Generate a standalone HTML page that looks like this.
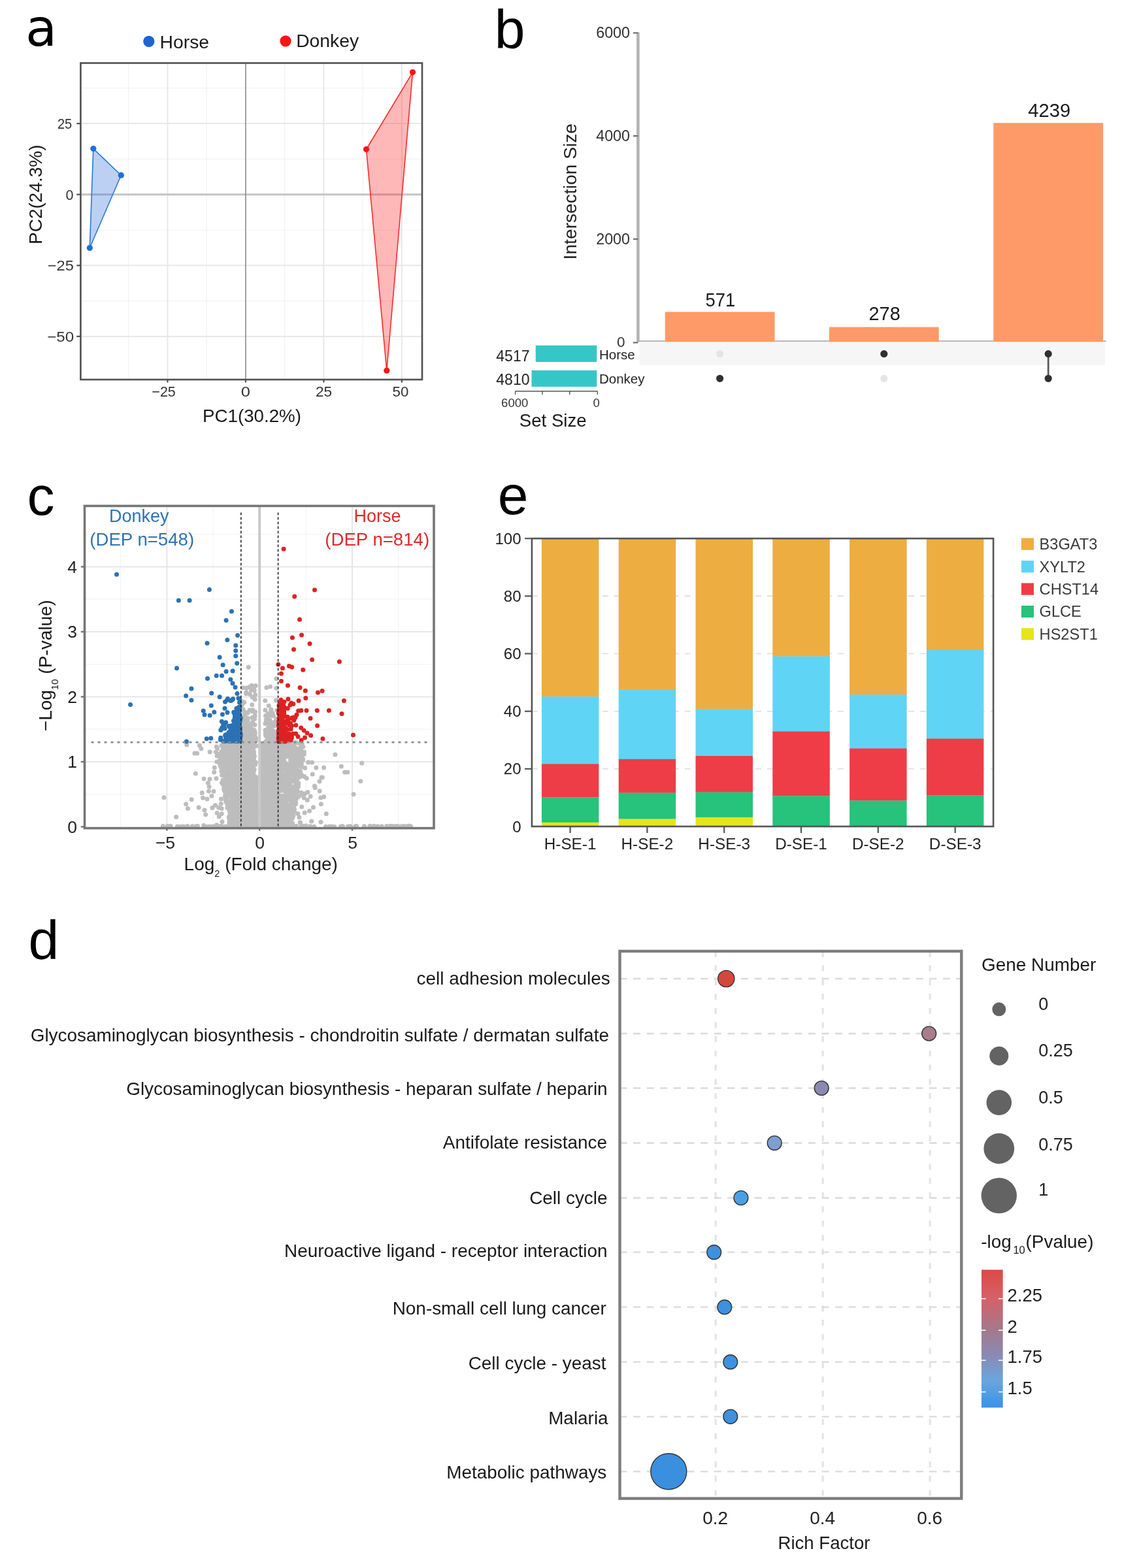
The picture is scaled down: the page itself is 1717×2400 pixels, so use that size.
<!DOCTYPE html>
<html><head><meta charset="utf-8"><title>Figure</title>
<style>html,body{margin:0;padding:0;background:#fff;}svg{display:block;}</style></head>
<body><svg width="1717" height="2400" viewBox="0 0 1717 2400" font-family='"Liberation Sans", Arial, Helvetica, sans-serif'>
<rect width="1717" height="2400" fill="#fff"/>
<text x="38.9" y="70.4" font-size="78.6" text-anchor="start" fill="#000" font-family="DejaVu Sans">a</text>
<circle cx="227.8" cy="63.3" r="8.6" fill="#1f63d6" />
<text x="244.6" y="74.2" font-size="28.3" text-anchor="start" fill="#1a1a1a" >Horse</text>
<circle cx="437.0" cy="62.8" r="8.6" fill="#fe1313" />
<text x="453.2" y="72.4" font-size="28.3" text-anchor="start" fill="#1a1a1a" >Donkey</text>
<line x1="196.6" y1="96.5" x2="196.6" y2="581.0" stroke="#f2f2f2" stroke-width="1.2" />
<line x1="316.1" y1="96.5" x2="316.1" y2="581.0" stroke="#f2f2f2" stroke-width="1.2" />
<line x1="435.6" y1="96.5" x2="435.6" y2="581.0" stroke="#f2f2f2" stroke-width="1.2" />
<line x1="555.1" y1="96.5" x2="555.1" y2="581.0" stroke="#f2f2f2" stroke-width="1.2" />
<line x1="123.4" y1="134.8" x2="646.0" y2="134.8" stroke="#f2f2f2" stroke-width="1.2" />
<line x1="123.4" y1="243.4" x2="646.0" y2="243.4" stroke="#f2f2f2" stroke-width="1.2" />
<line x1="123.4" y1="352.0" x2="646.0" y2="352.0" stroke="#f2f2f2" stroke-width="1.2" />
<line x1="123.4" y1="460.6" x2="646.0" y2="460.6" stroke="#f2f2f2" stroke-width="1.2" />
<line x1="256.4" y1="96.5" x2="256.4" y2="581.0" stroke="#e8e8e8" stroke-width="2" />
<line x1="495.4" y1="96.5" x2="495.4" y2="581.0" stroke="#e8e8e8" stroke-width="2" />
<line x1="614.9" y1="96.5" x2="614.9" y2="581.0" stroke="#e8e8e8" stroke-width="2" />
<line x1="123.4" y1="189.1" x2="646.0" y2="189.1" stroke="#e8e8e8" stroke-width="2" />
<line x1="123.4" y1="406.3" x2="646.0" y2="406.3" stroke="#e8e8e8" stroke-width="2" />
<line x1="123.4" y1="514.9" x2="646.0" y2="514.9" stroke="#e8e8e8" stroke-width="2" />
<line x1="123.4" y1="297.7" x2="646.0" y2="297.7" stroke="#c4c4c4" stroke-width="3" />
<line x1="375.9" y1="96.5" x2="375.9" y2="581.0" stroke="#8a8a8a" stroke-width="1.6" />
<polygon points="142.8,227.6 185.3,268.2 137.3,379.5" fill="#1f63d6" fill-opacity="0.3" stroke="#2a78d8" stroke-width="1.6"/>
<polygon points="631.5,110.6 560.5,228.5 591.8,567.2" fill="#fe1313" fill-opacity="0.3" stroke="#fe2a2a" stroke-width="1.6"/>
<circle cx="142.8" cy="227.6" r="4.6" fill="#1f6fd6" />
<circle cx="185.3" cy="268.2" r="4.6" fill="#1f6fd6" />
<circle cx="137.3" cy="379.5" r="4.6" fill="#1f6fd6" />
<circle cx="631.5" cy="110.6" r="4.6" fill="#fe1313" />
<circle cx="560.5" cy="228.5" r="4.6" fill="#fe1313" />
<circle cx="591.8" cy="567.2" r="4.6" fill="#fe1313" />
<rect x="123.4" y="96.5" width="522.6" height="484.5" fill="none" stroke="#505050" stroke-width="2.6"/>
<line x1="117.3" y1="189.1" x2="123.4" y2="189.1" stroke="#505050" stroke-width="2.2" />
<text x="87.90" y="197.00" font-size="22.5" fill="#333" textLength="22.14" lengthAdjust="spacingAndGlyphs" >25</text>
<line x1="117.3" y1="297.7" x2="123.4" y2="297.7" stroke="#505050" stroke-width="2.2" />
<text x="100.56" y="305.60" font-size="22.5" fill="#333" textLength="11.98" lengthAdjust="spacingAndGlyphs" >0</text>
<line x1="117.3" y1="406.3" x2="123.4" y2="406.3" stroke="#505050" stroke-width="2.2" />
<text x="72.74" y="414.20" font-size="22.5" fill="#333" textLength="40.06" lengthAdjust="spacingAndGlyphs" >−25</text>
<line x1="117.3" y1="514.9" x2="123.4" y2="514.9" stroke="#505050" stroke-width="2.2" />
<text x="72.21" y="522.80" font-size="22.5" fill="#333" textLength="40.93" lengthAdjust="spacingAndGlyphs" >−50</text>
<line x1="256.4" y1="581.0" x2="256.4" y2="585.5" stroke="#505050" stroke-width="2.2" />
<text x="232.34" y="607.00" font-size="22.5" fill="#333" textLength="36.46" lengthAdjust="spacingAndGlyphs" >−25</text>
<line x1="375.9" y1="581.0" x2="375.9" y2="585.5" stroke="#505050" stroke-width="2.2" />
<text x="368.80" y="607.00" font-size="22.5" fill="#333" textLength="14.19" lengthAdjust="spacingAndGlyphs" >0</text>
<line x1="495.4" y1="581.0" x2="495.4" y2="585.5" stroke="#505050" stroke-width="2.2" />
<text x="482.96" y="607.00" font-size="22.5" fill="#333" textLength="25.19" lengthAdjust="spacingAndGlyphs" >25</text>
<line x1="614.9" y1="581.0" x2="614.9" y2="585.5" stroke="#505050" stroke-width="2.2" />
<text x="600.51" y="607.00" font-size="22.5" fill="#333" textLength="24.76" lengthAdjust="spacingAndGlyphs" >50</text>
<text x="385.5" y="645.7" font-size="27.7" text-anchor="middle" fill="#1a1a1a" >PC1(30.2%)</text>
<text transform="translate(63.5,297.7) rotate(-90)" font-size="28" text-anchor="middle" fill="#1a1a1a">PC2(24.3%)</text>
<text x="756.7" y="73.6" font-size="84" text-anchor="start" fill="#000" >b</text>
<rect x="978.5" y="523.0" width="712.5" height="36.0" fill="#f6f6f6" />
<line x1="976.4" y1="49.4" x2="976.4" y2="523.5" stroke="#b3b3b3" stroke-width="4.6" />
<line x1="974.0" y1="522.2" x2="1692.7" y2="522.2" stroke="#b0b0b0" stroke-width="1.8" />
<line x1="969.0" y1="50.4" x2="976.4" y2="50.4" stroke="#707070" stroke-width="2.2" />
<line x1="969.0" y1="208.1" x2="976.4" y2="208.1" stroke="#707070" stroke-width="2.2" />
<line x1="969.0" y1="365.9" x2="976.4" y2="365.9" stroke="#707070" stroke-width="2.2" />
<line x1="969.0" y1="524.4" x2="976.4" y2="524.4" stroke="#707070" stroke-width="2.2" />
<text x="964.0" y="58.1" font-size="23.3" text-anchor="end" fill="#333" >6000</text>
<text x="964.0" y="215.8" font-size="23.3" text-anchor="end" fill="#333" >4000</text>
<text x="964.0" y="373.6" font-size="23.3" text-anchor="end" fill="#333" >2000</text>
<text x="956.5" y="530.8" font-size="22.5" text-anchor="end" fill="#333" >0</text>
<text transform="translate(882.3,293.2) rotate(-90)" font-size="28.2" text-anchor="middle" fill="#222">Intersection Size</text>
<rect x="1017.7" y="477.5" width="167.8" height="45.7" fill="#fd9a67" />
<text x="1079.50" y="468.60" font-size="29" fill="#1a1a1a" textLength="45.63" lengthAdjust="spacingAndGlyphs" >571</text>
<rect x="1268.9" y="500.6" width="167.8" height="22.6" fill="#fd9a67" />
<text x="1329.55" y="489.60" font-size="29" fill="#1a1a1a" textLength="48.21" lengthAdjust="spacingAndGlyphs" >278</text>
<rect x="1520.3" y="188.2" width="167.8" height="335.0" fill="#fd9a67" />
<text x="1573.23" y="179.00" font-size="29" fill="#1a1a1a" textLength="64.95" lengthAdjust="spacingAndGlyphs" >4239</text>
<circle cx="1101.6" cy="541.6" r="5.6" fill="#e4e4e4" />
<circle cx="1101.6" cy="579.3" r="5.6" fill="#303030" />
<circle cx="1352.8" cy="541.6" r="5.6" fill="#303030" />
<circle cx="1352.8" cy="579.3" r="5.6" fill="#e4e4e4" />
<line x1="1604.2" y1="541.6" x2="1604.2" y2="579.3" stroke="#5a5a5a" stroke-width="2.8" />
<circle cx="1604.2" cy="541.6" r="5.6" fill="#303030" />
<circle cx="1604.2" cy="579.3" r="5.6" fill="#303030" />
<rect x="819.7" y="528.7" width="93.6" height="25.3" fill="#35c7c7" />
<rect x="813.5" y="566.9" width="99.8" height="25.0" fill="#35c7c7" />
<text x="810.5" y="553.3" font-size="23" text-anchor="end" fill="#222" >4517</text>
<text x="810.5" y="589.4" font-size="23" text-anchor="end" fill="#222" >4810</text>
<text x="917.0" y="550.0" font-size="20.5" text-anchor="start" fill="#222" >Horse</text>
<text x="917.0" y="586.9" font-size="20.5" text-anchor="start" fill="#222" >Donkey</text>
<line x1="788.6" y1="598.8" x2="914.3" y2="598.8" stroke="#555" stroke-width="1.4" />
<line x1="788.6" y1="598.8" x2="788.6" y2="604.0" stroke="#555" stroke-width="1.4" />
<line x1="829.9" y1="598.8" x2="829.9" y2="604.0" stroke="#555" stroke-width="1.4" />
<line x1="871.8" y1="598.8" x2="871.8" y2="604.0" stroke="#555" stroke-width="1.4" />
<line x1="914.3" y1="598.8" x2="914.3" y2="604.0" stroke="#555" stroke-width="1.4" />
<text x="787.7" y="622.6" font-size="18.5" text-anchor="middle" fill="#333" >6000</text>
<text x="912.7" y="622.6" font-size="18.5" text-anchor="middle" fill="#333" >0</text>
<text x="846.2" y="653.0" font-size="27.6" text-anchor="middle" fill="#1a1a1a" >Set Size</text>
<text x="41.4" y="787.6" font-size="84" text-anchor="start" fill="#000" >c</text>
<svg x="129.5" y="774.4" width="534.5" height="493.19999999999993" viewBox="129.5 774.4 534.5 493.19999999999993" overflow="hidden">
<line x1="184.5" y1="774.4" x2="184.5" y2="1267.6" stroke="#f3f3f3" stroke-width="1.2" />
<line x1="326.3" y1="774.4" x2="326.3" y2="1267.6" stroke="#f3f3f3" stroke-width="1.2" />
<line x1="468.1" y1="774.4" x2="468.1" y2="1267.6" stroke="#f3f3f3" stroke-width="1.2" />
<line x1="609.9" y1="774.4" x2="609.9" y2="1267.6" stroke="#f3f3f3" stroke-width="1.2" />
<line x1="129.5" y1="1215.8" x2="664.0" y2="1215.8" stroke="#f3f3f3" stroke-width="1.2" />
<line x1="129.5" y1="1116.2" x2="664.0" y2="1116.2" stroke="#f3f3f3" stroke-width="1.2" />
<line x1="129.5" y1="1016.8" x2="664.0" y2="1016.8" stroke="#f3f3f3" stroke-width="1.2" />
<line x1="129.5" y1="917.2" x2="664.0" y2="917.2" stroke="#f3f3f3" stroke-width="1.2" />
<line x1="129.5" y1="817.8" x2="664.0" y2="817.8" stroke="#f3f3f3" stroke-width="1.2" />
<line x1="255.4" y1="774.4" x2="255.4" y2="1267.6" stroke="#e6e6e6" stroke-width="2" />
<line x1="397.2" y1="774.4" x2="397.2" y2="1267.6" stroke="#e6e6e6" stroke-width="2" />
<line x1="539.0" y1="774.4" x2="539.0" y2="1267.6" stroke="#e6e6e6" stroke-width="2" />
<line x1="129.5" y1="1166.0" x2="664.0" y2="1166.0" stroke="#e6e6e6" stroke-width="2" />
<line x1="129.5" y1="1066.5" x2="664.0" y2="1066.5" stroke="#e6e6e6" stroke-width="2" />
<line x1="129.5" y1="967.0" x2="664.0" y2="967.0" stroke="#e6e6e6" stroke-width="2" />
<line x1="129.5" y1="867.5" x2="664.0" y2="867.5" stroke="#e6e6e6" stroke-width="2" />
<g fill="#bdbdbd"><circle cx="423.6" cy="1207.0" r="3.5"/><circle cx="414.8" cy="1205.3" r="3.5"/><circle cx="415.9" cy="1241.6" r="3.5"/><circle cx="385.8" cy="1162.9" r="3.5"/><circle cx="417.6" cy="1253.8" r="3.5"/><circle cx="424.6" cy="1260.1" r="3.5"/><circle cx="403.6" cy="1180.9" r="3.5"/><circle cx="401.0" cy="1263.6" r="3.5"/><circle cx="392.5" cy="1240.9" r="3.5"/><circle cx="372.7" cy="1205.5" r="3.5"/><circle cx="412.5" cy="1198.4" r="3.5"/><circle cx="386.4" cy="1179.8" r="3.5"/><circle cx="421.4" cy="1136.5" r="3.5"/><circle cx="387.6" cy="1173.9" r="3.5"/><circle cx="374.5" cy="1228.1" r="3.5"/><circle cx="409.6" cy="1213.7" r="3.5"/><circle cx="399.5" cy="1141.6" r="3.5"/><circle cx="411.7" cy="1238.4" r="3.5"/><circle cx="402.5" cy="1140.8" r="3.5"/><circle cx="391.8" cy="1233.6" r="3.5"/><circle cx="379.6" cy="1162.4" r="3.5"/><circle cx="375.4" cy="1207.6" r="3.5"/><circle cx="402.5" cy="1248.6" r="3.5"/><circle cx="386.6" cy="1211.1" r="3.5"/><circle cx="407.4" cy="1139.9" r="3.5"/><circle cx="383.6" cy="1151.0" r="3.5"/><circle cx="402.1" cy="1155.0" r="3.5"/><circle cx="386.9" cy="1137.5" r="3.5"/><circle cx="386.0" cy="1165.6" r="3.5"/><circle cx="379.0" cy="1256.0" r="3.5"/><circle cx="409.2" cy="1234.1" r="3.5"/><circle cx="412.1" cy="1206.9" r="3.5"/><circle cx="404.2" cy="1191.2" r="3.5"/><circle cx="420.8" cy="1245.6" r="3.5"/><circle cx="375.2" cy="1233.2" r="3.5"/><circle cx="370.1" cy="1143.9" r="3.5"/><circle cx="410.5" cy="1151.4" r="3.5"/><circle cx="369.8" cy="1252.1" r="3.5"/><circle cx="406.2" cy="1234.7" r="3.5"/><circle cx="407.1" cy="1159.0" r="3.5"/><circle cx="401.3" cy="1242.8" r="3.5"/><circle cx="421.7" cy="1236.0" r="3.5"/><circle cx="370.9" cy="1186.0" r="3.5"/><circle cx="386.7" cy="1239.1" r="3.5"/><circle cx="388.9" cy="1207.8" r="3.5"/><circle cx="402.9" cy="1217.8" r="3.5"/><circle cx="425.1" cy="1218.7" r="3.5"/><circle cx="414.7" cy="1180.5" r="3.5"/><circle cx="392.8" cy="1247.3" r="3.5"/><circle cx="424.6" cy="1147.8" r="3.5"/><circle cx="412.1" cy="1262.8" r="3.5"/><circle cx="368.9" cy="1171.0" r="3.5"/><circle cx="418.7" cy="1255.8" r="3.5"/><circle cx="417.8" cy="1149.1" r="3.5"/><circle cx="408.6" cy="1162.9" r="3.5"/><circle cx="422.2" cy="1176.9" r="3.5"/><circle cx="422.0" cy="1211.5" r="3.5"/><circle cx="409.4" cy="1191.4" r="3.5"/><circle cx="401.6" cy="1190.1" r="3.5"/><circle cx="422.4" cy="1182.8" r="3.5"/><circle cx="375.3" cy="1171.3" r="3.5"/><circle cx="372.8" cy="1190.4" r="3.5"/><circle cx="400.2" cy="1254.7" r="3.5"/><circle cx="387.6" cy="1187.7" r="3.5"/><circle cx="378.2" cy="1175.2" r="3.5"/><circle cx="389.1" cy="1177.8" r="3.5"/><circle cx="371.5" cy="1180.1" r="3.5"/><circle cx="404.6" cy="1223.2" r="3.5"/><circle cx="423.3" cy="1209.8" r="3.5"/><circle cx="379.0" cy="1151.6" r="3.5"/><circle cx="381.1" cy="1224.6" r="3.5"/><circle cx="418.0" cy="1157.2" r="3.5"/><circle cx="383.1" cy="1229.9" r="3.5"/><circle cx="385.5" cy="1184.6" r="3.5"/><circle cx="411.3" cy="1157.0" r="3.5"/><circle cx="371.9" cy="1255.8" r="3.5"/><circle cx="414.4" cy="1260.1" r="3.5"/><circle cx="400.0" cy="1225.5" r="3.5"/><circle cx="392.6" cy="1247.9" r="3.5"/><circle cx="377.9" cy="1184.1" r="3.5"/><circle cx="424.5" cy="1180.8" r="3.5"/><circle cx="381.6" cy="1177.0" r="3.5"/><circle cx="381.7" cy="1242.4" r="3.5"/><circle cx="386.6" cy="1173.1" r="3.5"/><circle cx="413.0" cy="1220.8" r="3.5"/><circle cx="409.7" cy="1186.0" r="3.5"/><circle cx="401.7" cy="1163.1" r="3.5"/><circle cx="402.9" cy="1144.9" r="3.5"/><circle cx="423.2" cy="1206.8" r="3.5"/><circle cx="422.4" cy="1216.8" r="3.5"/><circle cx="411.6" cy="1162.4" r="3.5"/><circle cx="375.6" cy="1181.3" r="3.5"/><circle cx="418.2" cy="1159.6" r="3.5"/><circle cx="425.1" cy="1237.9" r="3.5"/><circle cx="420.1" cy="1139.1" r="3.5"/><circle cx="421.8" cy="1224.1" r="3.5"/><circle cx="382.5" cy="1220.4" r="3.5"/><circle cx="412.2" cy="1194.3" r="3.5"/><circle cx="401.1" cy="1261.8" r="3.5"/><circle cx="385.1" cy="1162.0" r="3.5"/><circle cx="417.5" cy="1171.9" r="3.5"/><circle cx="370.1" cy="1143.2" r="3.5"/><circle cx="380.4" cy="1254.4" r="3.5"/><circle cx="416.1" cy="1228.0" r="3.5"/><circle cx="414.1" cy="1197.9" r="3.5"/><circle cx="372.6" cy="1225.2" r="3.5"/><circle cx="372.5" cy="1149.0" r="3.5"/><circle cx="414.4" cy="1140.2" r="3.5"/><circle cx="412.6" cy="1239.5" r="3.5"/><circle cx="369.6" cy="1187.2" r="3.5"/><circle cx="373.7" cy="1198.8" r="3.5"/><circle cx="376.4" cy="1192.7" r="3.5"/><circle cx="410.3" cy="1257.0" r="3.5"/><circle cx="406.5" cy="1141.7" r="3.5"/><circle cx="382.7" cy="1204.3" r="3.5"/><circle cx="411.9" cy="1160.0" r="3.5"/><circle cx="378.2" cy="1224.5" r="3.5"/><circle cx="374.2" cy="1145.8" r="3.5"/><circle cx="387.7" cy="1262.6" r="3.5"/><circle cx="384.6" cy="1176.6" r="3.5"/><circle cx="375.4" cy="1185.3" r="3.5"/><circle cx="406.0" cy="1249.6" r="3.5"/><circle cx="410.9" cy="1239.9" r="3.5"/><circle cx="380.3" cy="1216.9" r="3.5"/><circle cx="377.8" cy="1244.8" r="3.5"/><circle cx="421.7" cy="1182.9" r="3.5"/><circle cx="405.5" cy="1186.4" r="3.5"/><circle cx="423.0" cy="1169.7" r="3.5"/><circle cx="370.7" cy="1224.6" r="3.5"/><circle cx="422.6" cy="1237.3" r="3.5"/><circle cx="375.5" cy="1248.2" r="3.5"/><circle cx="372.9" cy="1231.9" r="3.5"/><circle cx="402.8" cy="1211.0" r="3.5"/><circle cx="399.9" cy="1213.4" r="3.5"/><circle cx="423.2" cy="1239.5" r="3.5"/><circle cx="380.9" cy="1140.2" r="3.5"/><circle cx="417.4" cy="1167.4" r="3.5"/><circle cx="390.6" cy="1241.1" r="3.5"/><circle cx="412.9" cy="1260.7" r="3.5"/><circle cx="423.7" cy="1156.8" r="3.5"/><circle cx="370.0" cy="1253.2" r="3.5"/><circle cx="408.0" cy="1205.7" r="3.5"/><circle cx="410.7" cy="1205.1" r="3.5"/><circle cx="376.1" cy="1187.8" r="3.5"/><circle cx="382.2" cy="1156.3" r="3.5"/><circle cx="388.5" cy="1169.9" r="3.5"/><circle cx="399.9" cy="1244.1" r="3.5"/><circle cx="417.9" cy="1150.0" r="3.5"/><circle cx="410.0" cy="1154.2" r="3.5"/><circle cx="425.1" cy="1187.9" r="3.5"/><circle cx="371.0" cy="1161.4" r="3.5"/><circle cx="420.7" cy="1169.2" r="3.5"/><circle cx="422.4" cy="1213.0" r="3.5"/><circle cx="419.4" cy="1175.6" r="3.5"/><circle cx="401.3" cy="1213.0" r="3.5"/><circle cx="393.0" cy="1221.3" r="3.5"/><circle cx="415.8" cy="1219.5" r="3.5"/><circle cx="416.8" cy="1235.5" r="3.5"/><circle cx="414.3" cy="1221.8" r="3.5"/><circle cx="368.8" cy="1196.5" r="3.5"/><circle cx="419.3" cy="1182.4" r="3.5"/><circle cx="378.2" cy="1138.7" r="3.5"/><circle cx="383.4" cy="1169.9" r="3.5"/><circle cx="384.1" cy="1259.0" r="3.5"/><circle cx="371.1" cy="1252.8" r="3.5"/><circle cx="424.7" cy="1194.4" r="3.5"/><circle cx="416.1" cy="1192.0" r="3.5"/><circle cx="378.7" cy="1160.8" r="3.5"/><circle cx="370.5" cy="1167.3" r="3.5"/><circle cx="389.1" cy="1244.8" r="3.5"/><circle cx="401.0" cy="1201.4" r="3.5"/><circle cx="380.4" cy="1143.2" r="3.5"/><circle cx="386.3" cy="1188.2" r="3.5"/><circle cx="406.9" cy="1180.8" r="3.5"/><circle cx="374.8" cy="1260.0" r="3.5"/><circle cx="419.0" cy="1215.1" r="3.5"/><circle cx="424.1" cy="1259.0" r="3.5"/><circle cx="410.7" cy="1256.0" r="3.5"/><circle cx="405.8" cy="1203.7" r="3.5"/><circle cx="418.3" cy="1197.8" r="3.5"/><circle cx="420.8" cy="1204.9" r="3.5"/><circle cx="378.0" cy="1187.4" r="3.5"/><circle cx="392.0" cy="1206.6" r="3.5"/><circle cx="382.4" cy="1197.2" r="3.5"/><circle cx="386.8" cy="1179.1" r="3.5"/><circle cx="374.3" cy="1190.2" r="3.5"/><circle cx="424.3" cy="1196.8" r="3.5"/><circle cx="390.5" cy="1170.5" r="3.5"/><circle cx="408.8" cy="1164.0" r="3.5"/><circle cx="414.2" cy="1230.4" r="3.5"/><circle cx="419.1" cy="1189.0" r="3.5"/><circle cx="369.3" cy="1240.9" r="3.5"/><circle cx="400.5" cy="1147.1" r="3.5"/><circle cx="382.9" cy="1257.6" r="3.5"/><circle cx="380.0" cy="1184.9" r="3.5"/><circle cx="376.7" cy="1256.1" r="3.5"/><circle cx="409.2" cy="1194.3" r="3.5"/><circle cx="384.8" cy="1203.6" r="3.5"/><circle cx="401.4" cy="1169.2" r="3.5"/><circle cx="415.7" cy="1250.0" r="3.5"/><circle cx="382.9" cy="1166.1" r="3.5"/><circle cx="409.1" cy="1232.1" r="3.5"/><circle cx="408.0" cy="1180.9" r="3.5"/><circle cx="423.5" cy="1194.5" r="3.5"/><circle cx="390.9" cy="1210.2" r="3.5"/><circle cx="407.3" cy="1202.8" r="3.5"/><circle cx="388.0" cy="1165.2" r="3.5"/><circle cx="385.8" cy="1179.9" r="3.5"/><circle cx="406.9" cy="1171.7" r="3.5"/><circle cx="375.5" cy="1247.0" r="3.5"/><circle cx="375.9" cy="1218.1" r="3.5"/><circle cx="424.0" cy="1191.9" r="3.5"/><circle cx="373.6" cy="1147.4" r="3.5"/><circle cx="383.5" cy="1226.1" r="3.5"/><circle cx="405.9" cy="1144.6" r="3.5"/><circle cx="384.4" cy="1218.7" r="3.5"/><circle cx="388.5" cy="1214.3" r="3.5"/><circle cx="413.6" cy="1192.6" r="3.5"/><circle cx="404.1" cy="1157.3" r="3.5"/><circle cx="406.8" cy="1167.3" r="3.5"/><circle cx="413.7" cy="1262.6" r="3.5"/><circle cx="416.5" cy="1192.1" r="3.5"/><circle cx="379.9" cy="1161.5" r="3.5"/><circle cx="377.8" cy="1149.2" r="3.5"/><circle cx="416.4" cy="1246.9" r="3.5"/><circle cx="374.6" cy="1233.8" r="3.5"/><circle cx="409.8" cy="1198.0" r="3.5"/><circle cx="417.0" cy="1221.8" r="3.5"/><circle cx="418.3" cy="1201.6" r="3.5"/><circle cx="410.2" cy="1173.9" r="3.5"/><circle cx="421.7" cy="1158.6" r="3.5"/><circle cx="422.7" cy="1161.3" r="3.5"/><circle cx="413.1" cy="1141.6" r="3.5"/><circle cx="410.5" cy="1173.7" r="3.5"/><circle cx="375.2" cy="1211.1" r="3.5"/><circle cx="369.6" cy="1210.5" r="3.5"/><circle cx="390.4" cy="1257.8" r="3.5"/><circle cx="404.2" cy="1181.7" r="3.5"/><circle cx="379.0" cy="1257.4" r="3.5"/><circle cx="375.7" cy="1237.4" r="3.5"/><circle cx="407.6" cy="1243.2" r="3.5"/><circle cx="412.0" cy="1194.6" r="3.5"/><circle cx="423.3" cy="1231.8" r="3.5"/><circle cx="424.4" cy="1221.3" r="3.5"/><circle cx="392.0" cy="1203.1" r="3.5"/><circle cx="380.4" cy="1161.8" r="3.5"/><circle cx="369.1" cy="1198.8" r="3.5"/><circle cx="418.1" cy="1217.4" r="3.5"/><circle cx="412.9" cy="1231.9" r="3.5"/><circle cx="406.4" cy="1183.1" r="3.5"/><circle cx="374.4" cy="1196.4" r="3.5"/><circle cx="421.5" cy="1265.3" r="3.5"/><circle cx="386.6" cy="1159.2" r="3.5"/><circle cx="381.5" cy="1172.8" r="3.5"/><circle cx="414.8" cy="1204.9" r="3.5"/><circle cx="374.0" cy="1154.6" r="3.5"/><circle cx="401.8" cy="1211.6" r="3.5"/><circle cx="380.0" cy="1158.6" r="3.5"/><circle cx="372.9" cy="1197.5" r="3.5"/><circle cx="391.4" cy="1225.2" r="3.5"/><circle cx="375.8" cy="1226.0" r="3.5"/><circle cx="402.2" cy="1219.0" r="3.5"/><circle cx="369.6" cy="1214.5" r="3.5"/><circle cx="399.8" cy="1158.2" r="3.5"/><circle cx="405.7" cy="1216.7" r="3.5"/><circle cx="393.0" cy="1192.5" r="3.5"/><circle cx="378.2" cy="1162.1" r="3.5"/><circle cx="380.1" cy="1227.9" r="3.5"/><circle cx="383.7" cy="1226.9" r="3.5"/><circle cx="388.4" cy="1179.3" r="3.5"/><circle cx="370.2" cy="1170.9" r="3.5"/><circle cx="408.1" cy="1192.7" r="3.5"/><circle cx="404.2" cy="1177.8" r="3.5"/><circle cx="414.9" cy="1213.5" r="3.5"/><circle cx="389.4" cy="1253.8" r="3.5"/><circle cx="391.5" cy="1249.4" r="3.5"/><circle cx="380.8" cy="1146.4" r="3.5"/><circle cx="420.9" cy="1181.8" r="3.5"/><circle cx="383.2" cy="1215.6" r="3.5"/><circle cx="376.2" cy="1263.5" r="3.5"/><circle cx="416.7" cy="1138.5" r="3.5"/><circle cx="385.2" cy="1186.8" r="3.5"/><circle cx="402.2" cy="1221.2" r="3.5"/><circle cx="420.0" cy="1216.7" r="3.5"/><circle cx="403.6" cy="1158.8" r="3.5"/><circle cx="413.8" cy="1166.4" r="3.5"/><circle cx="403.2" cy="1219.9" r="3.5"/><circle cx="412.9" cy="1173.2" r="3.5"/><circle cx="404.6" cy="1173.0" r="3.5"/><circle cx="404.6" cy="1143.3" r="3.5"/><circle cx="379.2" cy="1254.7" r="3.5"/><circle cx="370.6" cy="1175.3" r="3.5"/><circle cx="390.2" cy="1218.8" r="3.5"/><circle cx="371.2" cy="1139.6" r="3.5"/><circle cx="414.1" cy="1195.2" r="3.5"/><circle cx="425.4" cy="1231.3" r="3.5"/><circle cx="402.7" cy="1159.8" r="3.5"/><circle cx="371.4" cy="1158.8" r="3.5"/><circle cx="421.1" cy="1234.3" r="3.5"/><circle cx="401.5" cy="1241.5" r="3.5"/><circle cx="369.2" cy="1261.4" r="3.5"/><circle cx="407.5" cy="1144.0" r="3.5"/><circle cx="409.4" cy="1178.7" r="3.5"/><circle cx="399.9" cy="1188.9" r="3.5"/><circle cx="389.7" cy="1239.7" r="3.5"/><circle cx="404.0" cy="1215.5" r="3.5"/><circle cx="379.4" cy="1198.3" r="3.5"/><circle cx="400.5" cy="1222.5" r="3.5"/><circle cx="369.8" cy="1178.7" r="3.5"/><circle cx="383.2" cy="1187.9" r="3.5"/><circle cx="419.2" cy="1184.8" r="3.5"/><circle cx="369.0" cy="1168.3" r="3.5"/><circle cx="410.1" cy="1157.1" r="3.5"/><circle cx="423.1" cy="1209.4" r="3.5"/><circle cx="410.7" cy="1197.5" r="3.5"/><circle cx="415.1" cy="1149.1" r="3.5"/><circle cx="378.8" cy="1168.2" r="3.5"/><circle cx="382.3" cy="1256.5" r="3.5"/><circle cx="385.8" cy="1197.4" r="3.5"/><circle cx="391.6" cy="1214.3" r="3.5"/><circle cx="416.8" cy="1147.6" r="3.5"/><circle cx="373.6" cy="1153.4" r="3.5"/><circle cx="414.3" cy="1236.8" r="3.5"/><circle cx="373.9" cy="1148.6" r="3.5"/><circle cx="424.3" cy="1249.5" r="3.5"/><circle cx="385.9" cy="1265.4" r="3.5"/><circle cx="371.4" cy="1223.5" r="3.5"/><circle cx="384.5" cy="1160.0" r="3.5"/><circle cx="392.5" cy="1189.8" r="3.5"/><circle cx="370.5" cy="1225.7" r="3.5"/><circle cx="388.2" cy="1139.1" r="3.5"/><circle cx="422.9" cy="1227.3" r="3.5"/><circle cx="408.7" cy="1240.2" r="3.5"/><circle cx="371.8" cy="1204.4" r="3.5"/><circle cx="377.8" cy="1136.7" r="3.5"/><circle cx="400.8" cy="1240.7" r="3.5"/><circle cx="407.6" cy="1251.8" r="3.5"/><circle cx="418.1" cy="1149.0" r="3.5"/><circle cx="423.9" cy="1248.1" r="3.5"/><circle cx="387.8" cy="1207.9" r="3.5"/><circle cx="404.6" cy="1225.8" r="3.5"/><circle cx="377.0" cy="1242.1" r="3.5"/><circle cx="377.1" cy="1163.3" r="3.5"/><circle cx="405.4" cy="1151.1" r="3.5"/><circle cx="416.9" cy="1226.6" r="3.5"/><circle cx="401.8" cy="1229.7" r="3.5"/><circle cx="380.3" cy="1138.3" r="3.5"/><circle cx="378.6" cy="1196.8" r="3.5"/><circle cx="373.6" cy="1228.7" r="3.5"/><circle cx="374.8" cy="1254.2" r="3.5"/><circle cx="379.9" cy="1233.7" r="3.5"/><circle cx="425.2" cy="1241.4" r="3.5"/><circle cx="374.9" cy="1261.2" r="3.5"/><circle cx="412.5" cy="1215.7" r="3.5"/><circle cx="416.3" cy="1242.2" r="3.5"/><circle cx="419.9" cy="1219.0" r="3.5"/><circle cx="421.5" cy="1198.7" r="3.5"/><circle cx="424.3" cy="1177.0" r="3.5"/><circle cx="403.8" cy="1243.0" r="3.5"/><circle cx="382.5" cy="1186.8" r="3.5"/><circle cx="420.1" cy="1165.5" r="3.5"/><circle cx="387.8" cy="1235.0" r="3.5"/><circle cx="422.2" cy="1173.1" r="3.5"/><circle cx="392.8" cy="1242.2" r="3.5"/><circle cx="382.5" cy="1201.3" r="3.5"/><circle cx="401.4" cy="1231.5" r="3.5"/><circle cx="413.6" cy="1148.1" r="3.5"/><circle cx="378.1" cy="1260.0" r="3.5"/><circle cx="378.9" cy="1197.5" r="3.5"/><circle cx="403.9" cy="1254.1" r="3.5"/><circle cx="376.4" cy="1232.5" r="3.5"/><circle cx="401.1" cy="1158.0" r="3.5"/><circle cx="388.0" cy="1212.4" r="3.5"/><circle cx="381.3" cy="1140.0" r="3.5"/><circle cx="403.2" cy="1167.0" r="3.5"/><circle cx="400.5" cy="1206.6" r="3.5"/><circle cx="403.2" cy="1234.4" r="3.5"/><circle cx="382.9" cy="1214.7" r="3.5"/><circle cx="368.9" cy="1255.6" r="3.5"/><circle cx="405.5" cy="1166.8" r="3.5"/><circle cx="405.8" cy="1232.7" r="3.5"/><circle cx="409.0" cy="1205.8" r="3.5"/><circle cx="415.4" cy="1221.9" r="3.5"/><circle cx="377.4" cy="1260.4" r="3.5"/><circle cx="376.3" cy="1257.9" r="3.5"/><circle cx="422.6" cy="1153.7" r="3.5"/><circle cx="372.7" cy="1205.7" r="3.5"/><circle cx="405.1" cy="1216.2" r="3.5"/><circle cx="379.8" cy="1220.6" r="3.5"/><circle cx="388.0" cy="1244.3" r="3.5"/><circle cx="382.3" cy="1205.0" r="3.5"/><circle cx="422.0" cy="1137.0" r="3.5"/><circle cx="391.5" cy="1239.0" r="3.5"/><circle cx="386.5" cy="1176.1" r="3.5"/><circle cx="386.8" cy="1263.1" r="3.5"/><circle cx="418.1" cy="1214.7" r="3.5"/><circle cx="389.5" cy="1230.8" r="3.5"/><circle cx="374.6" cy="1144.3" r="3.5"/><circle cx="400.0" cy="1171.9" r="3.5"/><circle cx="391.2" cy="1223.8" r="3.5"/><circle cx="374.4" cy="1151.4" r="3.5"/><circle cx="383.6" cy="1198.3" r="3.5"/><circle cx="389.5" cy="1234.7" r="3.5"/><circle cx="385.6" cy="1188.5" r="3.5"/><circle cx="403.0" cy="1210.6" r="3.5"/><circle cx="375.5" cy="1174.1" r="3.5"/><circle cx="388.2" cy="1179.3" r="3.5"/><circle cx="410.0" cy="1229.2" r="3.5"/><circle cx="405.4" cy="1215.5" r="3.5"/><circle cx="388.0" cy="1227.7" r="3.5"/><circle cx="377.9" cy="1260.2" r="3.5"/><circle cx="424.9" cy="1192.3" r="3.5"/><circle cx="423.4" cy="1226.9" r="3.5"/><circle cx="416.9" cy="1237.5" r="3.5"/><circle cx="405.6" cy="1142.0" r="3.5"/><circle cx="382.8" cy="1183.7" r="3.5"/><circle cx="383.9" cy="1214.7" r="3.5"/><circle cx="386.4" cy="1223.0" r="3.5"/><circle cx="381.6" cy="1245.0" r="3.5"/><circle cx="405.7" cy="1243.9" r="3.5"/><circle cx="382.9" cy="1253.5" r="3.5"/><circle cx="417.8" cy="1246.0" r="3.5"/><circle cx="400.1" cy="1193.9" r="3.5"/><circle cx="391.7" cy="1214.9" r="3.5"/><circle cx="381.1" cy="1213.2" r="3.5"/><circle cx="385.3" cy="1189.7" r="3.5"/><circle cx="384.8" cy="1232.7" r="3.5"/><circle cx="406.3" cy="1150.2" r="3.5"/><circle cx="381.8" cy="1179.1" r="3.5"/><circle cx="408.9" cy="1185.9" r="3.5"/><circle cx="419.6" cy="1191.0" r="3.5"/><circle cx="410.2" cy="1184.4" r="3.5"/><circle cx="373.0" cy="1211.7" r="3.5"/><circle cx="371.0" cy="1151.7" r="3.5"/><circle cx="380.9" cy="1260.6" r="3.5"/><circle cx="369.4" cy="1225.6" r="3.5"/><circle cx="387.7" cy="1246.1" r="3.5"/><circle cx="381.2" cy="1214.5" r="3.5"/><circle cx="415.8" cy="1181.4" r="3.5"/><circle cx="424.7" cy="1193.0" r="3.5"/><circle cx="371.6" cy="1222.4" r="3.5"/><circle cx="417.6" cy="1225.0" r="3.5"/><circle cx="421.0" cy="1176.7" r="3.5"/><circle cx="412.3" cy="1244.9" r="3.5"/><circle cx="386.3" cy="1192.6" r="3.5"/><circle cx="405.7" cy="1168.6" r="3.5"/><circle cx="388.9" cy="1233.3" r="3.5"/><circle cx="402.4" cy="1252.3" r="3.5"/><circle cx="412.0" cy="1207.1" r="3.5"/><circle cx="422.2" cy="1244.5" r="3.5"/><circle cx="380.9" cy="1258.6" r="3.5"/><circle cx="375.8" cy="1162.5" r="3.5"/><circle cx="408.0" cy="1232.9" r="3.5"/><circle cx="421.5" cy="1222.3" r="3.5"/><circle cx="410.4" cy="1158.3" r="3.5"/><circle cx="421.2" cy="1174.1" r="3.5"/><circle cx="384.0" cy="1161.9" r="3.5"/><circle cx="424.8" cy="1189.8" r="3.5"/><circle cx="410.4" cy="1248.2" r="3.5"/><circle cx="370.5" cy="1183.8" r="3.5"/><circle cx="375.8" cy="1137.6" r="3.5"/><circle cx="386.3" cy="1250.2" r="3.5"/><circle cx="402.6" cy="1170.9" r="3.5"/><circle cx="380.0" cy="1222.8" r="3.5"/><circle cx="385.7" cy="1203.0" r="3.5"/><circle cx="406.9" cy="1162.0" r="3.5"/><circle cx="419.4" cy="1214.8" r="3.5"/><circle cx="376.3" cy="1138.6" r="3.5"/><circle cx="403.3" cy="1194.9" r="3.5"/><circle cx="370.5" cy="1242.9" r="3.5"/><circle cx="390.3" cy="1233.0" r="3.5"/><circle cx="379.4" cy="1223.6" r="3.5"/><circle cx="406.6" cy="1246.9" r="3.5"/><circle cx="384.3" cy="1236.1" r="3.5"/><circle cx="391.7" cy="1231.9" r="3.5"/><circle cx="404.7" cy="1203.0" r="3.5"/><circle cx="383.1" cy="1153.3" r="3.5"/><circle cx="406.7" cy="1180.5" r="3.5"/><circle cx="425.4" cy="1144.1" r="3.5"/><circle cx="418.4" cy="1208.2" r="3.5"/><circle cx="389.1" cy="1242.8" r="3.5"/><circle cx="384.5" cy="1250.1" r="3.5"/><circle cx="380.7" cy="1168.0" r="3.5"/><circle cx="369.8" cy="1264.1" r="3.5"/><circle cx="420.6" cy="1264.1" r="3.5"/><circle cx="409.9" cy="1163.0" r="3.5"/><circle cx="419.5" cy="1161.6" r="3.5"/><circle cx="370.1" cy="1138.0" r="3.5"/><circle cx="406.0" cy="1213.5" r="3.5"/><circle cx="379.2" cy="1147.8" r="3.5"/><circle cx="384.2" cy="1236.1" r="3.5"/><circle cx="409.0" cy="1180.5" r="3.5"/><circle cx="386.4" cy="1183.0" r="3.5"/><circle cx="375.1" cy="1169.6" r="3.5"/><circle cx="404.1" cy="1194.8" r="3.5"/><circle cx="384.7" cy="1251.8" r="3.5"/><circle cx="381.0" cy="1209.8" r="3.5"/><circle cx="380.1" cy="1213.3" r="3.5"/><circle cx="371.8" cy="1142.3" r="3.5"/><circle cx="402.3" cy="1224.0" r="3.5"/><circle cx="369.8" cy="1137.8" r="3.5"/><circle cx="376.0" cy="1237.1" r="3.5"/><circle cx="376.7" cy="1242.5" r="3.5"/><circle cx="377.7" cy="1137.5" r="3.5"/><circle cx="405.0" cy="1216.6" r="3.5"/><circle cx="421.8" cy="1185.8" r="3.5"/><circle cx="414.3" cy="1184.2" r="3.5"/><circle cx="417.5" cy="1250.7" r="3.5"/><circle cx="410.4" cy="1206.9" r="3.5"/><circle cx="378.6" cy="1215.7" r="3.5"/><circle cx="400.3" cy="1191.4" r="3.5"/><circle cx="378.8" cy="1184.4" r="3.5"/><circle cx="403.4" cy="1188.6" r="3.5"/><circle cx="418.7" cy="1204.9" r="3.5"/><circle cx="425.3" cy="1225.0" r="3.5"/><circle cx="402.8" cy="1213.5" r="3.5"/><circle cx="387.5" cy="1137.4" r="3.5"/><circle cx="423.9" cy="1156.8" r="3.5"/><circle cx="412.8" cy="1158.2" r="3.5"/><circle cx="372.0" cy="1137.0" r="3.5"/><circle cx="373.5" cy="1173.4" r="3.5"/><circle cx="422.1" cy="1206.8" r="3.5"/><circle cx="377.5" cy="1240.1" r="3.5"/><circle cx="420.0" cy="1256.0" r="3.5"/><circle cx="373.7" cy="1202.0" r="3.5"/><circle cx="413.8" cy="1154.9" r="3.5"/><circle cx="403.4" cy="1148.3" r="3.5"/><circle cx="392.3" cy="1218.2" r="3.5"/><circle cx="421.2" cy="1220.8" r="3.5"/><circle cx="383.8" cy="1250.3" r="3.5"/><circle cx="423.0" cy="1155.7" r="3.5"/><circle cx="404.9" cy="1256.2" r="3.5"/><circle cx="418.5" cy="1184.1" r="3.5"/><circle cx="410.7" cy="1240.0" r="3.5"/><circle cx="385.5" cy="1263.5" r="3.5"/><circle cx="378.5" cy="1184.0" r="3.5"/><circle cx="390.4" cy="1205.2" r="3.5"/><circle cx="388.4" cy="1186.6" r="3.5"/><circle cx="418.7" cy="1136.8" r="3.5"/><circle cx="383.3" cy="1218.9" r="3.5"/><circle cx="410.6" cy="1246.6" r="3.5"/><circle cx="382.1" cy="1159.4" r="3.5"/><circle cx="408.5" cy="1200.0" r="3.5"/><circle cx="379.1" cy="1174.5" r="3.5"/><circle cx="406.9" cy="1228.7" r="3.5"/><circle cx="411.3" cy="1155.0" r="3.5"/><circle cx="375.1" cy="1144.7" r="3.5"/><circle cx="369.9" cy="1229.1" r="3.5"/><circle cx="417.0" cy="1227.6" r="3.5"/><circle cx="390.0" cy="1233.8" r="3.5"/><circle cx="383.0" cy="1149.7" r="3.5"/><circle cx="421.7" cy="1221.3" r="3.5"/><circle cx="402.1" cy="1189.1" r="3.5"/><circle cx="384.4" cy="1149.5" r="3.5"/><circle cx="416.9" cy="1217.1" r="3.5"/><circle cx="424.2" cy="1221.0" r="3.5"/><circle cx="411.7" cy="1262.5" r="3.5"/><circle cx="385.5" cy="1218.7" r="3.5"/><circle cx="424.8" cy="1178.7" r="3.5"/><circle cx="409.8" cy="1139.2" r="3.5"/><circle cx="417.8" cy="1158.3" r="3.5"/><circle cx="382.0" cy="1136.5" r="3.5"/><circle cx="405.2" cy="1213.6" r="3.5"/><circle cx="384.2" cy="1137.5" r="3.5"/><circle cx="375.1" cy="1247.0" r="3.5"/><circle cx="377.4" cy="1254.7" r="3.5"/><circle cx="406.1" cy="1184.9" r="3.5"/><circle cx="419.7" cy="1160.6" r="3.5"/><circle cx="392.8" cy="1250.0" r="3.5"/><circle cx="422.8" cy="1154.3" r="3.5"/><circle cx="380.2" cy="1262.4" r="3.5"/><circle cx="374.0" cy="1196.5" r="3.5"/><circle cx="402.7" cy="1226.5" r="3.5"/><circle cx="405.9" cy="1227.5" r="3.5"/><circle cx="387.9" cy="1212.0" r="3.5"/><circle cx="411.5" cy="1207.1" r="3.5"/><circle cx="372.5" cy="1155.5" r="3.5"/><circle cx="413.2" cy="1245.5" r="3.5"/><circle cx="422.0" cy="1212.9" r="3.5"/><circle cx="418.1" cy="1159.6" r="3.5"/><circle cx="400.2" cy="1245.2" r="3.5"/><circle cx="369.7" cy="1251.2" r="3.5"/><circle cx="400.7" cy="1182.3" r="3.5"/><circle cx="386.9" cy="1211.7" r="3.5"/><circle cx="408.0" cy="1251.0" r="3.5"/><circle cx="422.6" cy="1202.2" r="3.5"/><circle cx="412.5" cy="1143.1" r="3.5"/><circle cx="385.9" cy="1148.6" r="3.5"/><circle cx="384.3" cy="1169.9" r="3.5"/><circle cx="384.5" cy="1210.0" r="3.5"/><circle cx="392.0" cy="1209.8" r="3.5"/><circle cx="380.4" cy="1157.4" r="3.5"/><circle cx="387.8" cy="1194.7" r="3.5"/><circle cx="385.6" cy="1252.7" r="3.5"/><circle cx="375.0" cy="1202.9" r="3.5"/><circle cx="383.3" cy="1202.5" r="3.5"/><circle cx="378.8" cy="1140.5" r="3.5"/><circle cx="378.6" cy="1141.2" r="3.5"/><circle cx="378.4" cy="1217.8" r="3.5"/><circle cx="381.1" cy="1189.3" r="3.5"/><circle cx="400.9" cy="1198.7" r="3.5"/><circle cx="386.6" cy="1253.5" r="3.5"/><circle cx="372.3" cy="1162.6" r="3.5"/><circle cx="376.6" cy="1213.5" r="3.5"/><circle cx="421.2" cy="1254.4" r="3.5"/><circle cx="373.2" cy="1223.0" r="3.5"/><circle cx="400.9" cy="1163.5" r="3.5"/><circle cx="378.0" cy="1166.7" r="3.5"/><circle cx="416.1" cy="1194.1" r="3.5"/><circle cx="419.1" cy="1262.6" r="3.5"/><circle cx="375.3" cy="1190.5" r="3.5"/><circle cx="425.1" cy="1211.4" r="3.5"/><circle cx="374.2" cy="1146.9" r="3.5"/><circle cx="409.3" cy="1208.5" r="3.5"/><circle cx="390.4" cy="1207.6" r="3.5"/><circle cx="401.3" cy="1224.1" r="3.5"/><circle cx="416.9" cy="1250.5" r="3.5"/><circle cx="423.5" cy="1142.1" r="3.5"/><circle cx="380.1" cy="1238.2" r="3.5"/><circle cx="371.9" cy="1156.9" r="3.5"/><circle cx="382.7" cy="1204.4" r="3.5"/><circle cx="423.7" cy="1216.7" r="3.5"/><circle cx="409.6" cy="1201.6" r="3.5"/><circle cx="375.1" cy="1164.8" r="3.5"/><circle cx="404.7" cy="1244.0" r="3.5"/><circle cx="384.7" cy="1220.7" r="3.5"/><circle cx="409.6" cy="1189.0" r="3.5"/><circle cx="408.8" cy="1191.2" r="3.5"/><circle cx="369.3" cy="1190.0" r="3.5"/><circle cx="405.6" cy="1223.1" r="3.5"/><circle cx="414.5" cy="1231.7" r="3.5"/><circle cx="373.1" cy="1232.2" r="3.5"/><circle cx="410.8" cy="1216.7" r="3.5"/><circle cx="424.9" cy="1185.6" r="3.5"/><circle cx="381.4" cy="1147.8" r="3.5"/><circle cx="402.1" cy="1235.6" r="3.5"/><circle cx="400.4" cy="1225.8" r="3.5"/><circle cx="413.9" cy="1175.2" r="3.5"/><circle cx="370.0" cy="1222.4" r="3.5"/><circle cx="402.0" cy="1166.6" r="3.5"/><circle cx="388.4" cy="1164.1" r="3.5"/><circle cx="402.6" cy="1196.3" r="3.5"/><circle cx="422.9" cy="1166.6" r="3.5"/><circle cx="409.0" cy="1146.0" r="3.5"/><circle cx="407.1" cy="1142.5" r="3.5"/><circle cx="406.4" cy="1154.6" r="3.5"/><circle cx="380.1" cy="1233.3" r="3.5"/><circle cx="387.1" cy="1232.7" r="3.5"/><circle cx="386.6" cy="1248.5" r="3.5"/><circle cx="380.8" cy="1228.6" r="3.5"/><circle cx="372.3" cy="1152.5" r="3.5"/><circle cx="413.7" cy="1154.9" r="3.5"/><circle cx="416.7" cy="1170.6" r="3.5"/><circle cx="406.2" cy="1146.6" r="3.5"/><circle cx="408.9" cy="1258.5" r="3.5"/><circle cx="382.2" cy="1163.7" r="3.5"/><circle cx="424.1" cy="1217.6" r="3.5"/><circle cx="408.6" cy="1200.1" r="3.5"/><circle cx="402.3" cy="1235.5" r="3.5"/><circle cx="401.3" cy="1143.8" r="3.5"/><circle cx="379.4" cy="1148.9" r="3.5"/><circle cx="407.5" cy="1250.0" r="3.5"/><circle cx="377.0" cy="1152.7" r="3.5"/><circle cx="379.3" cy="1256.7" r="3.5"/><circle cx="421.8" cy="1138.4" r="3.5"/><circle cx="401.5" cy="1164.0" r="3.5"/><circle cx="380.4" cy="1197.3" r="3.5"/><circle cx="388.4" cy="1219.7" r="3.5"/><circle cx="381.4" cy="1174.3" r="3.5"/><circle cx="379.6" cy="1255.3" r="3.5"/><circle cx="403.0" cy="1139.7" r="3.5"/><circle cx="376.1" cy="1226.7" r="3.5"/><circle cx="424.3" cy="1144.1" r="3.5"/><circle cx="423.9" cy="1145.8" r="3.5"/><circle cx="378.8" cy="1262.9" r="3.5"/><circle cx="415.5" cy="1176.8" r="3.5"/><circle cx="380.6" cy="1144.8" r="3.5"/><circle cx="390.5" cy="1141.4" r="3.5"/><circle cx="392.5" cy="1141.7" r="3.5"/><circle cx="414.6" cy="1176.4" r="3.5"/><circle cx="399.5" cy="1167.5" r="3.5"/><circle cx="424.9" cy="1256.7" r="3.5"/><circle cx="385.0" cy="1157.7" r="3.5"/><circle cx="374.4" cy="1220.6" r="3.5"/><circle cx="413.2" cy="1231.6" r="3.5"/><circle cx="411.3" cy="1222.1" r="3.5"/><circle cx="404.1" cy="1235.2" r="3.5"/><circle cx="381.5" cy="1246.1" r="3.5"/><circle cx="387.4" cy="1164.1" r="3.5"/><circle cx="380.5" cy="1180.9" r="3.5"/><circle cx="404.3" cy="1232.5" r="3.5"/><circle cx="385.2" cy="1235.5" r="3.5"/><circle cx="420.1" cy="1171.5" r="3.5"/><circle cx="374.6" cy="1195.6" r="3.5"/><circle cx="383.1" cy="1233.9" r="3.5"/><circle cx="384.5" cy="1137.5" r="3.5"/><circle cx="409.6" cy="1147.7" r="3.5"/><circle cx="419.9" cy="1248.0" r="3.5"/><circle cx="409.4" cy="1221.8" r="3.5"/><circle cx="418.8" cy="1228.4" r="3.5"/><circle cx="399.8" cy="1203.9" r="3.5"/><circle cx="391.6" cy="1201.0" r="3.5"/><circle cx="371.8" cy="1246.9" r="3.5"/><circle cx="408.4" cy="1141.3" r="3.5"/><circle cx="375.8" cy="1145.1" r="3.5"/><circle cx="424.2" cy="1151.3" r="3.5"/><circle cx="390.3" cy="1206.8" r="3.5"/><circle cx="401.3" cy="1230.2" r="3.5"/><circle cx="392.0" cy="1241.6" r="3.5"/><circle cx="390.2" cy="1225.8" r="3.5"/><circle cx="414.3" cy="1197.3" r="3.5"/><circle cx="424.2" cy="1166.9" r="3.5"/><circle cx="391.4" cy="1255.0" r="3.5"/><circle cx="423.6" cy="1225.5" r="3.5"/><circle cx="385.2" cy="1200.3" r="3.5"/><circle cx="373.9" cy="1192.0" r="3.5"/><circle cx="378.5" cy="1139.7" r="3.5"/><circle cx="388.6" cy="1156.1" r="3.5"/><circle cx="400.1" cy="1143.4" r="3.5"/><circle cx="405.0" cy="1243.1" r="3.5"/><circle cx="373.7" cy="1263.0" r="3.5"/><circle cx="411.6" cy="1200.9" r="3.5"/><circle cx="385.8" cy="1241.9" r="3.5"/><circle cx="378.1" cy="1260.1" r="3.5"/><circle cx="378.0" cy="1217.7" r="3.5"/><circle cx="371.7" cy="1224.5" r="3.5"/><circle cx="380.1" cy="1190.4" r="3.5"/><circle cx="370.9" cy="1206.0" r="3.5"/><circle cx="421.7" cy="1235.3" r="3.5"/><circle cx="380.8" cy="1151.4" r="3.5"/><circle cx="403.6" cy="1235.1" r="3.5"/><circle cx="412.4" cy="1220.6" r="3.5"/><circle cx="409.4" cy="1146.2" r="3.5"/><circle cx="386.7" cy="1265.3" r="3.5"/><circle cx="411.5" cy="1191.2" r="3.5"/><circle cx="381.5" cy="1253.9" r="3.5"/><circle cx="406.8" cy="1182.5" r="3.5"/><circle cx="373.7" cy="1208.2" r="3.5"/><circle cx="420.3" cy="1235.2" r="3.5"/><circle cx="412.6" cy="1232.6" r="3.5"/><circle cx="424.1" cy="1210.4" r="3.5"/><circle cx="386.1" cy="1202.1" r="3.5"/><circle cx="408.4" cy="1156.7" r="3.5"/><circle cx="372.9" cy="1240.1" r="3.5"/><circle cx="423.4" cy="1161.6" r="3.5"/><circle cx="418.0" cy="1176.9" r="3.5"/><circle cx="404.1" cy="1160.8" r="3.5"/><circle cx="387.3" cy="1160.1" r="3.5"/><circle cx="380.7" cy="1146.6" r="3.5"/><circle cx="415.4" cy="1221.1" r="3.5"/><circle cx="416.3" cy="1147.7" r="3.5"/><circle cx="402.3" cy="1257.2" r="3.5"/><circle cx="407.6" cy="1138.5" r="3.5"/><circle cx="419.2" cy="1241.5" r="3.5"/><circle cx="402.7" cy="1138.1" r="3.5"/><circle cx="372.1" cy="1171.5" r="3.5"/><circle cx="422.3" cy="1166.1" r="3.5"/><circle cx="416.1" cy="1191.9" r="3.5"/><circle cx="384.6" cy="1201.9" r="3.5"/><circle cx="373.8" cy="1262.5" r="3.5"/><circle cx="419.7" cy="1235.9" r="3.5"/><circle cx="407.7" cy="1175.7" r="3.5"/><circle cx="377.4" cy="1230.2" r="3.5"/><circle cx="408.1" cy="1176.7" r="3.5"/><circle cx="407.0" cy="1145.6" r="3.5"/><circle cx="424.6" cy="1142.4" r="3.5"/><circle cx="386.4" cy="1165.4" r="3.5"/><circle cx="392.4" cy="1197.9" r="3.5"/><circle cx="375.1" cy="1196.2" r="3.5"/><circle cx="379.1" cy="1233.2" r="3.5"/><circle cx="391.5" cy="1234.3" r="3.5"/><circle cx="380.4" cy="1258.8" r="3.5"/><circle cx="410.3" cy="1142.8" r="3.5"/><circle cx="381.7" cy="1212.9" r="3.5"/><circle cx="382.7" cy="1141.4" r="3.5"/><circle cx="414.0" cy="1176.8" r="3.5"/><circle cx="423.0" cy="1182.6" r="3.5"/><circle cx="425.5" cy="1233.0" r="3.5"/><circle cx="374.5" cy="1197.2" r="3.5"/><circle cx="379.8" cy="1258.1" r="3.5"/><circle cx="418.4" cy="1230.2" r="3.5"/><circle cx="416.4" cy="1224.2" r="3.5"/><circle cx="382.7" cy="1174.2" r="3.5"/><circle cx="369.9" cy="1251.7" r="3.5"/><circle cx="410.0" cy="1191.4" r="3.5"/><circle cx="415.5" cy="1181.5" r="3.5"/><circle cx="402.8" cy="1259.5" r="3.5"/><circle cx="392.8" cy="1258.4" r="3.5"/><circle cx="381.8" cy="1256.1" r="3.5"/><circle cx="421.7" cy="1251.8" r="3.5"/><circle cx="407.7" cy="1202.6" r="3.5"/><circle cx="385.8" cy="1138.3" r="3.5"/><circle cx="412.7" cy="1236.9" r="3.5"/><circle cx="371.6" cy="1212.4" r="3.5"/><circle cx="417.9" cy="1232.2" r="3.5"/><circle cx="382.6" cy="1207.5" r="3.5"/><circle cx="378.0" cy="1206.9" r="3.5"/><circle cx="374.4" cy="1212.3" r="3.5"/><circle cx="371.8" cy="1206.6" r="3.5"/><circle cx="371.3" cy="1206.7" r="3.5"/><circle cx="409.9" cy="1139.2" r="3.5"/><circle cx="407.2" cy="1178.7" r="3.5"/><circle cx="416.6" cy="1171.9" r="3.5"/><circle cx="377.3" cy="1179.0" r="3.5"/><circle cx="413.5" cy="1236.3" r="3.5"/><circle cx="375.9" cy="1138.7" r="3.5"/><circle cx="374.5" cy="1263.3" r="3.5"/><circle cx="405.2" cy="1231.9" r="3.5"/><circle cx="404.6" cy="1214.0" r="3.5"/><circle cx="379.0" cy="1147.4" r="3.5"/><circle cx="409.7" cy="1159.3" r="3.5"/><circle cx="419.3" cy="1189.1" r="3.5"/><circle cx="406.0" cy="1168.9" r="3.5"/><circle cx="413.7" cy="1174.3" r="3.5"/><circle cx="374.2" cy="1137.8" r="3.5"/><circle cx="424.3" cy="1223.5" r="3.5"/><circle cx="413.3" cy="1230.0" r="3.5"/><circle cx="378.0" cy="1201.4" r="3.5"/><circle cx="407.0" cy="1149.9" r="3.5"/><circle cx="425.3" cy="1206.0" r="3.5"/><circle cx="408.7" cy="1191.8" r="3.5"/><circle cx="385.9" cy="1167.3" r="3.5"/><circle cx="421.1" cy="1176.0" r="3.5"/><circle cx="384.5" cy="1216.3" r="3.5"/><circle cx="384.1" cy="1196.0" r="3.5"/><circle cx="385.6" cy="1180.5" r="3.5"/><circle cx="406.0" cy="1152.6" r="3.5"/><circle cx="391.1" cy="1242.5" r="3.5"/><circle cx="406.4" cy="1162.8" r="3.5"/><circle cx="400.2" cy="1202.2" r="3.5"/><circle cx="405.0" cy="1159.6" r="3.5"/><circle cx="408.3" cy="1174.5" r="3.5"/><circle cx="381.7" cy="1151.9" r="3.5"/><circle cx="373.4" cy="1224.9" r="3.5"/><circle cx="425.2" cy="1191.8" r="3.5"/><circle cx="378.1" cy="1236.6" r="3.5"/><circle cx="408.4" cy="1246.1" r="3.5"/><circle cx="373.0" cy="1208.6" r="3.5"/><circle cx="403.9" cy="1147.1" r="3.5"/><circle cx="405.1" cy="1219.6" r="3.5"/><circle cx="405.4" cy="1151.3" r="3.5"/><circle cx="375.7" cy="1218.4" r="3.5"/><circle cx="401.1" cy="1259.4" r="3.5"/><circle cx="414.7" cy="1156.7" r="3.5"/><circle cx="384.6" cy="1253.2" r="3.5"/><circle cx="422.0" cy="1138.1" r="3.5"/><circle cx="392.7" cy="1257.4" r="3.5"/><circle cx="386.6" cy="1175.3" r="3.5"/><circle cx="407.9" cy="1179.2" r="3.5"/><circle cx="379.5" cy="1205.0" r="3.5"/><circle cx="387.2" cy="1219.5" r="3.5"/><circle cx="392.8" cy="1227.7" r="3.5"/><circle cx="406.5" cy="1225.3" r="3.5"/><circle cx="411.7" cy="1250.9" r="3.5"/><circle cx="371.6" cy="1199.3" r="3.5"/><circle cx="416.7" cy="1168.0" r="3.5"/><circle cx="410.2" cy="1175.9" r="3.5"/><circle cx="411.7" cy="1215.1" r="3.5"/><circle cx="420.0" cy="1197.1" r="3.5"/><circle cx="415.7" cy="1261.4" r="3.5"/><circle cx="372.0" cy="1228.6" r="3.5"/><circle cx="417.5" cy="1157.3" r="3.5"/><circle cx="383.5" cy="1169.2" r="3.5"/><circle cx="425.3" cy="1194.0" r="3.5"/><circle cx="401.4" cy="1146.9" r="3.5"/><circle cx="413.6" cy="1233.6" r="3.5"/><circle cx="372.2" cy="1198.9" r="3.5"/><circle cx="401.4" cy="1198.7" r="3.5"/><circle cx="379.5" cy="1182.8" r="3.5"/><circle cx="374.6" cy="1144.0" r="3.5"/><circle cx="404.0" cy="1188.9" r="3.5"/><circle cx="417.1" cy="1205.5" r="3.5"/><circle cx="380.0" cy="1237.5" r="3.5"/><circle cx="415.9" cy="1221.9" r="3.5"/><circle cx="377.2" cy="1263.2" r="3.5"/><circle cx="374.6" cy="1237.8" r="3.5"/><circle cx="414.0" cy="1222.3" r="3.5"/><circle cx="406.3" cy="1252.4" r="3.5"/><circle cx="419.3" cy="1160.2" r="3.5"/><circle cx="373.8" cy="1258.1" r="3.5"/><circle cx="392.5" cy="1247.3" r="3.5"/><circle cx="369.9" cy="1244.3" r="3.5"/><circle cx="373.0" cy="1223.9" r="3.5"/><circle cx="415.5" cy="1241.6" r="3.5"/><circle cx="379.5" cy="1144.5" r="3.5"/><circle cx="406.1" cy="1216.0" r="3.5"/><circle cx="381.2" cy="1173.0" r="3.5"/><circle cx="386.4" cy="1140.2" r="3.5"/><circle cx="401.2" cy="1146.8" r="3.5"/><circle cx="386.2" cy="1241.4" r="3.5"/><circle cx="425.0" cy="1156.3" r="3.5"/><circle cx="409.5" cy="1178.9" r="3.5"/><circle cx="400.7" cy="1215.8" r="3.5"/><circle cx="409.2" cy="1261.9" r="3.5"/><circle cx="378.8" cy="1222.8" r="3.5"/><circle cx="381.0" cy="1147.2" r="3.5"/><circle cx="414.2" cy="1200.9" r="3.5"/><circle cx="375.6" cy="1234.6" r="3.5"/><circle cx="400.3" cy="1255.4" r="3.5"/><circle cx="372.6" cy="1241.0" r="3.5"/><circle cx="419.3" cy="1185.4" r="3.5"/><circle cx="373.1" cy="1172.1" r="3.5"/><circle cx="392.3" cy="1246.4" r="3.5"/><circle cx="409.4" cy="1261.8" r="3.5"/><circle cx="372.6" cy="1254.3" r="3.5"/><circle cx="400.4" cy="1187.7" r="3.5"/><circle cx="388.6" cy="1250.9" r="3.5"/><circle cx="377.6" cy="1251.0" r="3.5"/><circle cx="380.2" cy="1243.8" r="3.5"/><circle cx="379.4" cy="1216.9" r="3.5"/><circle cx="381.7" cy="1199.8" r="3.5"/><circle cx="404.5" cy="1260.4" r="3.5"/><circle cx="371.6" cy="1222.1" r="3.5"/><circle cx="380.0" cy="1189.5" r="3.5"/><circle cx="383.9" cy="1143.9" r="3.5"/><circle cx="376.0" cy="1173.9" r="3.5"/><circle cx="386.3" cy="1148.0" r="3.5"/><circle cx="419.9" cy="1227.6" r="3.5"/><circle cx="404.3" cy="1175.0" r="3.5"/><circle cx="419.4" cy="1214.6" r="3.5"/><circle cx="418.8" cy="1250.9" r="3.5"/><circle cx="378.5" cy="1153.5" r="3.5"/><circle cx="414.5" cy="1141.5" r="3.5"/><circle cx="421.4" cy="1150.4" r="3.5"/><circle cx="403.2" cy="1180.7" r="3.5"/><circle cx="402.9" cy="1213.3" r="3.5"/><circle cx="377.9" cy="1164.5" r="3.5"/><circle cx="378.4" cy="1229.3" r="3.5"/><circle cx="372.3" cy="1240.7" r="3.5"/><circle cx="384.3" cy="1137.9" r="3.5"/><circle cx="372.5" cy="1175.8" r="3.5"/><circle cx="408.3" cy="1239.8" r="3.5"/><circle cx="393.2" cy="1265.4" r="3.5"/><circle cx="369.1" cy="1223.0" r="3.5"/><circle cx="375.8" cy="1183.0" r="3.5"/><circle cx="375.6" cy="1235.4" r="3.5"/><circle cx="410.5" cy="1154.7" r="3.5"/><circle cx="385.6" cy="1224.4" r="3.5"/><circle cx="376.5" cy="1169.6" r="3.5"/><circle cx="424.7" cy="1245.8" r="3.5"/><circle cx="403.7" cy="1239.2" r="3.5"/><circle cx="388.8" cy="1260.9" r="3.5"/><circle cx="417.1" cy="1171.0" r="3.5"/><circle cx="417.3" cy="1206.1" r="3.5"/><circle cx="409.2" cy="1194.6" r="3.5"/><circle cx="400.1" cy="1250.9" r="3.5"/><circle cx="389.3" cy="1235.8" r="3.5"/><circle cx="402.8" cy="1257.2" r="3.5"/><circle cx="408.5" cy="1187.4" r="3.5"/><circle cx="418.5" cy="1249.9" r="3.5"/><circle cx="414.7" cy="1151.2" r="3.5"/><circle cx="424.9" cy="1153.9" r="3.5"/><circle cx="416.0" cy="1228.4" r="3.5"/><circle cx="381.6" cy="1204.9" r="3.5"/><circle cx="412.8" cy="1231.4" r="3.5"/><circle cx="420.2" cy="1177.3" r="3.5"/><circle cx="380.9" cy="1228.0" r="3.5"/><circle cx="370.8" cy="1161.5" r="3.5"/><circle cx="381.5" cy="1202.9" r="3.5"/><circle cx="400.7" cy="1219.3" r="3.5"/><circle cx="376.7" cy="1213.8" r="3.5"/><circle cx="382.9" cy="1246.0" r="3.5"/><circle cx="411.1" cy="1187.6" r="3.5"/><circle cx="371.6" cy="1227.3" r="3.5"/><circle cx="371.6" cy="1237.9" r="3.5"/><circle cx="389.9" cy="1203.0" r="3.5"/><circle cx="376.8" cy="1168.6" r="3.5"/><circle cx="378.5" cy="1237.8" r="3.5"/><circle cx="408.2" cy="1258.9" r="3.5"/><circle cx="402.3" cy="1246.9" r="3.5"/><circle cx="411.7" cy="1260.7" r="3.5"/><circle cx="404.9" cy="1149.0" r="3.5"/><circle cx="411.7" cy="1259.7" r="3.5"/><circle cx="404.9" cy="1226.5" r="3.5"/><circle cx="370.7" cy="1182.3" r="3.5"/><circle cx="407.8" cy="1142.8" r="3.5"/><circle cx="420.2" cy="1171.9" r="3.5"/><circle cx="403.1" cy="1260.2" r="3.5"/><circle cx="422.0" cy="1194.8" r="3.5"/><circle cx="407.8" cy="1233.3" r="3.5"/><circle cx="419.3" cy="1243.7" r="3.5"/><circle cx="376.2" cy="1221.9" r="3.5"/><circle cx="412.4" cy="1243.6" r="3.5"/><circle cx="384.2" cy="1182.1" r="3.5"/><circle cx="415.3" cy="1242.7" r="3.5"/><circle cx="415.1" cy="1248.9" r="3.5"/><circle cx="415.3" cy="1186.2" r="3.5"/><circle cx="410.1" cy="1152.1" r="3.5"/><circle cx="383.2" cy="1181.6" r="3.5"/><circle cx="408.7" cy="1218.1" r="3.5"/><circle cx="420.3" cy="1220.0" r="3.5"/><circle cx="409.5" cy="1178.0" r="3.5"/><circle cx="385.5" cy="1182.4" r="3.5"/><circle cx="423.5" cy="1252.5" r="3.5"/><circle cx="390.4" cy="1226.3" r="3.5"/><circle cx="422.7" cy="1247.1" r="3.5"/><circle cx="374.7" cy="1254.6" r="3.5"/><circle cx="408.7" cy="1236.3" r="3.5"/><circle cx="386.1" cy="1204.3" r="3.5"/><circle cx="375.4" cy="1210.6" r="3.5"/><circle cx="420.4" cy="1261.6" r="3.5"/><circle cx="390.3" cy="1223.3" r="3.5"/><circle cx="415.2" cy="1255.5" r="3.5"/><circle cx="378.6" cy="1263.5" r="3.5"/><circle cx="383.0" cy="1224.2" r="3.5"/><circle cx="408.9" cy="1219.8" r="3.5"/><circle cx="414.5" cy="1146.2" r="3.5"/><circle cx="401.8" cy="1249.2" r="3.5"/><circle cx="414.5" cy="1245.3" r="3.5"/><circle cx="419.2" cy="1149.5" r="3.5"/><circle cx="374.3" cy="1182.0" r="3.5"/><circle cx="380.3" cy="1178.9" r="3.5"/><circle cx="418.1" cy="1212.0" r="3.5"/><circle cx="420.1" cy="1176.4" r="3.5"/><circle cx="407.5" cy="1244.7" r="3.5"/><circle cx="379.5" cy="1208.7" r="3.5"/><circle cx="408.1" cy="1229.3" r="3.5"/><circle cx="399.5" cy="1156.1" r="3.5"/><circle cx="371.7" cy="1194.7" r="3.5"/><circle cx="374.5" cy="1256.5" r="3.5"/><circle cx="410.2" cy="1189.1" r="3.5"/><circle cx="382.0" cy="1198.2" r="3.5"/><circle cx="402.3" cy="1232.2" r="3.5"/><circle cx="380.2" cy="1247.7" r="3.5"/><circle cx="369.2" cy="1190.3" r="3.5"/><circle cx="389.4" cy="1157.4" r="3.5"/><circle cx="374.8" cy="1139.1" r="3.5"/><circle cx="404.9" cy="1159.7" r="3.5"/><circle cx="387.6" cy="1249.9" r="3.5"/><circle cx="411.8" cy="1149.1" r="3.5"/><circle cx="387.3" cy="1249.0" r="3.5"/><circle cx="419.7" cy="1181.6" r="3.5"/><circle cx="381.8" cy="1209.0" r="3.5"/><circle cx="376.5" cy="1217.6" r="3.5"/><circle cx="379.4" cy="1173.5" r="3.5"/><circle cx="383.8" cy="1246.7" r="3.5"/><circle cx="391.3" cy="1219.0" r="3.5"/><circle cx="421.3" cy="1210.4" r="3.5"/><circle cx="384.2" cy="1261.6" r="3.5"/><circle cx="378.8" cy="1225.3" r="3.5"/><circle cx="405.5" cy="1263.5" r="3.5"/><circle cx="401.6" cy="1171.9" r="3.5"/><circle cx="374.5" cy="1241.1" r="3.5"/><circle cx="382.2" cy="1170.2" r="3.5"/><circle cx="373.9" cy="1219.6" r="3.5"/><circle cx="423.5" cy="1231.6" r="3.5"/><circle cx="423.9" cy="1187.8" r="3.5"/><circle cx="404.7" cy="1243.4" r="3.5"/><circle cx="385.8" cy="1161.4" r="3.5"/><circle cx="417.2" cy="1208.3" r="3.5"/><circle cx="422.0" cy="1239.1" r="3.5"/><circle cx="386.3" cy="1199.5" r="3.5"/><circle cx="370.2" cy="1227.7" r="3.5"/><circle cx="401.3" cy="1188.5" r="3.5"/><circle cx="408.4" cy="1233.7" r="3.5"/><circle cx="392.0" cy="1236.1" r="3.5"/><circle cx="409.9" cy="1212.2" r="3.5"/><circle cx="384.0" cy="1222.1" r="3.5"/><circle cx="386.0" cy="1230.6" r="3.5"/><circle cx="392.5" cy="1227.0" r="3.5"/><circle cx="371.8" cy="1203.3" r="3.5"/><circle cx="380.4" cy="1218.9" r="3.5"/><circle cx="374.1" cy="1262.4" r="3.5"/><circle cx="384.8" cy="1193.5" r="3.5"/><circle cx="420.1" cy="1168.3" r="3.5"/><circle cx="418.4" cy="1157.4" r="3.5"/><circle cx="380.2" cy="1178.3" r="3.5"/><circle cx="420.8" cy="1190.6" r="3.5"/><circle cx="374.9" cy="1154.5" r="3.5"/><circle cx="423.2" cy="1185.8" r="3.5"/><circle cx="384.1" cy="1259.1" r="3.5"/><circle cx="379.5" cy="1142.8" r="3.5"/><circle cx="412.2" cy="1246.8" r="3.5"/><circle cx="371.7" cy="1170.4" r="3.5"/><circle cx="375.3" cy="1264.6" r="3.5"/><circle cx="406.6" cy="1151.8" r="3.5"/><circle cx="418.6" cy="1255.0" r="3.5"/><circle cx="413.2" cy="1257.7" r="3.5"/><circle cx="385.0" cy="1261.2" r="3.5"/><circle cx="423.9" cy="1252.0" r="3.5"/><circle cx="386.6" cy="1249.4" r="3.5"/><circle cx="385.1" cy="1178.5" r="3.5"/><circle cx="382.6" cy="1212.4" r="3.5"/><circle cx="423.8" cy="1188.4" r="3.5"/><circle cx="405.4" cy="1148.1" r="3.5"/><circle cx="377.5" cy="1233.9" r="3.5"/><circle cx="369.0" cy="1187.1" r="3.5"/><circle cx="391.0" cy="1225.1" r="3.5"/><circle cx="421.4" cy="1238.4" r="3.5"/><circle cx="387.3" cy="1260.1" r="3.5"/><circle cx="406.3" cy="1163.8" r="3.5"/><circle cx="424.8" cy="1252.3" r="3.5"/><circle cx="375.0" cy="1172.8" r="3.5"/><circle cx="406.5" cy="1166.2" r="3.5"/><circle cx="407.9" cy="1197.6" r="3.5"/><circle cx="369.6" cy="1182.8" r="3.5"/><circle cx="369.8" cy="1238.2" r="3.5"/><circle cx="421.4" cy="1142.6" r="3.5"/><circle cx="414.3" cy="1155.7" r="3.5"/><circle cx="421.3" cy="1255.9" r="3.5"/><circle cx="425.3" cy="1202.4" r="3.5"/><circle cx="416.8" cy="1207.7" r="3.5"/><circle cx="377.6" cy="1175.8" r="3.5"/><circle cx="418.3" cy="1256.7" r="3.5"/><circle cx="388.2" cy="1161.7" r="3.5"/><circle cx="413.8" cy="1207.1" r="3.5"/><circle cx="383.5" cy="1251.4" r="3.5"/><circle cx="387.8" cy="1233.8" r="3.5"/><circle cx="423.3" cy="1211.7" r="3.5"/><circle cx="372.1" cy="1178.0" r="3.5"/><circle cx="415.5" cy="1186.7" r="3.5"/><circle cx="391.5" cy="1219.7" r="3.5"/><circle cx="376.6" cy="1179.6" r="3.5"/><circle cx="415.3" cy="1147.7" r="3.5"/><circle cx="420.7" cy="1161.0" r="3.5"/><circle cx="415.4" cy="1182.9" r="3.5"/><circle cx="373.0" cy="1218.5" r="3.5"/><circle cx="415.0" cy="1184.7" r="3.5"/><circle cx="425.3" cy="1155.2" r="3.5"/><circle cx="409.8" cy="1205.7" r="3.5"/><circle cx="384.7" cy="1264.0" r="3.5"/><circle cx="386.5" cy="1137.1" r="3.5"/><circle cx="385.8" cy="1176.2" r="3.5"/><circle cx="378.6" cy="1214.4" r="3.5"/><circle cx="408.3" cy="1210.8" r="3.5"/><circle cx="380.3" cy="1139.1" r="3.5"/><circle cx="385.9" cy="1236.2" r="3.5"/><circle cx="381.3" cy="1149.7" r="3.5"/><circle cx="380.2" cy="1197.7" r="3.5"/><circle cx="386.3" cy="1257.0" r="3.5"/><circle cx="417.8" cy="1160.0" r="3.5"/><circle cx="418.8" cy="1188.5" r="3.5"/><circle cx="375.0" cy="1258.4" r="3.5"/><circle cx="419.7" cy="1156.9" r="3.5"/><circle cx="415.8" cy="1245.1" r="3.5"/><circle cx="369.6" cy="1187.3" r="3.5"/><circle cx="369.3" cy="1199.5" r="3.5"/><circle cx="376.9" cy="1215.7" r="3.5"/><circle cx="385.9" cy="1231.9" r="3.5"/><circle cx="377.0" cy="1187.0" r="3.5"/><circle cx="422.7" cy="1148.4" r="3.5"/><circle cx="373.1" cy="1146.3" r="3.5"/><circle cx="401.4" cy="1253.9" r="3.5"/><circle cx="402.8" cy="1252.7" r="3.5"/><circle cx="399.5" cy="1172.7" r="3.5"/><circle cx="371.6" cy="1162.9" r="3.5"/><circle cx="382.3" cy="1159.6" r="3.5"/><circle cx="400.5" cy="1261.9" r="3.5"/><circle cx="417.2" cy="1197.5" r="3.5"/><circle cx="417.8" cy="1250.4" r="3.5"/><circle cx="414.6" cy="1222.9" r="3.5"/><circle cx="406.7" cy="1212.0" r="3.5"/><circle cx="408.6" cy="1228.4" r="3.5"/><circle cx="388.6" cy="1165.7" r="3.5"/><circle cx="419.1" cy="1265.3" r="3.5"/><circle cx="401.1" cy="1138.5" r="3.5"/><circle cx="378.3" cy="1244.4" r="3.5"/><circle cx="407.2" cy="1185.0" r="3.5"/><circle cx="389.6" cy="1235.3" r="3.5"/><circle cx="383.0" cy="1261.8" r="3.5"/><circle cx="407.7" cy="1217.9" r="3.5"/><circle cx="402.2" cy="1158.5" r="3.5"/><circle cx="422.3" cy="1261.7" r="3.5"/><circle cx="405.5" cy="1259.0" r="3.5"/><circle cx="418.4" cy="1176.6" r="3.5"/><circle cx="369.6" cy="1233.9" r="3.5"/><circle cx="413.6" cy="1147.1" r="3.5"/><circle cx="371.0" cy="1258.9" r="3.5"/><circle cx="392.2" cy="1256.8" r="3.5"/><circle cx="378.2" cy="1239.1" r="3.5"/><circle cx="380.2" cy="1180.4" r="3.5"/><circle cx="373.5" cy="1258.2" r="3.5"/><circle cx="405.8" cy="1231.5" r="3.5"/><circle cx="399.6" cy="1214.6" r="3.5"/><circle cx="418.1" cy="1193.8" r="3.5"/><circle cx="405.3" cy="1142.9" r="3.5"/><circle cx="386.4" cy="1239.8" r="3.5"/><circle cx="376.3" cy="1193.9" r="3.5"/><circle cx="390.3" cy="1211.6" r="3.5"/><circle cx="422.5" cy="1144.5" r="3.5"/><circle cx="403.9" cy="1215.1" r="3.5"/><circle cx="404.9" cy="1171.6" r="3.5"/><circle cx="391.2" cy="1265.0" r="3.5"/><circle cx="411.9" cy="1161.6" r="3.5"/><circle cx="403.0" cy="1250.7" r="3.5"/><circle cx="416.3" cy="1248.2" r="3.5"/><circle cx="403.0" cy="1161.9" r="3.5"/><circle cx="381.2" cy="1226.2" r="3.5"/><circle cx="417.3" cy="1261.8" r="3.5"/><circle cx="371.0" cy="1160.9" r="3.5"/><circle cx="420.5" cy="1157.5" r="3.5"/><circle cx="391.9" cy="1237.6" r="3.5"/><circle cx="369.2" cy="1166.6" r="3.5"/><circle cx="372.1" cy="1228.0" r="3.5"/><circle cx="422.5" cy="1140.2" r="3.5"/><circle cx="378.2" cy="1146.0" r="3.5"/><circle cx="424.3" cy="1257.3" r="3.5"/><circle cx="379.3" cy="1200.1" r="3.5"/><circle cx="391.3" cy="1257.0" r="3.5"/><circle cx="418.8" cy="1211.5" r="3.5"/><circle cx="382.5" cy="1155.1" r="3.5"/><circle cx="414.3" cy="1258.4" r="3.5"/><circle cx="382.0" cy="1212.7" r="3.5"/><circle cx="391.3" cy="1257.4" r="3.5"/><circle cx="373.1" cy="1210.5" r="3.5"/><circle cx="413.9" cy="1186.6" r="3.5"/><circle cx="372.8" cy="1244.8" r="3.5"/><circle cx="416.0" cy="1189.8" r="3.5"/><circle cx="382.7" cy="1259.3" r="3.5"/><circle cx="414.9" cy="1156.3" r="3.5"/><circle cx="379.6" cy="1231.9" r="3.5"/><circle cx="404.9" cy="1212.6" r="3.5"/><circle cx="392.5" cy="1239.0" r="3.5"/><circle cx="403.5" cy="1161.1" r="3.5"/><circle cx="405.9" cy="1263.5" r="3.5"/><circle cx="419.0" cy="1186.0" r="3.5"/><circle cx="407.0" cy="1229.3" r="3.5"/><circle cx="372.0" cy="1167.2" r="3.5"/><circle cx="408.5" cy="1177.8" r="3.5"/><circle cx="406.2" cy="1142.1" r="3.5"/><circle cx="406.6" cy="1247.1" r="3.5"/><circle cx="421.1" cy="1218.5" r="3.5"/><circle cx="415.2" cy="1157.5" r="3.5"/><circle cx="414.7" cy="1144.5" r="3.5"/><circle cx="379.3" cy="1223.6" r="3.5"/><circle cx="422.0" cy="1233.5" r="3.5"/><circle cx="413.7" cy="1209.3" r="3.5"/><circle cx="413.9" cy="1198.5" r="3.5"/><circle cx="413.9" cy="1177.8" r="3.5"/><circle cx="382.5" cy="1235.0" r="3.5"/><circle cx="407.1" cy="1150.8" r="3.5"/><circle cx="411.3" cy="1191.2" r="3.5"/><circle cx="401.7" cy="1242.4" r="3.5"/><circle cx="388.3" cy="1236.0" r="3.5"/><circle cx="380.5" cy="1240.5" r="3.5"/><circle cx="415.1" cy="1243.3" r="3.5"/><circle cx="378.3" cy="1184.7" r="3.5"/><circle cx="376.4" cy="1227.3" r="3.5"/><circle cx="414.7" cy="1237.6" r="3.5"/><circle cx="413.8" cy="1139.4" r="3.5"/><circle cx="384.1" cy="1166.1" r="3.5"/><circle cx="418.2" cy="1209.6" r="3.5"/><circle cx="425.1" cy="1241.5" r="3.5"/><circle cx="415.7" cy="1201.4" r="3.5"/><circle cx="392.8" cy="1215.8" r="3.5"/><circle cx="415.5" cy="1189.0" r="3.5"/><circle cx="375.1" cy="1164.2" r="3.5"/><circle cx="413.8" cy="1187.4" r="3.5"/><circle cx="401.8" cy="1179.2" r="3.5"/><circle cx="410.6" cy="1178.2" r="3.5"/><circle cx="371.6" cy="1219.2" r="3.5"/><circle cx="403.9" cy="1242.6" r="3.5"/><circle cx="401.8" cy="1198.6" r="3.5"/><circle cx="369.4" cy="1154.4" r="3.5"/><circle cx="377.7" cy="1148.0" r="3.5"/><circle cx="384.6" cy="1206.0" r="3.5"/><circle cx="402.4" cy="1208.4" r="3.5"/><circle cx="379.7" cy="1195.8" r="3.5"/><circle cx="407.9" cy="1163.0" r="3.5"/><circle cx="406.5" cy="1142.0" r="3.5"/><circle cx="400.7" cy="1194.7" r="3.5"/><circle cx="386.2" cy="1181.7" r="3.5"/><circle cx="382.6" cy="1244.9" r="3.5"/><circle cx="406.5" cy="1210.9" r="3.5"/><circle cx="373.8" cy="1185.3" r="3.5"/><circle cx="369.4" cy="1161.4" r="3.5"/><circle cx="387.0" cy="1194.8" r="3.5"/><circle cx="376.6" cy="1173.3" r="3.5"/><circle cx="406.4" cy="1232.4" r="3.5"/><circle cx="383.4" cy="1153.0" r="3.5"/><circle cx="413.8" cy="1190.8" r="3.5"/><circle cx="418.9" cy="1193.0" r="3.5"/><circle cx="399.9" cy="1253.6" r="3.5"/><circle cx="406.7" cy="1258.7" r="3.5"/><circle cx="381.2" cy="1261.7" r="3.5"/><circle cx="381.3" cy="1258.6" r="3.5"/><circle cx="421.8" cy="1140.2" r="3.5"/><circle cx="417.0" cy="1189.1" r="3.5"/><circle cx="381.5" cy="1234.5" r="3.5"/><circle cx="412.1" cy="1251.3" r="3.5"/><circle cx="373.6" cy="1239.6" r="3.5"/><circle cx="401.9" cy="1230.1" r="3.5"/><circle cx="380.9" cy="1234.3" r="3.5"/><circle cx="376.4" cy="1176.5" r="3.5"/><circle cx="425.4" cy="1189.7" r="3.5"/><circle cx="411.3" cy="1222.4" r="3.5"/><circle cx="391.2" cy="1252.2" r="3.5"/><circle cx="386.8" cy="1195.3" r="3.5"/><circle cx="411.1" cy="1136.8" r="3.5"/><circle cx="421.3" cy="1195.9" r="3.5"/><circle cx="374.2" cy="1163.9" r="3.5"/><circle cx="380.9" cy="1252.1" r="3.5"/><circle cx="406.9" cy="1241.6" r="3.5"/><circle cx="373.3" cy="1143.5" r="3.5"/><circle cx="374.5" cy="1143.3" r="3.5"/><circle cx="407.7" cy="1146.3" r="3.5"/><circle cx="383.7" cy="1197.6" r="3.5"/><circle cx="381.5" cy="1165.5" r="3.5"/><circle cx="375.4" cy="1199.3" r="3.5"/><circle cx="387.2" cy="1232.7" r="3.5"/><circle cx="376.6" cy="1188.2" r="3.5"/><circle cx="413.8" cy="1210.5" r="3.5"/><circle cx="387.1" cy="1251.9" r="3.5"/><circle cx="412.0" cy="1227.0" r="3.5"/><circle cx="377.9" cy="1169.9" r="3.5"/><circle cx="390.1" cy="1250.2" r="3.5"/><circle cx="424.6" cy="1262.3" r="3.5"/><circle cx="375.3" cy="1217.9" r="3.5"/><circle cx="374.5" cy="1179.8" r="3.5"/><circle cx="374.2" cy="1256.8" r="3.5"/><circle cx="380.8" cy="1166.3" r="3.5"/><circle cx="413.2" cy="1162.0" r="3.5"/><circle cx="388.6" cy="1241.6" r="3.5"/><circle cx="411.5" cy="1197.7" r="3.5"/><circle cx="416.3" cy="1183.2" r="3.5"/><circle cx="413.3" cy="1212.3" r="3.5"/><circle cx="421.1" cy="1151.6" r="3.5"/><circle cx="413.9" cy="1165.6" r="3.5"/><circle cx="377.1" cy="1233.5" r="3.5"/><circle cx="413.8" cy="1233.4" r="3.5"/><circle cx="387.4" cy="1187.0" r="3.5"/><circle cx="422.6" cy="1226.2" r="3.5"/><circle cx="382.3" cy="1224.3" r="3.5"/><circle cx="419.2" cy="1210.0" r="3.5"/><circle cx="418.4" cy="1166.2" r="3.5"/><circle cx="382.3" cy="1139.8" r="3.5"/><circle cx="373.0" cy="1181.2" r="3.5"/><circle cx="413.0" cy="1211.5" r="3.5"/><circle cx="386.4" cy="1218.4" r="3.5"/><circle cx="403.0" cy="1203.9" r="3.5"/><circle cx="420.1" cy="1148.7" r="3.5"/><circle cx="371.8" cy="1229.3" r="3.5"/><circle cx="370.3" cy="1256.7" r="3.5"/><circle cx="421.2" cy="1178.4" r="3.5"/><circle cx="401.9" cy="1242.4" r="3.5"/><circle cx="373.3" cy="1216.5" r="3.5"/><circle cx="403.1" cy="1228.1" r="3.5"/><circle cx="379.1" cy="1232.3" r="3.5"/><circle cx="410.4" cy="1189.7" r="3.5"/><circle cx="414.3" cy="1144.3" r="3.5"/><circle cx="386.1" cy="1152.5" r="3.5"/><circle cx="424.4" cy="1194.2" r="3.5"/><circle cx="370.2" cy="1177.7" r="3.5"/><circle cx="374.6" cy="1205.0" r="3.5"/><circle cx="413.9" cy="1184.2" r="3.5"/><circle cx="381.9" cy="1232.4" r="3.5"/><circle cx="403.4" cy="1220.0" r="3.5"/><circle cx="392.6" cy="1232.8" r="3.5"/><circle cx="410.0" cy="1197.6" r="3.5"/><circle cx="416.6" cy="1148.8" r="3.5"/><circle cx="408.5" cy="1228.5" r="3.5"/><circle cx="370.0" cy="1156.2" r="3.5"/><circle cx="375.4" cy="1177.1" r="3.5"/><circle cx="384.0" cy="1245.4" r="3.5"/><circle cx="389.3" cy="1222.2" r="3.5"/><circle cx="373.8" cy="1213.7" r="3.5"/><circle cx="410.6" cy="1219.7" r="3.5"/><circle cx="417.9" cy="1139.4" r="3.5"/><circle cx="423.7" cy="1156.7" r="3.5"/><circle cx="401.3" cy="1212.1" r="3.5"/><circle cx="378.1" cy="1218.4" r="3.5"/><circle cx="401.4" cy="1264.5" r="3.5"/><circle cx="372.7" cy="1210.8" r="3.5"/><circle cx="377.0" cy="1183.7" r="3.5"/><circle cx="410.3" cy="1235.1" r="3.5"/><circle cx="386.6" cy="1141.9" r="3.5"/><circle cx="408.6" cy="1225.4" r="3.5"/><circle cx="417.0" cy="1234.1" r="3.5"/><circle cx="385.2" cy="1143.8" r="3.5"/><circle cx="376.4" cy="1172.0" r="3.5"/><circle cx="386.2" cy="1226.2" r="3.5"/><circle cx="380.4" cy="1250.7" r="3.5"/><circle cx="381.3" cy="1255.2" r="3.5"/><circle cx="412.7" cy="1227.1" r="3.5"/><circle cx="392.6" cy="1197.8" r="3.5"/><circle cx="402.2" cy="1215.1" r="3.5"/><circle cx="403.5" cy="1209.6" r="3.5"/><circle cx="424.0" cy="1255.9" r="3.5"/><circle cx="418.6" cy="1136.2" r="3.5"/><circle cx="400.6" cy="1208.2" r="3.5"/><circle cx="374.6" cy="1227.5" r="3.5"/><circle cx="374.2" cy="1203.5" r="3.5"/><circle cx="383.7" cy="1198.2" r="3.5"/><circle cx="392.3" cy="1265.3" r="3.5"/><circle cx="413.7" cy="1141.1" r="3.5"/><circle cx="417.3" cy="1143.8" r="3.5"/><circle cx="378.3" cy="1252.0" r="3.5"/><circle cx="408.4" cy="1212.6" r="3.5"/><circle cx="381.3" cy="1180.8" r="3.5"/><circle cx="400.9" cy="1210.1" r="3.5"/><circle cx="403.8" cy="1234.1" r="3.5"/><circle cx="415.4" cy="1203.9" r="3.5"/><circle cx="424.7" cy="1170.6" r="3.5"/><circle cx="374.8" cy="1215.4" r="3.5"/><circle cx="386.6" cy="1262.2" r="3.5"/><circle cx="421.9" cy="1193.5" r="3.5"/><circle cx="401.5" cy="1199.9" r="3.5"/><circle cx="415.5" cy="1180.2" r="3.5"/><circle cx="410.2" cy="1202.1" r="3.5"/><circle cx="373.8" cy="1242.3" r="3.5"/><circle cx="378.2" cy="1198.8" r="3.5"/><circle cx="404.2" cy="1158.1" r="3.5"/><circle cx="380.8" cy="1142.4" r="3.5"/><circle cx="386.7" cy="1206.0" r="3.5"/><circle cx="392.2" cy="1241.4" r="3.5"/><circle cx="406.0" cy="1182.0" r="3.5"/><circle cx="382.1" cy="1142.4" r="3.5"/><circle cx="411.6" cy="1145.5" r="3.5"/><circle cx="407.5" cy="1168.9" r="3.5"/><circle cx="419.0" cy="1256.5" r="3.5"/><circle cx="375.1" cy="1187.8" r="3.5"/><circle cx="415.7" cy="1242.8" r="3.5"/><circle cx="384.3" cy="1183.2" r="3.5"/><circle cx="405.5" cy="1155.2" r="3.5"/><circle cx="421.5" cy="1254.9" r="3.5"/><circle cx="374.9" cy="1174.8" r="3.5"/><circle cx="385.4" cy="1264.2" r="3.5"/><circle cx="391.4" cy="1166.9" r="3.5"/><circle cx="414.2" cy="1140.0" r="3.5"/><circle cx="416.4" cy="1254.5" r="3.5"/><circle cx="412.6" cy="1157.9" r="3.5"/><circle cx="382.4" cy="1139.2" r="3.5"/><circle cx="414.8" cy="1183.1" r="3.5"/><circle cx="371.4" cy="1143.8" r="3.5"/><circle cx="414.0" cy="1185.3" r="3.5"/><circle cx="403.9" cy="1171.8" r="3.5"/><circle cx="388.0" cy="1179.2" r="3.5"/><circle cx="375.3" cy="1230.0" r="3.5"/><circle cx="420.0" cy="1168.0" r="3.5"/><circle cx="381.9" cy="1257.3" r="3.5"/><circle cx="404.8" cy="1227.1" r="3.5"/><circle cx="392.0" cy="1263.6" r="3.5"/><circle cx="415.2" cy="1261.8" r="3.5"/><circle cx="379.6" cy="1195.4" r="3.5"/><circle cx="387.8" cy="1197.9" r="3.5"/><circle cx="384.3" cy="1245.3" r="3.5"/><circle cx="406.7" cy="1189.8" r="3.5"/><circle cx="375.0" cy="1187.0" r="3.5"/><circle cx="418.7" cy="1239.1" r="3.5"/><circle cx="423.3" cy="1162.1" r="3.5"/><circle cx="408.8" cy="1137.9" r="3.5"/><circle cx="402.8" cy="1231.0" r="3.5"/><circle cx="377.4" cy="1242.6" r="3.5"/><circle cx="420.5" cy="1215.4" r="3.5"/><circle cx="385.4" cy="1196.7" r="3.5"/><circle cx="372.0" cy="1258.7" r="3.5"/><circle cx="369.3" cy="1226.9" r="3.5"/><circle cx="411.3" cy="1216.3" r="3.5"/><circle cx="381.7" cy="1140.2" r="3.5"/><circle cx="370.9" cy="1181.8" r="3.5"/><circle cx="401.5" cy="1221.7" r="3.5"/><circle cx="374.0" cy="1255.4" r="3.5"/><circle cx="413.3" cy="1143.6" r="3.5"/><circle cx="412.7" cy="1253.7" r="3.5"/><circle cx="414.2" cy="1164.3" r="3.5"/><circle cx="391.2" cy="1243.4" r="3.5"/><circle cx="370.0" cy="1209.6" r="3.5"/><circle cx="402.6" cy="1259.2" r="3.5"/><circle cx="405.2" cy="1252.1" r="3.5"/><circle cx="409.9" cy="1188.5" r="3.5"/><circle cx="376.3" cy="1220.2" r="3.5"/><circle cx="420.8" cy="1217.4" r="3.5"/><circle cx="384.6" cy="1255.7" r="3.5"/><circle cx="404.6" cy="1144.9" r="3.5"/><circle cx="380.7" cy="1206.2" r="3.5"/><circle cx="380.8" cy="1256.5" r="3.5"/><circle cx="379.0" cy="1195.9" r="3.5"/><circle cx="400.8" cy="1225.2" r="3.5"/><circle cx="371.0" cy="1184.3" r="3.5"/><circle cx="391.5" cy="1236.9" r="3.5"/><circle cx="404.3" cy="1206.5" r="3.5"/><circle cx="416.2" cy="1242.4" r="3.5"/><circle cx="378.5" cy="1247.0" r="3.5"/><circle cx="376.3" cy="1234.5" r="3.5"/><circle cx="421.8" cy="1153.2" r="3.5"/><circle cx="378.6" cy="1238.0" r="3.5"/><circle cx="413.9" cy="1185.8" r="3.5"/><circle cx="391.2" cy="1235.3" r="3.5"/><circle cx="401.7" cy="1258.1" r="3.5"/><circle cx="403.3" cy="1152.1" r="3.5"/><circle cx="399.6" cy="1140.6" r="3.5"/><circle cx="385.7" cy="1215.9" r="3.5"/><circle cx="392.8" cy="1256.8" r="3.5"/><circle cx="387.6" cy="1207.5" r="3.5"/><circle cx="412.5" cy="1145.9" r="3.5"/><circle cx="374.9" cy="1161.8" r="3.5"/><circle cx="375.2" cy="1164.9" r="3.5"/><circle cx="383.0" cy="1220.1" r="3.5"/><circle cx="406.0" cy="1250.8" r="3.5"/><circle cx="415.1" cy="1201.1" r="3.5"/><circle cx="417.5" cy="1147.9" r="3.5"/><circle cx="423.4" cy="1169.7" r="3.5"/><circle cx="413.8" cy="1188.6" r="3.5"/><circle cx="407.3" cy="1196.4" r="3.5"/><circle cx="407.6" cy="1240.9" r="3.5"/><circle cx="399.5" cy="1173.1" r="3.5"/><circle cx="409.8" cy="1238.5" r="3.5"/><circle cx="378.2" cy="1139.6" r="3.5"/><circle cx="412.7" cy="1186.2" r="3.5"/><circle cx="422.2" cy="1200.0" r="3.5"/><circle cx="416.9" cy="1209.3" r="3.5"/><circle cx="401.3" cy="1161.3" r="3.5"/><circle cx="373.3" cy="1238.1" r="3.5"/><circle cx="381.4" cy="1146.0" r="3.5"/><circle cx="414.8" cy="1150.4" r="3.5"/><circle cx="401.8" cy="1149.9" r="3.5"/><circle cx="378.2" cy="1140.6" r="3.5"/><circle cx="385.8" cy="1168.1" r="3.5"/><circle cx="424.9" cy="1148.4" r="3.5"/><circle cx="418.8" cy="1253.4" r="3.5"/><circle cx="406.8" cy="1141.8" r="3.5"/><circle cx="386.9" cy="1252.5" r="3.5"/><circle cx="402.7" cy="1176.8" r="3.5"/><circle cx="408.9" cy="1199.1" r="3.5"/><circle cx="400.1" cy="1196.3" r="3.5"/><circle cx="418.7" cy="1152.6" r="3.5"/><circle cx="370.3" cy="1221.1" r="3.5"/><circle cx="377.6" cy="1257.6" r="3.5"/><circle cx="388.6" cy="1142.3" r="3.5"/><circle cx="414.2" cy="1206.0" r="3.5"/><circle cx="388.4" cy="1180.2" r="3.5"/><circle cx="401.9" cy="1189.7" r="3.5"/><circle cx="383.1" cy="1253.8" r="3.5"/><circle cx="391.4" cy="1222.4" r="3.5"/><circle cx="416.0" cy="1182.0" r="3.5"/><circle cx="378.2" cy="1146.6" r="3.5"/><circle cx="415.1" cy="1218.3" r="3.5"/><circle cx="424.4" cy="1186.1" r="3.5"/><circle cx="391.1" cy="1247.7" r="3.5"/><circle cx="376.2" cy="1193.0" r="3.5"/><circle cx="371.6" cy="1219.5" r="3.5"/><circle cx="380.5" cy="1249.2" r="3.5"/><circle cx="418.2" cy="1258.1" r="3.5"/><circle cx="402.8" cy="1250.3" r="3.5"/><circle cx="386.4" cy="1196.9" r="3.5"/><circle cx="416.5" cy="1207.3" r="3.5"/><circle cx="384.7" cy="1145.6" r="3.5"/><circle cx="409.1" cy="1238.4" r="3.5"/><circle cx="383.0" cy="1238.1" r="3.5"/><circle cx="373.4" cy="1157.3" r="3.5"/><circle cx="406.1" cy="1204.5" r="3.5"/><circle cx="401.7" cy="1212.6" r="3.5"/><circle cx="386.1" cy="1206.8" r="3.5"/><circle cx="379.2" cy="1221.8" r="3.5"/><circle cx="386.8" cy="1260.3" r="3.5"/><circle cx="417.4" cy="1242.1" r="3.5"/><circle cx="388.6" cy="1150.7" r="3.5"/><circle cx="421.2" cy="1225.0" r="3.5"/><circle cx="399.9" cy="1157.6" r="3.5"/><circle cx="382.8" cy="1262.0" r="3.5"/><circle cx="390.1" cy="1264.7" r="3.5"/><circle cx="385.5" cy="1152.5" r="3.5"/><circle cx="402.4" cy="1242.9" r="3.5"/><circle cx="387.2" cy="1208.6" r="3.5"/><circle cx="418.7" cy="1136.9" r="3.5"/><circle cx="424.7" cy="1219.6" r="3.5"/><circle cx="425.5" cy="1202.6" r="3.5"/><circle cx="369.2" cy="1159.8" r="3.5"/><circle cx="388.2" cy="1186.3" r="3.5"/><circle cx="418.8" cy="1141.5" r="3.5"/><circle cx="370.4" cy="1179.9" r="3.5"/><circle cx="413.5" cy="1227.0" r="3.5"/><circle cx="423.4" cy="1202.3" r="3.5"/><circle cx="372.4" cy="1157.5" r="3.5"/><circle cx="385.4" cy="1242.8" r="3.5"/><circle cx="393.2" cy="1259.4" r="3.5"/><circle cx="412.0" cy="1140.2" r="3.5"/><circle cx="374.4" cy="1257.5" r="3.5"/><circle cx="382.8" cy="1227.5" r="3.5"/><circle cx="384.0" cy="1190.7" r="3.5"/><circle cx="410.1" cy="1193.5" r="3.5"/><circle cx="374.9" cy="1137.3" r="3.5"/><circle cx="413.7" cy="1255.2" r="3.5"/><circle cx="422.5" cy="1243.1" r="3.5"/><circle cx="424.5" cy="1248.7" r="3.5"/><circle cx="418.3" cy="1219.5" r="3.5"/><circle cx="385.6" cy="1192.2" r="3.5"/><circle cx="424.1" cy="1160.0" r="3.5"/><circle cx="417.9" cy="1256.7" r="3.5"/><circle cx="371.4" cy="1237.4" r="3.5"/><circle cx="408.1" cy="1164.5" r="3.5"/><circle cx="401.9" cy="1208.8" r="3.5"/><circle cx="411.5" cy="1172.0" r="3.5"/><circle cx="422.5" cy="1142.2" r="3.5"/><circle cx="386.1" cy="1240.4" r="3.5"/><circle cx="425.3" cy="1201.0" r="3.5"/><circle cx="424.9" cy="1147.7" r="3.5"/><circle cx="401.8" cy="1170.6" r="3.5"/><circle cx="390.7" cy="1212.8" r="3.5"/><circle cx="387.3" cy="1148.9" r="3.5"/><circle cx="408.3" cy="1254.9" r="3.5"/><circle cx="410.7" cy="1142.8" r="3.5"/><circle cx="376.4" cy="1245.1" r="3.5"/><circle cx="380.9" cy="1186.3" r="3.5"/><circle cx="400.9" cy="1212.4" r="3.5"/><circle cx="407.7" cy="1235.6" r="3.5"/><circle cx="386.0" cy="1222.6" r="3.5"/><circle cx="379.7" cy="1167.3" r="3.5"/><circle cx="375.4" cy="1173.1" r="3.5"/><circle cx="402.1" cy="1219.6" r="3.5"/><circle cx="415.4" cy="1224.4" r="3.5"/><circle cx="380.1" cy="1205.5" r="3.5"/><circle cx="388.2" cy="1153.6" r="3.5"/><circle cx="419.6" cy="1184.7" r="3.5"/><circle cx="421.6" cy="1189.2" r="3.5"/><circle cx="369.5" cy="1230.8" r="3.5"/><circle cx="415.9" cy="1143.6" r="3.5"/><circle cx="385.2" cy="1221.2" r="3.5"/><circle cx="416.6" cy="1235.6" r="3.5"/><circle cx="399.5" cy="1184.0" r="3.5"/><circle cx="384.2" cy="1238.9" r="3.5"/><circle cx="373.7" cy="1147.3" r="3.5"/><circle cx="373.7" cy="1241.8" r="3.5"/><circle cx="415.1" cy="1227.6" r="3.5"/><circle cx="384.4" cy="1180.7" r="3.5"/><circle cx="386.4" cy="1138.1" r="3.5"/><circle cx="417.6" cy="1136.2" r="3.5"/><circle cx="409.6" cy="1202.9" r="3.5"/><circle cx="387.7" cy="1229.9" r="3.5"/><circle cx="416.9" cy="1137.5" r="3.5"/><circle cx="380.8" cy="1169.6" r="3.5"/><circle cx="400.3" cy="1263.2" r="3.5"/><circle cx="384.8" cy="1250.6" r="3.5"/><circle cx="423.3" cy="1142.6" r="3.5"/><circle cx="371.8" cy="1247.8" r="3.5"/><circle cx="377.4" cy="1263.5" r="3.5"/><circle cx="421.5" cy="1140.8" r="3.5"/><circle cx="423.9" cy="1224.4" r="3.5"/><circle cx="419.4" cy="1149.1" r="3.5"/><circle cx="410.5" cy="1163.7" r="3.5"/><circle cx="414.4" cy="1191.4" r="3.5"/><circle cx="372.0" cy="1262.2" r="3.5"/><circle cx="370.4" cy="1173.8" r="3.5"/><circle cx="376.1" cy="1167.7" r="3.5"/><circle cx="370.4" cy="1153.0" r="3.5"/><circle cx="399.8" cy="1209.6" r="3.5"/><circle cx="387.9" cy="1224.1" r="3.5"/><circle cx="416.4" cy="1180.4" r="3.5"/><circle cx="386.2" cy="1147.8" r="3.5"/><circle cx="418.7" cy="1213.6" r="3.5"/><circle cx="413.3" cy="1137.3" r="3.5"/><circle cx="413.0" cy="1169.8" r="3.5"/><circle cx="421.2" cy="1177.6" r="3.5"/><circle cx="376.0" cy="1245.2" r="3.5"/><circle cx="372.5" cy="1160.0" r="3.5"/><circle cx="371.1" cy="1184.9" r="3.5"/><circle cx="424.1" cy="1237.6" r="3.5"/><circle cx="413.8" cy="1249.9" r="3.5"/><circle cx="383.2" cy="1147.1" r="3.5"/><circle cx="407.8" cy="1235.3" r="3.5"/><circle cx="371.6" cy="1147.6" r="3.5"/><circle cx="424.3" cy="1263.0" r="3.5"/><circle cx="410.3" cy="1223.9" r="3.5"/><circle cx="412.3" cy="1257.1" r="3.5"/><circle cx="421.9" cy="1215.5" r="3.5"/><circle cx="408.8" cy="1234.5" r="3.5"/><circle cx="401.3" cy="1166.4" r="3.5"/><circle cx="382.0" cy="1204.7" r="3.5"/><circle cx="410.0" cy="1193.7" r="3.5"/><circle cx="417.2" cy="1198.3" r="3.5"/><circle cx="386.6" cy="1240.5" r="3.5"/><circle cx="371.8" cy="1142.5" r="3.5"/><circle cx="409.1" cy="1140.7" r="3.5"/><circle cx="424.3" cy="1169.1" r="3.5"/><circle cx="417.3" cy="1200.6" r="3.5"/><circle cx="379.4" cy="1184.0" r="3.5"/><circle cx="419.7" cy="1210.1" r="3.5"/><circle cx="387.0" cy="1238.8" r="3.5"/><circle cx="382.3" cy="1141.1" r="3.5"/><circle cx="421.9" cy="1140.7" r="3.5"/><circle cx="384.2" cy="1200.4" r="3.5"/><circle cx="382.2" cy="1254.7" r="3.5"/><circle cx="413.4" cy="1203.5" r="3.5"/><circle cx="376.7" cy="1244.0" r="3.5"/><circle cx="381.2" cy="1198.8" r="3.5"/><circle cx="414.9" cy="1212.5" r="3.5"/><circle cx="387.1" cy="1259.2" r="3.5"/><circle cx="374.7" cy="1190.1" r="3.5"/><circle cx="415.6" cy="1140.7" r="3.5"/><circle cx="375.4" cy="1199.8" r="3.5"/><circle cx="379.0" cy="1240.0" r="3.5"/><circle cx="413.7" cy="1231.2" r="3.5"/><circle cx="381.9" cy="1139.7" r="3.5"/><circle cx="416.4" cy="1223.7" r="3.5"/><circle cx="411.0" cy="1189.1" r="3.5"/><circle cx="413.9" cy="1217.6" r="3.5"/><circle cx="405.4" cy="1230.7" r="3.5"/><circle cx="423.2" cy="1255.8" r="3.5"/><circle cx="415.4" cy="1154.9" r="3.5"/><circle cx="425.1" cy="1157.7" r="3.5"/><circle cx="414.9" cy="1162.0" r="3.5"/><circle cx="421.2" cy="1211.5" r="3.5"/><circle cx="417.1" cy="1242.4" r="3.5"/><circle cx="410.5" cy="1218.9" r="3.5"/><circle cx="415.9" cy="1175.8" r="3.5"/><circle cx="412.0" cy="1146.4" r="3.5"/><circle cx="416.9" cy="1215.4" r="3.5"/><circle cx="406.8" cy="1253.2" r="3.5"/><circle cx="386.0" cy="1181.7" r="3.5"/><circle cx="379.4" cy="1232.9" r="3.5"/><circle cx="416.3" cy="1153.8" r="3.5"/><circle cx="382.8" cy="1167.0" r="3.5"/><circle cx="374.9" cy="1181.2" r="3.5"/><circle cx="401.2" cy="1146.4" r="3.5"/><circle cx="378.4" cy="1220.7" r="3.5"/><circle cx="412.8" cy="1196.1" r="3.5"/><circle cx="418.3" cy="1185.7" r="3.5"/><circle cx="411.7" cy="1174.2" r="3.5"/><circle cx="369.8" cy="1177.4" r="3.5"/><circle cx="381.8" cy="1228.1" r="3.5"/><circle cx="387.1" cy="1139.9" r="3.5"/><circle cx="384.9" cy="1183.5" r="3.5"/><circle cx="411.0" cy="1248.5" r="3.5"/><circle cx="370.4" cy="1190.7" r="3.5"/><circle cx="401.2" cy="1251.8" r="3.5"/><circle cx="370.0" cy="1196.8" r="3.5"/><circle cx="400.2" cy="1208.7" r="3.5"/><circle cx="409.1" cy="1235.0" r="3.5"/><circle cx="384.4" cy="1260.5" r="3.5"/><circle cx="385.8" cy="1197.3" r="3.5"/><circle cx="418.8" cy="1190.9" r="3.5"/><circle cx="370.2" cy="1206.9" r="3.5"/><circle cx="383.1" cy="1250.3" r="3.5"/><circle cx="372.2" cy="1212.1" r="3.5"/><circle cx="415.4" cy="1226.4" r="3.5"/><circle cx="390.0" cy="1248.6" r="3.5"/><circle cx="421.8" cy="1195.3" r="3.5"/><circle cx="382.0" cy="1144.0" r="3.5"/><circle cx="370.2" cy="1179.3" r="3.5"/><circle cx="401.2" cy="1201.5" r="3.5"/><circle cx="421.3" cy="1215.2" r="3.5"/><circle cx="419.3" cy="1201.4" r="3.5"/><circle cx="412.9" cy="1212.0" r="3.5"/><circle cx="421.5" cy="1250.9" r="3.5"/><circle cx="374.3" cy="1150.1" r="3.5"/><circle cx="385.9" cy="1260.5" r="3.5"/><circle cx="379.8" cy="1200.1" r="3.5"/><circle cx="416.6" cy="1209.4" r="3.5"/><circle cx="387.4" cy="1229.6" r="3.5"/><circle cx="380.9" cy="1223.3" r="3.5"/><circle cx="406.3" cy="1166.6" r="3.5"/><circle cx="399.6" cy="1227.3" r="3.5"/><circle cx="378.7" cy="1183.4" r="3.5"/><circle cx="369.1" cy="1189.6" r="3.5"/><circle cx="390.6" cy="1225.1" r="3.5"/><circle cx="418.8" cy="1234.4" r="3.5"/><circle cx="403.7" cy="1219.7" r="3.5"/><circle cx="413.4" cy="1235.9" r="3.5"/><circle cx="371.2" cy="1163.3" r="3.5"/><circle cx="414.5" cy="1183.8" r="3.5"/><circle cx="424.1" cy="1238.1" r="3.5"/><circle cx="385.7" cy="1263.6" r="3.5"/><circle cx="416.4" cy="1232.5" r="3.5"/><circle cx="422.4" cy="1248.1" r="3.5"/><circle cx="378.6" cy="1257.0" r="3.5"/><circle cx="412.7" cy="1151.5" r="3.5"/><circle cx="423.3" cy="1212.9" r="3.5"/><circle cx="411.6" cy="1188.2" r="3.5"/><circle cx="412.7" cy="1151.2" r="3.5"/><circle cx="369.4" cy="1226.5" r="3.5"/><circle cx="380.5" cy="1182.8" r="3.5"/><circle cx="406.9" cy="1210.2" r="3.5"/><circle cx="373.0" cy="1148.5" r="3.5"/><circle cx="413.7" cy="1231.9" r="3.5"/><circle cx="370.3" cy="1195.0" r="3.5"/><circle cx="409.0" cy="1192.7" r="3.5"/><circle cx="382.4" cy="1206.3" r="3.5"/><circle cx="384.3" cy="1231.4" r="3.5"/><circle cx="401.9" cy="1262.0" r="3.5"/><circle cx="386.6" cy="1148.4" r="3.5"/><circle cx="375.6" cy="1194.4" r="3.5"/><circle cx="400.6" cy="1226.2" r="3.5"/><circle cx="417.4" cy="1258.2" r="3.5"/><circle cx="408.9" cy="1231.4" r="3.5"/><circle cx="380.1" cy="1199.8" r="3.5"/><circle cx="406.2" cy="1181.6" r="3.5"/><circle cx="422.3" cy="1191.8" r="3.5"/><circle cx="423.6" cy="1203.4" r="3.5"/><circle cx="369.6" cy="1212.7" r="3.5"/><circle cx="419.8" cy="1190.5" r="3.5"/><circle cx="416.6" cy="1187.3" r="3.5"/><circle cx="393.0" cy="1231.6" r="3.5"/><circle cx="418.7" cy="1172.3" r="3.5"/><circle cx="402.3" cy="1139.8" r="3.5"/><circle cx="402.3" cy="1223.9" r="3.5"/><circle cx="403.3" cy="1151.9" r="3.5"/><circle cx="416.5" cy="1238.4" r="3.5"/><circle cx="404.4" cy="1261.6" r="3.5"/><circle cx="399.8" cy="1154.5" r="3.5"/><circle cx="371.1" cy="1214.3" r="3.5"/><circle cx="399.5" cy="1150.7" r="3.5"/><circle cx="377.4" cy="1144.2" r="3.5"/><circle cx="402.5" cy="1166.7" r="3.5"/><circle cx="402.7" cy="1233.7" r="3.5"/><circle cx="410.1" cy="1216.8" r="3.5"/><circle cx="408.6" cy="1245.8" r="3.5"/><circle cx="373.0" cy="1163.3" r="3.5"/><circle cx="379.9" cy="1158.7" r="3.5"/><circle cx="371.0" cy="1207.9" r="3.5"/><circle cx="401.0" cy="1221.3" r="3.5"/><circle cx="417.3" cy="1142.5" r="3.5"/><circle cx="411.7" cy="1248.6" r="3.5"/><circle cx="389.5" cy="1204.3" r="3.5"/><circle cx="418.8" cy="1187.4" r="3.5"/><circle cx="407.4" cy="1213.6" r="3.5"/><circle cx="374.1" cy="1180.8" r="3.5"/><circle cx="391.2" cy="1227.8" r="3.5"/><circle cx="392.8" cy="1260.5" r="3.5"/><circle cx="371.7" cy="1210.6" r="3.5"/><circle cx="401.9" cy="1260.0" r="3.5"/><circle cx="387.2" cy="1158.1" r="3.5"/><circle cx="425.4" cy="1177.7" r="3.5"/><circle cx="408.4" cy="1232.8" r="3.5"/><circle cx="383.2" cy="1198.8" r="3.5"/><circle cx="382.9" cy="1147.3" r="3.5"/><circle cx="373.4" cy="1148.0" r="3.5"/><circle cx="375.7" cy="1196.4" r="3.5"/><circle cx="368.9" cy="1181.0" r="3.5"/><circle cx="418.3" cy="1253.6" r="3.5"/><circle cx="375.0" cy="1173.7" r="3.5"/><circle cx="422.1" cy="1259.8" r="3.5"/><circle cx="417.6" cy="1212.7" r="3.5"/><circle cx="412.1" cy="1200.6" r="3.5"/><circle cx="419.1" cy="1249.9" r="3.5"/><circle cx="372.9" cy="1244.2" r="3.5"/><circle cx="408.6" cy="1263.8" r="3.5"/><circle cx="414.4" cy="1218.5" r="3.5"/><circle cx="383.0" cy="1228.3" r="3.5"/><circle cx="418.2" cy="1150.4" r="3.5"/><circle cx="423.3" cy="1175.5" r="3.5"/><circle cx="372.7" cy="1244.7" r="3.5"/><circle cx="410.0" cy="1262.9" r="3.5"/><circle cx="405.3" cy="1146.7" r="3.5"/><circle cx="379.8" cy="1257.2" r="3.5"/><circle cx="401.1" cy="1205.1" r="3.5"/><circle cx="407.0" cy="1219.0" r="3.5"/><circle cx="370.3" cy="1241.1" r="3.5"/><circle cx="385.2" cy="1153.1" r="3.5"/><circle cx="423.2" cy="1217.9" r="3.5"/><circle cx="417.2" cy="1142.3" r="3.5"/><circle cx="403.8" cy="1250.4" r="3.5"/><circle cx="404.2" cy="1232.5" r="3.5"/><circle cx="419.6" cy="1225.5" r="3.5"/><circle cx="388.1" cy="1144.5" r="3.5"/><circle cx="388.2" cy="1217.2" r="3.5"/><circle cx="380.1" cy="1168.2" r="3.5"/><circle cx="386.1" cy="1248.3" r="3.5"/><circle cx="418.7" cy="1205.7" r="3.5"/><circle cx="406.1" cy="1209.9" r="3.5"/><circle cx="419.6" cy="1241.1" r="3.5"/><circle cx="418.3" cy="1171.8" r="3.5"/><circle cx="418.8" cy="1222.5" r="3.5"/><circle cx="423.4" cy="1161.9" r="3.5"/><circle cx="411.0" cy="1204.8" r="3.5"/><circle cx="380.6" cy="1142.5" r="3.5"/><circle cx="421.5" cy="1193.0" r="3.5"/><circle cx="376.0" cy="1155.9" r="3.5"/><circle cx="390.4" cy="1197.5" r="3.5"/><circle cx="414.4" cy="1137.6" r="3.5"/><circle cx="385.2" cy="1254.8" r="3.5"/><circle cx="384.3" cy="1254.3" r="3.5"/><circle cx="390.0" cy="1212.1" r="3.5"/><circle cx="405.5" cy="1142.4" r="3.5"/><circle cx="381.4" cy="1207.4" r="3.5"/><circle cx="423.8" cy="1242.6" r="3.5"/><circle cx="420.7" cy="1184.2" r="3.5"/><circle cx="417.5" cy="1196.0" r="3.5"/><circle cx="382.2" cy="1218.0" r="3.5"/><circle cx="400.5" cy="1159.8" r="3.5"/><circle cx="380.6" cy="1158.6" r="3.5"/><circle cx="387.6" cy="1242.6" r="3.5"/><circle cx="422.5" cy="1185.9" r="3.5"/><circle cx="386.0" cy="1248.9" r="3.5"/><circle cx="408.8" cy="1246.1" r="3.5"/><circle cx="404.2" cy="1203.5" r="3.5"/><circle cx="381.4" cy="1200.7" r="3.5"/><circle cx="407.4" cy="1145.4" r="3.5"/><circle cx="412.5" cy="1183.6" r="3.5"/><circle cx="422.7" cy="1183.2" r="3.5"/><circle cx="420.6" cy="1139.1" r="3.5"/><circle cx="404.5" cy="1177.2" r="3.5"/><circle cx="410.8" cy="1239.9" r="3.5"/><circle cx="403.0" cy="1262.8" r="3.5"/><circle cx="404.4" cy="1230.3" r="3.5"/><circle cx="373.9" cy="1158.6" r="3.5"/><circle cx="417.3" cy="1216.2" r="3.5"/><circle cx="376.9" cy="1172.7" r="3.5"/><circle cx="374.2" cy="1244.0" r="3.5"/><circle cx="390.5" cy="1245.7" r="3.5"/><circle cx="384.4" cy="1190.2" r="3.5"/><circle cx="381.0" cy="1138.9" r="3.5"/><circle cx="390.6" cy="1261.3" r="3.5"/><circle cx="407.1" cy="1169.7" r="3.5"/><circle cx="379.9" cy="1224.8" r="3.5"/><circle cx="404.1" cy="1229.3" r="3.5"/><circle cx="372.3" cy="1252.8" r="3.5"/><circle cx="384.5" cy="1196.1" r="3.5"/><circle cx="372.9" cy="1183.8" r="3.5"/><circle cx="414.5" cy="1264.9" r="3.5"/><circle cx="413.7" cy="1241.1" r="3.5"/><circle cx="400.2" cy="1248.6" r="3.5"/><circle cx="416.1" cy="1177.3" r="3.5"/><circle cx="373.0" cy="1262.5" r="3.5"/><circle cx="370.6" cy="1156.0" r="3.5"/><circle cx="371.6" cy="1160.3" r="3.5"/><circle cx="388.1" cy="1263.7" r="3.5"/><circle cx="392.1" cy="1238.3" r="3.5"/><circle cx="376.6" cy="1140.6" r="3.5"/><circle cx="414.1" cy="1220.0" r="3.5"/><circle cx="414.1" cy="1201.3" r="3.5"/><circle cx="373.7" cy="1207.2" r="3.5"/><circle cx="369.1" cy="1184.2" r="3.5"/><circle cx="403.7" cy="1205.4" r="3.5"/><circle cx="431.7" cy="1219.0" r="3.5"/><circle cx="451.2" cy="1136.6" r="3.5"/><circle cx="344.8" cy="1172.5" r="3.5"/><circle cx="350.5" cy="1154.2" r="3.5"/><circle cx="367.9" cy="1180.9" r="3.5"/><circle cx="440.5" cy="1241.9" r="3.5"/><circle cx="364.3" cy="1154.8" r="3.5"/><circle cx="363.4" cy="1211.2" r="3.5"/><circle cx="427.9" cy="1202.2" r="3.5"/><circle cx="359.1" cy="1243.0" r="3.5"/><circle cx="438.5" cy="1242.7" r="3.5"/><circle cx="450.0" cy="1140.9" r="3.5"/><circle cx="430.7" cy="1254.1" r="3.5"/><circle cx="353.8" cy="1229.4" r="3.5"/><circle cx="363.1" cy="1180.6" r="3.5"/><circle cx="453.6" cy="1137.1" r="3.5"/><circle cx="443.7" cy="1233.7" r="3.5"/><circle cx="358.1" cy="1199.7" r="3.5"/><circle cx="355.6" cy="1262.3" r="3.5"/><circle cx="363.2" cy="1251.1" r="3.5"/><circle cx="355.1" cy="1140.3" r="3.5"/><circle cx="354.2" cy="1196.6" r="3.5"/><circle cx="363.8" cy="1256.4" r="3.5"/><circle cx="359.3" cy="1136.5" r="3.5"/><circle cx="365.9" cy="1222.9" r="3.5"/><circle cx="434.0" cy="1224.6" r="3.5"/><circle cx="352.2" cy="1235.8" r="3.5"/><circle cx="349.5" cy="1226.9" r="3.5"/><circle cx="427.5" cy="1140.1" r="3.5"/><circle cx="425.9" cy="1157.4" r="3.5"/><circle cx="437.2" cy="1228.3" r="3.5"/><circle cx="429.8" cy="1242.7" r="3.5"/><circle cx="450.3" cy="1242.2" r="3.5"/><circle cx="368.5" cy="1174.0" r="3.5"/><circle cx="450.2" cy="1237.8" r="3.5"/><circle cx="440.7" cy="1250.6" r="3.5"/><circle cx="431.3" cy="1261.7" r="3.5"/><circle cx="440.1" cy="1217.1" r="3.5"/><circle cx="351.3" cy="1184.5" r="3.5"/><circle cx="443.8" cy="1246.2" r="3.5"/><circle cx="459.7" cy="1181.6" r="3.5"/><circle cx="437.6" cy="1158.2" r="3.5"/><circle cx="426.5" cy="1263.9" r="3.5"/><circle cx="447.6" cy="1259.9" r="3.5"/><circle cx="368.6" cy="1207.9" r="3.5"/><circle cx="362.7" cy="1244.6" r="3.5"/><circle cx="452.5" cy="1230.7" r="3.5"/><circle cx="343.9" cy="1138.9" r="3.5"/><circle cx="359.6" cy="1244.3" r="3.5"/><circle cx="430.5" cy="1224.7" r="3.5"/><circle cx="448.1" cy="1161.7" r="3.5"/><circle cx="354.3" cy="1255.7" r="3.5"/><circle cx="345.4" cy="1141.5" r="3.5"/><circle cx="429.3" cy="1167.5" r="3.5"/><circle cx="354.8" cy="1239.0" r="3.5"/><circle cx="429.2" cy="1219.2" r="3.5"/><circle cx="357.0" cy="1182.9" r="3.5"/><circle cx="430.6" cy="1189.2" r="3.5"/><circle cx="364.2" cy="1164.2" r="3.5"/><circle cx="342.8" cy="1175.4" r="3.5"/><circle cx="344.7" cy="1150.6" r="3.5"/><circle cx="441.2" cy="1181.6" r="3.5"/><circle cx="431.9" cy="1217.9" r="3.5"/><circle cx="355.9" cy="1147.4" r="3.5"/><circle cx="431.1" cy="1157.4" r="3.5"/><circle cx="437.9" cy="1180.3" r="3.5"/><circle cx="448.3" cy="1193.3" r="3.5"/><circle cx="365.4" cy="1215.0" r="3.5"/><circle cx="345.8" cy="1184.5" r="3.5"/><circle cx="428.3" cy="1259.8" r="3.5"/><circle cx="437.7" cy="1153.1" r="3.5"/><circle cx="365.7" cy="1252.7" r="3.5"/><circle cx="426.1" cy="1138.9" r="3.5"/><circle cx="434.2" cy="1264.4" r="3.5"/><circle cx="452.5" cy="1194.0" r="3.5"/><circle cx="435.4" cy="1248.1" r="3.5"/><circle cx="363.6" cy="1204.7" r="3.5"/><circle cx="358.4" cy="1241.4" r="3.5"/><circle cx="367.1" cy="1232.1" r="3.5"/><circle cx="434.4" cy="1256.5" r="3.5"/><circle cx="342.7" cy="1207.0" r="3.5"/><circle cx="426.1" cy="1263.9" r="3.5"/><circle cx="359.5" cy="1228.2" r="3.5"/><circle cx="449.7" cy="1174.4" r="3.5"/><circle cx="364.7" cy="1256.9" r="3.5"/><circle cx="366.7" cy="1203.2" r="3.5"/><circle cx="368.1" cy="1248.9" r="3.5"/><circle cx="444.8" cy="1181.8" r="3.5"/><circle cx="436.9" cy="1239.9" r="3.5"/><circle cx="431.4" cy="1228.9" r="3.5"/><circle cx="364.2" cy="1225.9" r="3.5"/><circle cx="343.4" cy="1146.2" r="3.5"/><circle cx="360.5" cy="1202.1" r="3.5"/><circle cx="355.9" cy="1199.6" r="3.5"/><circle cx="367.4" cy="1262.3" r="3.5"/><circle cx="453.8" cy="1203.6" r="3.5"/><circle cx="441.3" cy="1152.6" r="3.5"/><circle cx="427.9" cy="1227.4" r="3.5"/><circle cx="349.1" cy="1216.4" r="3.5"/><circle cx="430.9" cy="1169.1" r="3.5"/><circle cx="445.0" cy="1157.3" r="3.5"/><circle cx="438.5" cy="1208.1" r="3.5"/><circle cx="438.6" cy="1143.1" r="3.5"/><circle cx="343.6" cy="1195.8" r="3.5"/><circle cx="357.7" cy="1155.0" r="3.5"/><circle cx="443.1" cy="1224.5" r="3.5"/><circle cx="447.4" cy="1185.2" r="3.5"/><circle cx="357.6" cy="1264.7" r="3.5"/><circle cx="432.2" cy="1171.1" r="3.5"/><circle cx="449.2" cy="1145.7" r="3.5"/><circle cx="363.8" cy="1159.3" r="3.5"/><circle cx="448.3" cy="1237.4" r="3.5"/><circle cx="448.8" cy="1220.2" r="3.5"/><circle cx="350.9" cy="1259.8" r="3.5"/><circle cx="452.4" cy="1200.8" r="3.5"/><circle cx="348.9" cy="1226.2" r="3.5"/><circle cx="346.0" cy="1145.0" r="3.5"/><circle cx="437.8" cy="1264.0" r="3.5"/><circle cx="438.5" cy="1139.0" r="3.5"/><circle cx="446.8" cy="1242.3" r="3.5"/><circle cx="431.3" cy="1196.4" r="3.5"/><circle cx="363.7" cy="1246.5" r="3.5"/><circle cx="432.6" cy="1204.5" r="3.5"/><circle cx="449.8" cy="1236.0" r="3.5"/><circle cx="360.8" cy="1235.0" r="3.5"/><circle cx="359.6" cy="1257.6" r="3.5"/><circle cx="351.5" cy="1233.7" r="3.5"/><circle cx="445.0" cy="1203.2" r="3.5"/><circle cx="461.4" cy="1169.5" r="3.5"/><circle cx="425.9" cy="1251.0" r="3.5"/><circle cx="367.0" cy="1250.1" r="3.5"/><circle cx="352.9" cy="1245.8" r="3.5"/><circle cx="444.7" cy="1163.8" r="3.5"/><circle cx="427.5" cy="1168.8" r="3.5"/><circle cx="357.6" cy="1206.0" r="3.5"/><circle cx="358.5" cy="1139.0" r="3.5"/><circle cx="434.2" cy="1190.2" r="3.5"/><circle cx="345.5" cy="1214.4" r="3.5"/><circle cx="437.0" cy="1259.1" r="3.5"/><circle cx="346.6" cy="1147.0" r="3.5"/><circle cx="358.2" cy="1262.5" r="3.5"/><circle cx="453.3" cy="1222.9" r="3.5"/><circle cx="442.7" cy="1193.0" r="3.5"/><circle cx="434.3" cy="1232.9" r="3.5"/><circle cx="362.5" cy="1262.4" r="3.5"/><circle cx="367.8" cy="1238.8" r="3.5"/><circle cx="435.4" cy="1143.8" r="3.5"/><circle cx="436.7" cy="1194.6" r="3.5"/><circle cx="337.6" cy="1160.8" r="3.5"/><circle cx="430.2" cy="1166.4" r="3.5"/><circle cx="454.1" cy="1174.4" r="3.5"/><circle cx="368.8" cy="1259.8" r="3.5"/><circle cx="448.5" cy="1179.5" r="3.5"/><circle cx="450.2" cy="1179.6" r="3.5"/><circle cx="429.4" cy="1194.8" r="3.5"/><circle cx="427.0" cy="1204.6" r="3.5"/><circle cx="427.6" cy="1192.8" r="3.5"/><circle cx="457.8" cy="1170.5" r="3.5"/><circle cx="448.7" cy="1140.5" r="3.5"/><circle cx="353.7" cy="1204.1" r="3.5"/><circle cx="439.8" cy="1221.8" r="3.5"/><circle cx="446.1" cy="1209.2" r="3.5"/><circle cx="451.9" cy="1157.3" r="3.5"/><circle cx="366.9" cy="1233.9" r="3.5"/><circle cx="426.8" cy="1254.6" r="3.5"/><circle cx="437.8" cy="1204.3" r="3.5"/><circle cx="353.4" cy="1152.5" r="3.5"/><circle cx="356.8" cy="1231.2" r="3.5"/><circle cx="364.1" cy="1249.5" r="3.5"/><circle cx="431.9" cy="1171.3" r="3.5"/><circle cx="439.7" cy="1234.4" r="3.5"/><circle cx="449.2" cy="1162.5" r="3.5"/><circle cx="448.8" cy="1233.5" r="3.5"/><circle cx="438.5" cy="1265.1" r="3.5"/><circle cx="363.3" cy="1235.5" r="3.5"/><circle cx="366.9" cy="1165.3" r="3.5"/><circle cx="364.0" cy="1150.5" r="3.5"/><circle cx="350.9" cy="1175.0" r="3.5"/><circle cx="343.7" cy="1208.0" r="3.5"/><circle cx="340.7" cy="1175.8" r="3.5"/><circle cx="451.5" cy="1182.1" r="3.5"/><circle cx="366.1" cy="1243.5" r="3.5"/><circle cx="445.9" cy="1160.6" r="3.5"/><circle cx="442.3" cy="1179.4" r="3.5"/><circle cx="342.9" cy="1208.5" r="3.5"/><circle cx="352.5" cy="1249.7" r="3.5"/><circle cx="360.4" cy="1262.0" r="3.5"/><circle cx="368.5" cy="1234.9" r="3.5"/><circle cx="361.3" cy="1179.0" r="3.5"/><circle cx="429.6" cy="1252.3" r="3.5"/><circle cx="353.9" cy="1193.8" r="3.5"/><circle cx="429.9" cy="1221.2" r="3.5"/><circle cx="426.7" cy="1227.2" r="3.5"/><circle cx="362.2" cy="1202.0" r="3.5"/><circle cx="368.5" cy="1243.8" r="3.5"/><circle cx="363.2" cy="1264.3" r="3.5"/><circle cx="435.3" cy="1232.1" r="3.5"/><circle cx="448.7" cy="1186.7" r="3.5"/><circle cx="452.6" cy="1145.0" r="3.5"/><circle cx="345.4" cy="1193.5" r="3.5"/><circle cx="348.8" cy="1197.1" r="3.5"/><circle cx="437.2" cy="1200.7" r="3.5"/><circle cx="454.3" cy="1204.6" r="3.5"/><circle cx="356.1" cy="1165.9" r="3.5"/><circle cx="440.6" cy="1170.3" r="3.5"/><circle cx="443.8" cy="1174.6" r="3.5"/><circle cx="364.4" cy="1237.8" r="3.5"/><circle cx="362.2" cy="1138.2" r="3.5"/><circle cx="441.7" cy="1239.2" r="3.5"/><circle cx="353.9" cy="1225.6" r="3.5"/><circle cx="450.8" cy="1168.9" r="3.5"/><circle cx="346.0" cy="1188.1" r="3.5"/><circle cx="357.1" cy="1152.8" r="3.5"/><circle cx="459.0" cy="1138.3" r="3.5"/><circle cx="338.9" cy="1156.5" r="3.5"/><circle cx="337.8" cy="1159.1" r="3.5"/><circle cx="459.6" cy="1160.3" r="3.5"/><circle cx="354.0" cy="1253.5" r="3.5"/><circle cx="353.1" cy="1243.1" r="3.5"/><circle cx="356.3" cy="1158.1" r="3.5"/><circle cx="446.7" cy="1175.5" r="3.5"/><circle cx="365.3" cy="1220.6" r="3.5"/><circle cx="431.6" cy="1186.4" r="3.5"/><circle cx="445.1" cy="1169.3" r="3.5"/><circle cx="368.6" cy="1197.4" r="3.5"/><circle cx="454.1" cy="1195.9" r="3.5"/><circle cx="430.7" cy="1139.7" r="3.5"/><circle cx="335.0" cy="1154.4" r="3.5"/><circle cx="367.6" cy="1143.4" r="3.5"/><circle cx="435.4" cy="1259.1" r="3.5"/><circle cx="352.2" cy="1184.8" r="3.5"/><circle cx="355.5" cy="1253.2" r="3.5"/><circle cx="355.5" cy="1235.9" r="3.5"/><circle cx="462.1" cy="1138.3" r="3.5"/><circle cx="365.0" cy="1173.2" r="3.5"/><circle cx="453.0" cy="1190.2" r="3.5"/><circle cx="426.6" cy="1261.5" r="3.5"/><circle cx="354.4" cy="1167.8" r="3.5"/><circle cx="454.6" cy="1165.6" r="3.5"/><circle cx="348.7" cy="1164.3" r="3.5"/><circle cx="353.1" cy="1195.5" r="3.5"/><circle cx="349.4" cy="1208.0" r="3.5"/><circle cx="457.7" cy="1181.8" r="3.5"/><circle cx="353.4" cy="1161.9" r="3.5"/><circle cx="454.1" cy="1201.2" r="3.5"/><circle cx="350.8" cy="1240.0" r="3.5"/><circle cx="347.8" cy="1139.3" r="3.5"/><circle cx="353.8" cy="1215.7" r="3.5"/><circle cx="436.8" cy="1176.0" r="3.5"/><circle cx="341.8" cy="1201.6" r="3.5"/><circle cx="456.7" cy="1198.6" r="3.5"/><circle cx="427.3" cy="1261.8" r="3.5"/><circle cx="427.3" cy="1201.1" r="3.5"/><circle cx="435.5" cy="1190.7" r="3.5"/><circle cx="365.6" cy="1195.8" r="3.5"/><circle cx="441.4" cy="1232.5" r="3.5"/><circle cx="452.3" cy="1195.5" r="3.5"/><circle cx="352.5" cy="1167.7" r="3.5"/><circle cx="347.0" cy="1223.8" r="3.5"/><circle cx="353.3" cy="1255.1" r="3.5"/><circle cx="425.9" cy="1225.4" r="3.5"/><circle cx="356.8" cy="1246.1" r="3.5"/><circle cx="455.9" cy="1162.9" r="3.5"/><circle cx="426.3" cy="1241.5" r="3.5"/><circle cx="368.5" cy="1205.1" r="3.5"/><circle cx="450.3" cy="1239.2" r="3.5"/><circle cx="445.7" cy="1221.0" r="3.5"/><circle cx="429.1" cy="1261.2" r="3.5"/><circle cx="430.0" cy="1229.5" r="3.5"/><circle cx="362.2" cy="1219.9" r="3.5"/><circle cx="367.2" cy="1226.2" r="3.5"/><circle cx="345.1" cy="1212.9" r="3.5"/><circle cx="367.9" cy="1232.1" r="3.5"/><circle cx="367.1" cy="1160.4" r="3.5"/><circle cx="452.0" cy="1217.5" r="3.5"/><circle cx="427.1" cy="1205.1" r="3.5"/><circle cx="433.6" cy="1148.7" r="3.5"/><circle cx="353.7" cy="1156.8" r="3.5"/><circle cx="431.1" cy="1228.5" r="3.5"/><circle cx="368.6" cy="1195.2" r="3.5"/><circle cx="435.0" cy="1250.8" r="3.5"/><circle cx="432.3" cy="1199.2" r="3.5"/><circle cx="353.7" cy="1241.1" r="3.5"/><circle cx="350.5" cy="1170.8" r="3.5"/><circle cx="441.5" cy="1232.5" r="3.5"/><circle cx="350.7" cy="1161.5" r="3.5"/><circle cx="452.1" cy="1173.6" r="3.5"/><circle cx="432.8" cy="1230.3" r="3.5"/><circle cx="359.0" cy="1198.8" r="3.5"/><circle cx="363.6" cy="1150.9" r="3.5"/><circle cx="446.9" cy="1195.4" r="3.5"/><circle cx="445.6" cy="1176.7" r="3.5"/><circle cx="431.3" cy="1245.6" r="3.5"/><circle cx="446.3" cy="1264.8" r="3.5"/><circle cx="443.7" cy="1205.1" r="3.5"/><circle cx="447.3" cy="1260.7" r="3.5"/><circle cx="341.3" cy="1180.9" r="3.5"/><circle cx="454.9" cy="1178.9" r="3.5"/><circle cx="354.7" cy="1190.0" r="3.5"/><circle cx="428.2" cy="1224.2" r="3.5"/><circle cx="354.0" cy="1137.5" r="3.5"/><circle cx="351.9" cy="1186.8" r="3.5"/><circle cx="427.2" cy="1258.4" r="3.5"/><circle cx="455.8" cy="1152.5" r="3.5"/><circle cx="351.6" cy="1168.4" r="3.5"/><circle cx="442.7" cy="1257.5" r="3.5"/><circle cx="367.5" cy="1238.3" r="3.5"/><circle cx="427.0" cy="1179.2" r="3.5"/><circle cx="430.3" cy="1186.2" r="3.5"/><circle cx="368.5" cy="1148.1" r="3.5"/><circle cx="429.0" cy="1254.7" r="3.5"/><circle cx="366.8" cy="1154.3" r="3.5"/><circle cx="365.5" cy="1159.9" r="3.5"/><circle cx="361.8" cy="1265.0" r="3.5"/><circle cx="427.3" cy="1201.4" r="3.5"/><circle cx="433.5" cy="1265.1" r="3.5"/><circle cx="445.7" cy="1171.9" r="3.5"/><circle cx="363.3" cy="1169.7" r="3.5"/><circle cx="456.7" cy="1199.1" r="3.5"/><circle cx="431.9" cy="1235.5" r="3.5"/><circle cx="344.3" cy="1219.0" r="3.5"/><circle cx="367.3" cy="1215.9" r="3.5"/><circle cx="340.6" cy="1155.8" r="3.5"/><circle cx="368.3" cy="1234.5" r="3.5"/><circle cx="434.5" cy="1219.8" r="3.5"/><circle cx="430.8" cy="1222.6" r="3.5"/><circle cx="456.8" cy="1167.6" r="3.5"/><circle cx="442.4" cy="1260.3" r="3.5"/><circle cx="428.5" cy="1162.7" r="3.5"/><circle cx="441.1" cy="1178.0" r="3.5"/><circle cx="358.0" cy="1166.3" r="3.5"/><circle cx="459.9" cy="1183.8" r="3.5"/><circle cx="355.5" cy="1150.8" r="3.5"/><circle cx="367.3" cy="1197.6" r="3.5"/><circle cx="435.0" cy="1218.1" r="3.5"/><circle cx="444.2" cy="1151.8" r="3.5"/><circle cx="425.8" cy="1146.9" r="3.5"/><circle cx="434.4" cy="1189.1" r="3.5"/><circle cx="347.4" cy="1218.6" r="3.5"/><circle cx="443.9" cy="1192.6" r="3.5"/><circle cx="445.8" cy="1149.4" r="3.5"/><circle cx="343.2" cy="1207.7" r="3.5"/><circle cx="366.9" cy="1181.9" r="3.5"/><circle cx="355.9" cy="1182.8" r="3.5"/><circle cx="365.0" cy="1238.2" r="3.5"/><circle cx="366.9" cy="1236.5" r="3.5"/><circle cx="427.5" cy="1232.9" r="3.5"/><circle cx="363.0" cy="1156.0" r="3.5"/><circle cx="358.3" cy="1165.6" r="3.5"/><circle cx="353.0" cy="1265.4" r="3.5"/><circle cx="353.8" cy="1201.6" r="3.5"/><circle cx="352.9" cy="1253.9" r="3.5"/><circle cx="343.2" cy="1183.9" r="3.5"/><circle cx="351.3" cy="1227.8" r="3.5"/><circle cx="334.4" cy="1155.3" r="3.5"/><circle cx="358.8" cy="1238.3" r="3.5"/><circle cx="439.4" cy="1192.8" r="3.5"/><circle cx="355.9" cy="1164.7" r="3.5"/><circle cx="432.9" cy="1178.1" r="3.5"/><circle cx="363.4" cy="1219.6" r="3.5"/><circle cx="431.6" cy="1199.2" r="3.5"/><circle cx="442.7" cy="1158.0" r="3.5"/><circle cx="356.5" cy="1220.1" r="3.5"/><circle cx="361.6" cy="1156.2" r="3.5"/><circle cx="350.9" cy="1158.3" r="3.5"/><circle cx="434.7" cy="1166.4" r="3.5"/><circle cx="350.1" cy="1188.1" r="3.5"/><circle cx="454.0" cy="1162.6" r="3.5"/><circle cx="356.5" cy="1249.5" r="3.5"/><circle cx="439.1" cy="1183.2" r="3.5"/><circle cx="368.3" cy="1257.7" r="3.5"/><circle cx="368.2" cy="1195.9" r="3.5"/><circle cx="358.0" cy="1148.0" r="3.5"/><circle cx="432.1" cy="1165.3" r="3.5"/><circle cx="338.9" cy="1141.0" r="3.5"/><circle cx="454.3" cy="1210.9" r="3.5"/><circle cx="437.9" cy="1257.9" r="3.5"/><circle cx="434.5" cy="1140.4" r="3.5"/><circle cx="428.6" cy="1247.6" r="3.5"/><circle cx="429.6" cy="1220.1" r="3.5"/><circle cx="437.2" cy="1239.0" r="3.5"/><circle cx="342.4" cy="1148.0" r="3.5"/><circle cx="452.9" cy="1211.9" r="3.5"/><circle cx="359.9" cy="1240.4" r="3.5"/><circle cx="446.0" cy="1204.7" r="3.5"/><circle cx="445.1" cy="1246.2" r="3.5"/><circle cx="363.6" cy="1212.3" r="3.5"/><circle cx="363.8" cy="1186.9" r="3.5"/><circle cx="445.2" cy="1226.5" r="3.5"/><circle cx="360.2" cy="1195.2" r="3.5"/><circle cx="434.8" cy="1257.7" r="3.5"/><circle cx="360.9" cy="1157.1" r="3.5"/><circle cx="355.8" cy="1246.9" r="3.5"/><circle cx="366.1" cy="1194.1" r="3.5"/><circle cx="429.2" cy="1230.3" r="3.5"/><circle cx="431.0" cy="1137.2" r="3.5"/><circle cx="426.1" cy="1265.1" r="3.5"/><circle cx="438.4" cy="1178.9" r="3.5"/><circle cx="347.7" cy="1190.2" r="3.5"/><circle cx="360.7" cy="1156.7" r="3.5"/><circle cx="365.1" cy="1156.9" r="3.5"/><circle cx="463.4" cy="1161.4" r="3.5"/><circle cx="368.7" cy="1240.4" r="3.5"/><circle cx="350.2" cy="1250.2" r="3.5"/><circle cx="357.4" cy="1167.8" r="3.5"/><circle cx="367.8" cy="1194.5" r="3.5"/><circle cx="368.4" cy="1240.8" r="3.5"/><circle cx="443.3" cy="1139.4" r="3.5"/><circle cx="450.3" cy="1209.4" r="3.5"/><circle cx="454.1" cy="1212.4" r="3.5"/><circle cx="451.4" cy="1229.7" r="3.5"/><circle cx="438.1" cy="1226.2" r="3.5"/><circle cx="358.1" cy="1178.7" r="3.5"/><circle cx="338.9" cy="1180.6" r="3.5"/><circle cx="447.8" cy="1214.2" r="3.5"/><circle cx="445.1" cy="1225.1" r="3.5"/><circle cx="359.2" cy="1165.2" r="3.5"/><circle cx="356.4" cy="1190.1" r="3.5"/><circle cx="429.1" cy="1192.2" r="3.5"/><circle cx="358.7" cy="1238.0" r="3.5"/><circle cx="429.7" cy="1238.8" r="3.5"/><circle cx="432.8" cy="1207.6" r="3.5"/><circle cx="356.3" cy="1255.2" r="3.5"/><circle cx="428.9" cy="1220.3" r="3.5"/><circle cx="362.2" cy="1226.3" r="3.5"/><circle cx="358.2" cy="1227.2" r="3.5"/><circle cx="336.5" cy="1168.6" r="3.5"/><circle cx="359.3" cy="1185.0" r="3.5"/><circle cx="359.2" cy="1229.5" r="3.5"/><circle cx="427.3" cy="1196.4" r="3.5"/><circle cx="432.3" cy="1261.6" r="3.5"/><circle cx="434.1" cy="1171.7" r="3.5"/><circle cx="431.9" cy="1242.5" r="3.5"/><circle cx="354.0" cy="1200.5" r="3.5"/><circle cx="364.9" cy="1208.5" r="3.5"/><circle cx="436.2" cy="1145.6" r="3.5"/><circle cx="361.8" cy="1224.4" r="3.5"/><circle cx="425.8" cy="1215.9" r="3.5"/><circle cx="442.0" cy="1218.5" r="3.5"/><circle cx="436.3" cy="1222.4" r="3.5"/><circle cx="429.6" cy="1246.1" r="3.5"/><circle cx="430.3" cy="1174.4" r="3.5"/><circle cx="436.6" cy="1167.7" r="3.5"/><circle cx="351.7" cy="1146.9" r="3.5"/><circle cx="461.7" cy="1138.9" r="3.5"/><circle cx="438.6" cy="1213.6" r="3.5"/><circle cx="450.4" cy="1173.7" r="3.5"/><circle cx="348.5" cy="1167.2" r="3.5"/><circle cx="430.8" cy="1162.8" r="3.5"/><circle cx="341.1" cy="1194.4" r="3.5"/><circle cx="351.7" cy="1181.7" r="3.5"/><circle cx="446.7" cy="1225.1" r="3.5"/><circle cx="450.0" cy="1154.5" r="3.5"/><circle cx="429.3" cy="1195.9" r="3.5"/><circle cx="446.9" cy="1261.2" r="3.5"/><circle cx="348.6" cy="1158.2" r="3.5"/><circle cx="352.7" cy="1240.2" r="3.5"/><circle cx="341.2" cy="1145.0" r="3.5"/><circle cx="429.6" cy="1173.6" r="3.5"/><circle cx="430.2" cy="1220.2" r="3.5"/><circle cx="366.2" cy="1243.5" r="3.5"/><circle cx="365.0" cy="1231.5" r="3.5"/><circle cx="363.3" cy="1252.3" r="3.5"/><circle cx="361.8" cy="1247.4" r="3.5"/><circle cx="368.3" cy="1256.3" r="3.5"/><circle cx="355.1" cy="1169.9" r="3.5"/><circle cx="449.0" cy="1247.9" r="3.5"/><circle cx="363.9" cy="1174.4" r="3.5"/><circle cx="427.0" cy="1244.1" r="3.5"/><circle cx="456.0" cy="1166.8" r="3.5"/><circle cx="361.0" cy="1210.4" r="3.5"/><circle cx="348.1" cy="1181.1" r="3.5"/><circle cx="442.5" cy="1208.9" r="3.5"/><circle cx="364.6" cy="1230.5" r="3.5"/><circle cx="356.1" cy="1147.0" r="3.5"/><circle cx="427.8" cy="1210.0" r="3.5"/><circle cx="361.7" cy="1178.6" r="3.5"/><circle cx="345.2" cy="1225.0" r="3.5"/><circle cx="440.2" cy="1257.6" r="3.5"/><circle cx="446.1" cy="1145.3" r="3.5"/><circle cx="434.2" cy="1207.9" r="3.5"/><circle cx="444.7" cy="1242.7" r="3.5"/><circle cx="449.1" cy="1139.1" r="3.5"/><circle cx="428.7" cy="1239.0" r="3.5"/><circle cx="438.4" cy="1154.3" r="3.5"/><circle cx="436.4" cy="1223.7" r="3.5"/><circle cx="434.1" cy="1255.4" r="3.5"/><circle cx="429.5" cy="1250.3" r="3.5"/><circle cx="430.7" cy="1240.8" r="3.5"/><circle cx="346.7" cy="1222.4" r="3.5"/><circle cx="344.9" cy="1189.1" r="3.5"/><circle cx="426.2" cy="1145.6" r="3.5"/><circle cx="451.5" cy="1161.3" r="3.5"/><circle cx="431.6" cy="1171.4" r="3.5"/><circle cx="433.5" cy="1145.1" r="3.5"/><circle cx="363.5" cy="1196.5" r="3.5"/><circle cx="368.7" cy="1184.5" r="3.5"/><circle cx="456.4" cy="1185.6" r="3.5"/><circle cx="367.3" cy="1262.0" r="3.5"/><circle cx="430.2" cy="1147.2" r="3.5"/><circle cx="443.6" cy="1204.5" r="3.5"/><circle cx="430.8" cy="1203.1" r="3.5"/><circle cx="360.4" cy="1257.5" r="3.5"/><circle cx="431.5" cy="1247.0" r="3.5"/><circle cx="439.0" cy="1263.8" r="3.5"/><circle cx="339.2" cy="1169.3" r="3.5"/><circle cx="452.9" cy="1178.0" r="3.5"/><circle cx="365.1" cy="1230.1" r="3.5"/><circle cx="356.3" cy="1183.8" r="3.5"/><circle cx="355.3" cy="1218.1" r="3.5"/><circle cx="365.8" cy="1171.6" r="3.5"/><circle cx="442.8" cy="1186.0" r="3.5"/><circle cx="454.0" cy="1158.3" r="3.5"/><circle cx="443.1" cy="1188.0" r="3.5"/><circle cx="361.2" cy="1198.5" r="3.5"/><circle cx="363.3" cy="1218.4" r="3.5"/><circle cx="358.2" cy="1241.8" r="3.5"/><circle cx="446.7" cy="1209.1" r="3.5"/><circle cx="428.8" cy="1145.3" r="3.5"/><circle cx="427.6" cy="1180.4" r="3.5"/><circle cx="366.1" cy="1247.6" r="3.5"/><circle cx="430.0" cy="1143.0" r="3.5"/><circle cx="354.3" cy="1264.9" r="3.5"/><circle cx="434.2" cy="1223.7" r="3.5"/><circle cx="453.7" cy="1211.1" r="3.5"/><circle cx="356.4" cy="1257.1" r="3.5"/><circle cx="434.4" cy="1163.7" r="3.5"/><circle cx="359.8" cy="1262.0" r="3.5"/><circle cx="447.8" cy="1149.8" r="3.5"/><circle cx="454.0" cy="1215.9" r="3.5"/><circle cx="440.7" cy="1204.2" r="3.5"/><circle cx="426.9" cy="1232.7" r="3.5"/><circle cx="441.5" cy="1211.1" r="3.5"/><circle cx="360.7" cy="1215.1" r="3.5"/><circle cx="447.0" cy="1168.8" r="3.5"/><circle cx="360.1" cy="1142.6" r="3.5"/><circle cx="448.7" cy="1185.1" r="3.5"/><circle cx="426.1" cy="1154.6" r="3.5"/><circle cx="349.2" cy="1183.0" r="3.5"/><circle cx="431.2" cy="1163.7" r="3.5"/><circle cx="348.8" cy="1217.4" r="3.5"/><circle cx="443.7" cy="1174.3" r="3.5"/><circle cx="364.3" cy="1170.2" r="3.5"/><circle cx="444.1" cy="1142.1" r="3.5"/><circle cx="363.4" cy="1192.8" r="3.5"/><circle cx="443.2" cy="1258.5" r="3.5"/><circle cx="360.2" cy="1231.6" r="3.5"/><circle cx="431.0" cy="1228.8" r="3.5"/><circle cx="349.9" cy="1231.9" r="3.5"/><circle cx="365.5" cy="1173.3" r="3.5"/><circle cx="439.3" cy="1258.8" r="3.5"/><circle cx="351.8" cy="1244.0" r="3.5"/><circle cx="443.5" cy="1259.1" r="3.5"/><circle cx="347.0" cy="1180.9" r="3.5"/><circle cx="449.2" cy="1146.2" r="3.5"/><circle cx="458.6" cy="1187.8" r="3.5"/><circle cx="366.0" cy="1179.6" r="3.5"/><circle cx="351.3" cy="1202.4" r="3.5"/><circle cx="364.6" cy="1202.7" r="3.5"/><circle cx="453.1" cy="1168.6" r="3.5"/><circle cx="367.1" cy="1240.5" r="3.5"/><circle cx="364.2" cy="1243.1" r="3.5"/><circle cx="351.5" cy="1142.2" r="3.5"/><circle cx="427.3" cy="1253.5" r="3.5"/><circle cx="358.0" cy="1154.7" r="3.5"/><circle cx="426.7" cy="1252.8" r="3.5"/><circle cx="433.6" cy="1179.1" r="3.5"/><circle cx="427.1" cy="1181.5" r="3.5"/><circle cx="457.0" cy="1147.4" r="3.5"/><circle cx="365.4" cy="1146.1" r="3.5"/><circle cx="445.1" cy="1209.7" r="3.5"/><circle cx="444.0" cy="1251.4" r="3.5"/><circle cx="452.1" cy="1205.9" r="3.5"/><circle cx="441.4" cy="1210.7" r="3.5"/><circle cx="429.8" cy="1163.9" r="3.5"/><circle cx="433.1" cy="1241.1" r="3.5"/><circle cx="359.7" cy="1227.0" r="3.5"/><circle cx="362.3" cy="1136.4" r="3.5"/><circle cx="426.0" cy="1217.3" r="3.5"/><circle cx="433.4" cy="1243.5" r="3.5"/><circle cx="367.5" cy="1175.6" r="3.5"/><circle cx="450.1" cy="1147.5" r="3.5"/><circle cx="365.5" cy="1187.5" r="3.5"/><circle cx="438.2" cy="1208.0" r="3.5"/><circle cx="342.8" cy="1200.8" r="3.5"/><circle cx="351.6" cy="1234.6" r="3.5"/><circle cx="354.0" cy="1143.1" r="3.5"/><circle cx="365.8" cy="1156.9" r="3.5"/><circle cx="368.8" cy="1237.4" r="3.5"/><circle cx="443.9" cy="1257.3" r="3.5"/><circle cx="358.5" cy="1158.3" r="3.5"/><circle cx="354.7" cy="1144.1" r="3.5"/><circle cx="444.3" cy="1218.5" r="3.5"/><circle cx="449.4" cy="1136.9" r="3.5"/><circle cx="432.2" cy="1146.8" r="3.5"/><circle cx="343.9" cy="1199.7" r="3.5"/><circle cx="348.1" cy="1161.8" r="3.5"/><circle cx="429.4" cy="1182.2" r="3.5"/><circle cx="357.8" cy="1190.2" r="3.5"/><circle cx="360.0" cy="1218.8" r="3.5"/><circle cx="355.4" cy="1198.9" r="3.5"/><circle cx="426.1" cy="1255.8" r="3.5"/><circle cx="348.3" cy="1202.9" r="3.5"/><circle cx="442.3" cy="1143.6" r="3.5"/><circle cx="427.2" cy="1205.7" r="3.5"/><circle cx="365.6" cy="1219.5" r="3.5"/><circle cx="366.1" cy="1206.2" r="3.5"/><circle cx="366.1" cy="1189.3" r="3.5"/><circle cx="354.0" cy="1196.3" r="3.5"/><circle cx="441.1" cy="1224.2" r="3.5"/><circle cx="356.4" cy="1265.2" r="3.5"/><circle cx="449.5" cy="1221.9" r="3.5"/><circle cx="440.9" cy="1145.8" r="3.5"/><circle cx="362.2" cy="1203.4" r="3.5"/><circle cx="445.9" cy="1231.6" r="3.5"/><circle cx="438.7" cy="1183.9" r="3.5"/><circle cx="368.6" cy="1182.7" r="3.5"/><circle cx="440.1" cy="1197.9" r="3.5"/><circle cx="361.4" cy="1148.7" r="3.5"/><circle cx="363.5" cy="1244.9" r="3.5"/><circle cx="350.5" cy="1251.3" r="3.5"/><circle cx="362.5" cy="1164.6" r="3.5"/><circle cx="353.0" cy="1201.3" r="3.5"/><circle cx="445.6" cy="1229.2" r="3.5"/><circle cx="356.9" cy="1229.2" r="3.5"/><circle cx="451.9" cy="1191.4" r="3.5"/><circle cx="348.4" cy="1205.8" r="3.5"/><circle cx="359.2" cy="1191.1" r="3.5"/><circle cx="443.4" cy="1250.5" r="3.5"/><circle cx="358.0" cy="1183.3" r="3.5"/><circle cx="441.2" cy="1263.2" r="3.5"/><circle cx="426.4" cy="1239.5" r="3.5"/><circle cx="429.7" cy="1246.8" r="3.5"/><circle cx="451.4" cy="1181.6" r="3.5"/><circle cx="359.5" cy="1206.6" r="3.5"/><circle cx="437.1" cy="1245.5" r="3.5"/><circle cx="362.5" cy="1166.7" r="3.5"/><circle cx="353.4" cy="1232.1" r="3.5"/><circle cx="341.9" cy="1200.7" r="3.5"/><circle cx="364.4" cy="1218.3" r="3.5"/><circle cx="358.2" cy="1229.6" r="3.5"/><circle cx="347.7" cy="1211.2" r="3.5"/><circle cx="438.8" cy="1220.1" r="3.5"/><circle cx="463.7" cy="1142.9" r="3.5"/><circle cx="364.8" cy="1218.8" r="3.5"/><circle cx="360.5" cy="1159.6" r="3.5"/><circle cx="345.5" cy="1155.8" r="3.5"/><circle cx="345.0" cy="1214.7" r="3.5"/><circle cx="365.4" cy="1154.3" r="3.5"/><circle cx="341.8" cy="1193.7" r="3.5"/><circle cx="368.0" cy="1223.1" r="3.5"/><circle cx="428.5" cy="1202.3" r="3.5"/><circle cx="454.4" cy="1174.9" r="3.5"/><circle cx="441.4" cy="1146.5" r="3.5"/><circle cx="435.8" cy="1220.6" r="3.5"/><circle cx="365.9" cy="1206.6" r="3.5"/><circle cx="446.7" cy="1252.2" r="3.5"/><circle cx="362.7" cy="1138.5" r="3.5"/><circle cx="353.8" cy="1254.4" r="3.5"/><circle cx="365.1" cy="1220.7" r="3.5"/><circle cx="338.6" cy="1174.9" r="3.5"/><circle cx="433.4" cy="1262.5" r="3.5"/><circle cx="431.4" cy="1208.1" r="3.5"/><circle cx="445.8" cy="1147.0" r="3.5"/><circle cx="458.1" cy="1152.7" r="3.5"/><circle cx="365.5" cy="1250.1" r="3.5"/><circle cx="344.2" cy="1199.3" r="3.5"/><circle cx="361.3" cy="1238.4" r="3.5"/><circle cx="438.0" cy="1224.4" r="3.5"/><circle cx="341.2" cy="1162.5" r="3.5"/><circle cx="336.6" cy="1157.6" r="3.5"/><circle cx="350.3" cy="1145.5" r="3.5"/><circle cx="338.6" cy="1152.8" r="3.5"/><circle cx="434.6" cy="1226.3" r="3.5"/><circle cx="439.1" cy="1143.4" r="3.5"/><circle cx="436.8" cy="1263.9" r="3.5"/><circle cx="435.7" cy="1227.2" r="3.5"/><circle cx="349.1" cy="1197.1" r="3.5"/><circle cx="342.4" cy="1196.2" r="3.5"/><circle cx="353.1" cy="1229.6" r="3.5"/><circle cx="436.9" cy="1211.2" r="3.5"/><circle cx="453.9" cy="1193.8" r="3.5"/><circle cx="360.0" cy="1244.3" r="3.5"/><circle cx="432.7" cy="1245.6" r="3.5"/><circle cx="363.3" cy="1219.4" r="3.5"/><circle cx="364.7" cy="1218.6" r="3.5"/><circle cx="428.0" cy="1229.0" r="3.5"/><circle cx="426.0" cy="1200.2" r="3.5"/><circle cx="433.2" cy="1159.6" r="3.5"/><circle cx="353.2" cy="1257.9" r="3.5"/><circle cx="437.5" cy="1260.1" r="3.5"/><circle cx="356.4" cy="1180.4" r="3.5"/><circle cx="427.8" cy="1205.5" r="3.5"/><circle cx="360.6" cy="1230.7" r="3.5"/><circle cx="339.9" cy="1186.4" r="3.5"/><circle cx="425.8" cy="1237.8" r="3.5"/><circle cx="360.6" cy="1160.3" r="3.5"/><circle cx="428.5" cy="1210.6" r="3.5"/><circle cx="439.6" cy="1199.6" r="3.5"/><circle cx="454.0" cy="1172.1" r="3.5"/><circle cx="357.6" cy="1233.1" r="3.5"/><circle cx="456.3" cy="1168.4" r="3.5"/><circle cx="451.2" cy="1164.5" r="3.5"/><circle cx="430.8" cy="1152.8" r="3.5"/><circle cx="347.9" cy="1236.3" r="3.5"/><circle cx="432.4" cy="1224.9" r="3.5"/><circle cx="461.4" cy="1173.9" r="3.5"/><circle cx="429.9" cy="1191.6" r="3.5"/><circle cx="365.6" cy="1155.5" r="3.5"/><circle cx="441.8" cy="1154.1" r="3.5"/><circle cx="442.0" cy="1240.8" r="3.5"/><circle cx="353.6" cy="1153.7" r="3.5"/><circle cx="368.5" cy="1199.3" r="3.5"/><circle cx="344.5" cy="1188.6" r="3.5"/><circle cx="445.4" cy="1166.8" r="3.5"/><circle cx="442.1" cy="1234.3" r="3.5"/><circle cx="367.8" cy="1232.2" r="3.5"/><circle cx="363.4" cy="1178.4" r="3.5"/><circle cx="431.9" cy="1173.6" r="3.5"/><circle cx="445.8" cy="1264.6" r="3.5"/><circle cx="438.6" cy="1254.2" r="3.5"/><circle cx="357.8" cy="1174.3" r="3.5"/><circle cx="447.4" cy="1259.9" r="3.5"/><circle cx="452.7" cy="1173.4" r="3.5"/><circle cx="433.6" cy="1248.5" r="3.5"/><circle cx="367.4" cy="1210.1" r="3.5"/><circle cx="352.2" cy="1145.7" r="3.5"/><circle cx="439.9" cy="1171.6" r="3.5"/><circle cx="431.3" cy="1176.1" r="3.5"/><circle cx="444.9" cy="1215.7" r="3.5"/><circle cx="363.1" cy="1192.0" r="3.5"/><circle cx="442.1" cy="1219.3" r="3.5"/><circle cx="432.2" cy="1230.4" r="3.5"/><circle cx="461.7" cy="1140.4" r="3.5"/><circle cx="349.6" cy="1214.9" r="3.5"/><circle cx="444.1" cy="1242.1" r="3.5"/><circle cx="449.4" cy="1153.7" r="3.5"/><circle cx="367.3" cy="1261.8" r="3.5"/><circle cx="426.5" cy="1257.3" r="3.5"/><circle cx="364.8" cy="1201.5" r="3.5"/><circle cx="448.2" cy="1161.9" r="3.5"/><circle cx="357.6" cy="1186.0" r="3.5"/><circle cx="357.1" cy="1150.3" r="3.5"/><circle cx="366.3" cy="1234.1" r="3.5"/><circle cx="336.8" cy="1170.7" r="3.5"/><circle cx="434.4" cy="1223.9" r="3.5"/><circle cx="336.1" cy="1165.8" r="3.5"/><circle cx="432.8" cy="1233.4" r="3.5"/><circle cx="427.6" cy="1263.3" r="3.5"/><circle cx="367.8" cy="1164.3" r="3.5"/><circle cx="445.2" cy="1195.8" r="3.5"/><circle cx="340.1" cy="1173.2" r="3.5"/><circle cx="425.7" cy="1161.0" r="3.5"/><circle cx="348.8" cy="1227.9" r="3.5"/><circle cx="365.1" cy="1230.6" r="3.5"/><circle cx="355.3" cy="1170.9" r="3.5"/><circle cx="362.9" cy="1168.0" r="3.5"/><circle cx="349.5" cy="1199.2" r="3.5"/><circle cx="367.7" cy="1160.2" r="3.5"/><circle cx="348.2" cy="1217.3" r="3.5"/><circle cx="445.3" cy="1142.2" r="3.5"/><circle cx="354.3" cy="1189.4" r="3.5"/><circle cx="434.0" cy="1186.0" r="3.5"/><circle cx="368.2" cy="1246.5" r="3.5"/><circle cx="448.9" cy="1225.2" r="3.5"/><circle cx="451.1" cy="1189.4" r="3.5"/><circle cx="437.3" cy="1138.1" r="3.5"/><circle cx="443.3" cy="1242.3" r="3.5"/><circle cx="443.6" cy="1212.8" r="3.5"/><circle cx="340.7" cy="1159.6" r="3.5"/><circle cx="339.6" cy="1151.8" r="3.5"/><circle cx="447.4" cy="1231.4" r="3.5"/><circle cx="363.6" cy="1158.1" r="3.5"/><circle cx="359.4" cy="1194.6" r="3.5"/><circle cx="430.7" cy="1141.4" r="3.5"/><circle cx="438.5" cy="1243.8" r="3.5"/><circle cx="428.6" cy="1264.4" r="3.5"/><circle cx="444.1" cy="1254.5" r="3.5"/><circle cx="447.4" cy="1252.5" r="3.5"/><circle cx="460.3" cy="1136.7" r="3.5"/><circle cx="343.9" cy="1144.3" r="3.5"/><circle cx="447.4" cy="1154.8" r="3.5"/><circle cx="461.2" cy="1156.9" r="3.5"/><circle cx="431.4" cy="1148.2" r="3.5"/><circle cx="368.8" cy="1221.5" r="3.5"/><circle cx="452.1" cy="1228.8" r="3.5"/><circle cx="428.1" cy="1202.0" r="3.5"/><circle cx="434.0" cy="1196.0" r="3.5"/><circle cx="439.8" cy="1180.6" r="3.5"/><circle cx="429.7" cy="1209.6" r="3.5"/><circle cx="367.8" cy="1221.7" r="3.5"/><circle cx="444.5" cy="1234.0" r="3.5"/><circle cx="357.0" cy="1213.4" r="3.5"/><circle cx="448.5" cy="1228.5" r="3.5"/><circle cx="349.0" cy="1218.8" r="3.5"/><circle cx="436.8" cy="1154.7" r="3.5"/><circle cx="332.6" cy="1145.7" r="3.5"/><circle cx="364.6" cy="1172.1" r="3.5"/><circle cx="428.2" cy="1162.5" r="3.5"/><circle cx="447.2" cy="1185.4" r="3.5"/><circle cx="431.2" cy="1145.5" r="3.5"/><circle cx="430.2" cy="1254.5" r="3.5"/><circle cx="438.9" cy="1152.1" r="3.5"/><circle cx="353.4" cy="1166.4" r="3.5"/><circle cx="428.1" cy="1249.6" r="3.5"/><circle cx="343.4" cy="1210.4" r="3.5"/><circle cx="363.4" cy="1185.9" r="3.5"/><circle cx="351.3" cy="1164.1" r="3.5"/><circle cx="361.4" cy="1260.1" r="3.5"/><circle cx="367.7" cy="1156.8" r="3.5"/><circle cx="368.2" cy="1195.9" r="3.5"/><circle cx="361.6" cy="1251.5" r="3.5"/><circle cx="426.4" cy="1231.2" r="3.5"/><circle cx="364.2" cy="1227.5" r="3.5"/><circle cx="353.6" cy="1140.5" r="3.5"/><circle cx="433.3" cy="1142.6" r="3.5"/><circle cx="450.9" cy="1203.9" r="3.5"/><circle cx="347.2" cy="1225.3" r="3.5"/><circle cx="360.2" cy="1226.8" r="3.5"/><circle cx="343.0" cy="1166.8" r="3.5"/><circle cx="461.2" cy="1144.2" r="3.5"/><circle cx="350.0" cy="1189.3" r="3.5"/><circle cx="449.1" cy="1232.5" r="3.5"/><circle cx="426.5" cy="1205.2" r="3.5"/><circle cx="455.9" cy="1191.1" r="3.5"/><circle cx="355.3" cy="1256.5" r="3.5"/><circle cx="339.8" cy="1186.2" r="3.5"/><circle cx="427.4" cy="1256.3" r="3.5"/><circle cx="426.4" cy="1234.2" r="3.5"/><circle cx="343.2" cy="1166.5" r="3.5"/><circle cx="346.1" cy="1187.9" r="3.5"/><circle cx="428.2" cy="1146.7" r="3.5"/><circle cx="358.3" cy="1208.3" r="3.5"/><circle cx="448.7" cy="1229.0" r="3.5"/><circle cx="426.9" cy="1169.1" r="3.5"/><circle cx="349.9" cy="1202.7" r="3.5"/><circle cx="338.6" cy="1150.8" r="3.5"/><circle cx="355.0" cy="1222.7" r="3.5"/><circle cx="450.9" cy="1196.3" r="3.5"/><circle cx="452.9" cy="1204.9" r="3.5"/><circle cx="351.7" cy="1198.7" r="3.5"/><circle cx="448.2" cy="1155.4" r="3.5"/><circle cx="439.3" cy="1244.3" r="3.5"/><circle cx="368.1" cy="1171.9" r="3.5"/><circle cx="428.7" cy="1232.6" r="3.5"/><circle cx="366.3" cy="1223.4" r="3.5"/><circle cx="348.1" cy="1229.1" r="3.5"/><circle cx="357.9" cy="1172.5" r="3.5"/><circle cx="345.8" cy="1160.8" r="3.5"/><circle cx="368.6" cy="1172.6" r="3.5"/><circle cx="354.1" cy="1225.5" r="3.5"/><circle cx="356.0" cy="1255.6" r="3.5"/><circle cx="432.6" cy="1260.4" r="3.5"/><circle cx="361.8" cy="1222.1" r="3.5"/><circle cx="445.5" cy="1162.8" r="3.5"/><circle cx="428.3" cy="1177.0" r="3.5"/><circle cx="349.3" cy="1204.9" r="3.5"/><circle cx="355.5" cy="1149.9" r="3.5"/><circle cx="426.8" cy="1185.1" r="3.5"/><circle cx="354.5" cy="1212.7" r="3.5"/><circle cx="351.1" cy="1150.0" r="3.5"/><circle cx="364.8" cy="1205.8" r="3.5"/><circle cx="351.9" cy="1207.1" r="3.5"/><circle cx="431.0" cy="1227.4" r="3.5"/><circle cx="353.9" cy="1238.2" r="3.5"/><circle cx="443.8" cy="1156.8" r="3.5"/><circle cx="353.9" cy="1183.0" r="3.5"/><circle cx="434.4" cy="1250.9" r="3.5"/><circle cx="356.2" cy="1203.3" r="3.5"/><circle cx="426.8" cy="1240.1" r="3.5"/><circle cx="364.9" cy="1219.7" r="3.5"/><circle cx="352.4" cy="1200.6" r="3.5"/><circle cx="435.5" cy="1187.9" r="3.5"/><circle cx="349.0" cy="1183.3" r="3.5"/><circle cx="344.4" cy="1137.8" r="3.5"/><circle cx="367.8" cy="1162.4" r="3.5"/><circle cx="443.8" cy="1199.3" r="3.5"/><circle cx="342.9" cy="1167.1" r="3.5"/><circle cx="362.9" cy="1173.3" r="3.5"/><circle cx="452.1" cy="1206.9" r="3.5"/><circle cx="440.1" cy="1196.7" r="3.5"/><circle cx="346.7" cy="1168.8" r="3.5"/><circle cx="452.5" cy="1198.8" r="3.5"/><circle cx="447.8" cy="1251.5" r="3.5"/><circle cx="431.6" cy="1233.8" r="3.5"/><circle cx="429.5" cy="1166.2" r="3.5"/><circle cx="361.0" cy="1247.5" r="3.5"/><circle cx="444.9" cy="1162.3" r="3.5"/><circle cx="351.1" cy="1253.8" r="3.5"/><circle cx="364.8" cy="1255.4" r="3.5"/><circle cx="368.0" cy="1181.9" r="3.5"/><circle cx="434.9" cy="1241.4" r="3.5"/><circle cx="347.5" cy="1156.4" r="3.5"/><circle cx="352.6" cy="1145.6" r="3.5"/><circle cx="364.3" cy="1238.6" r="3.5"/><circle cx="336.3" cy="1167.4" r="3.5"/><circle cx="356.0" cy="1238.8" r="3.5"/><circle cx="363.3" cy="1249.5" r="3.5"/><circle cx="444.8" cy="1179.7" r="3.5"/><circle cx="452.4" cy="1228.5" r="3.5"/><circle cx="368.3" cy="1217.8" r="3.5"/><circle cx="454.4" cy="1206.9" r="3.5"/><circle cx="358.5" cy="1175.6" r="3.5"/><circle cx="352.9" cy="1238.0" r="3.5"/><circle cx="429.3" cy="1261.5" r="3.5"/><circle cx="450.9" cy="1185.4" r="3.5"/><circle cx="425.8" cy="1220.6" r="3.5"/><circle cx="353.8" cy="1227.3" r="3.5"/><circle cx="426.7" cy="1203.0" r="3.5"/><circle cx="439.8" cy="1252.1" r="3.5"/><circle cx="348.6" cy="1146.5" r="3.5"/><circle cx="433.0" cy="1210.0" r="3.5"/><circle cx="435.8" cy="1201.9" r="3.5"/><circle cx="343.8" cy="1209.4" r="3.5"/><circle cx="365.4" cy="1200.7" r="3.5"/><circle cx="365.1" cy="1212.5" r="3.5"/><circle cx="354.0" cy="1218.6" r="3.5"/><circle cx="444.3" cy="1256.0" r="3.5"/><circle cx="356.8" cy="1264.2" r="3.5"/><circle cx="446.9" cy="1260.2" r="3.5"/><circle cx="351.0" cy="1256.6" r="3.5"/><circle cx="446.8" cy="1228.7" r="3.5"/><circle cx="364.1" cy="1265.0" r="3.5"/><circle cx="347.0" cy="1158.9" r="3.5"/><circle cx="434.8" cy="1262.4" r="3.5"/><circle cx="458.3" cy="1145.6" r="3.5"/><circle cx="351.4" cy="1175.1" r="3.5"/><circle cx="455.0" cy="1210.6" r="3.5"/><circle cx="353.2" cy="1180.3" r="3.5"/><circle cx="434.4" cy="1196.7" r="3.5"/><circle cx="442.2" cy="1214.2" r="3.5"/><circle cx="431.4" cy="1201.6" r="3.5"/><circle cx="359.7" cy="1253.9" r="3.5"/><circle cx="359.6" cy="1171.2" r="3.5"/><circle cx="432.5" cy="1141.5" r="3.5"/><circle cx="367.7" cy="1154.9" r="3.5"/><circle cx="460.8" cy="1162.5" r="3.5"/><circle cx="359.9" cy="1209.3" r="3.5"/><circle cx="349.2" cy="1175.4" r="3.5"/><circle cx="425.7" cy="1236.0" r="3.5"/><circle cx="358.1" cy="1173.9" r="3.5"/><circle cx="366.9" cy="1140.2" r="3.5"/><circle cx="447.4" cy="1140.1" r="3.5"/><circle cx="351.8" cy="1197.5" r="3.5"/><circle cx="358.3" cy="1159.8" r="3.5"/><circle cx="366.7" cy="1200.4" r="3.5"/><circle cx="453.2" cy="1182.2" r="3.5"/><circle cx="345.4" cy="1224.5" r="3.5"/><circle cx="427.7" cy="1159.2" r="3.5"/><circle cx="433.2" cy="1248.6" r="3.5"/><circle cx="348.7" cy="1180.0" r="3.5"/><circle cx="366.2" cy="1199.1" r="3.5"/><circle cx="357.9" cy="1233.2" r="3.5"/><circle cx="363.2" cy="1143.1" r="3.5"/><circle cx="368.8" cy="1196.8" r="3.5"/><circle cx="351.9" cy="1200.0" r="3.5"/><circle cx="358.0" cy="1199.6" r="3.5"/><circle cx="352.9" cy="1253.6" r="3.5"/><circle cx="453.9" cy="1148.2" r="3.5"/><circle cx="441.9" cy="1186.2" r="3.5"/><circle cx="437.1" cy="1224.3" r="3.5"/><circle cx="361.5" cy="1147.4" r="3.5"/><circle cx="440.8" cy="1182.9" r="3.5"/><circle cx="356.1" cy="1237.1" r="3.5"/><circle cx="435.4" cy="1248.1" r="3.5"/><circle cx="339.9" cy="1171.9" r="3.5"/><circle cx="426.7" cy="1234.3" r="3.5"/><circle cx="338.4" cy="1170.2" r="3.5"/><circle cx="442.6" cy="1187.4" r="3.5"/><circle cx="357.9" cy="1166.4" r="3.5"/><circle cx="361.4" cy="1179.7" r="3.5"/><circle cx="364.5" cy="1240.0" r="3.5"/><circle cx="433.6" cy="1262.2" r="3.5"/><circle cx="446.0" cy="1169.8" r="3.5"/><circle cx="459.3" cy="1180.4" r="3.5"/><circle cx="437.1" cy="1208.2" r="3.5"/><circle cx="349.8" cy="1206.0" r="3.5"/><circle cx="360.0" cy="1232.9" r="3.5"/><circle cx="425.6" cy="1263.4" r="3.5"/><circle cx="443.5" cy="1248.2" r="3.5"/><circle cx="362.5" cy="1262.7" r="3.5"/><circle cx="363.7" cy="1263.1" r="3.5"/><circle cx="343.8" cy="1138.7" r="3.5"/><circle cx="425.7" cy="1238.1" r="3.5"/><circle cx="427.1" cy="1168.1" r="3.5"/><circle cx="436.4" cy="1139.7" r="3.5"/><circle cx="365.0" cy="1203.0" r="3.5"/><circle cx="365.1" cy="1258.1" r="3.5"/><circle cx="366.2" cy="1256.5" r="3.5"/><circle cx="354.0" cy="1258.0" r="3.5"/><circle cx="346.7" cy="1210.5" r="3.5"/><circle cx="368.3" cy="1243.3" r="3.5"/><circle cx="350.2" cy="1157.2" r="3.5"/><circle cx="454.1" cy="1199.3" r="3.5"/><circle cx="450.9" cy="1161.9" r="3.5"/><circle cx="437.7" cy="1237.5" r="3.5"/><circle cx="352.3" cy="1262.2" r="3.5"/><circle cx="346.0" cy="1227.7" r="3.5"/><circle cx="435.0" cy="1210.1" r="3.5"/><circle cx="348.0" cy="1231.9" r="3.5"/><circle cx="417.6" cy="1122.8" r="3.5"/><circle cx="423.4" cy="1130.5" r="3.5"/><circle cx="375.5" cy="1133.2" r="3.5"/><circle cx="415.1" cy="1132.9" r="3.5"/><circle cx="379.2" cy="1121.7" r="3.5"/><circle cx="379.7" cy="1128.7" r="3.5"/><circle cx="414.7" cy="1095.1" r="3.5"/><circle cx="386.8" cy="1098.6" r="3.5"/><circle cx="389.5" cy="1127.0" r="3.5"/><circle cx="377.0" cy="1104.1" r="3.5"/><circle cx="423.5" cy="1132.1" r="3.5"/><circle cx="383.9" cy="1127.9" r="3.5"/><circle cx="376.4" cy="1129.5" r="3.5"/><circle cx="417.6" cy="1107.2" r="3.5"/><circle cx="407.2" cy="1101.8" r="3.5"/><circle cx="389.2" cy="1132.4" r="3.5"/><circle cx="420.0" cy="1130.2" r="3.5"/><circle cx="377.3" cy="1124.3" r="3.5"/><circle cx="383.5" cy="1113.2" r="3.5"/><circle cx="388.5" cy="1121.5" r="3.5"/><circle cx="374.7" cy="1123.9" r="3.5"/><circle cx="419.6" cy="1129.5" r="3.5"/><circle cx="387.7" cy="1116.8" r="3.5"/><circle cx="381.0" cy="1127.9" r="3.5"/><circle cx="369.5" cy="1134.6" r="3.5"/><circle cx="382.6" cy="1136.0" r="3.5"/><circle cx="385.1" cy="1049.3" r="3.5"/><circle cx="422.6" cy="1122.9" r="3.5"/><circle cx="371.6" cy="1112.9" r="3.5"/><circle cx="373.4" cy="1088.7" r="3.5"/><circle cx="423.7" cy="1087.3" r="3.5"/><circle cx="420.7" cy="1128.8" r="3.5"/><circle cx="422.8" cy="1100.6" r="3.5"/><circle cx="370.6" cy="1114.7" r="3.5"/><circle cx="371.3" cy="1125.6" r="3.5"/><circle cx="422.8" cy="1126.9" r="3.5"/><circle cx="412.0" cy="1105.9" r="3.5"/><circle cx="373.6" cy="1122.0" r="3.5"/><circle cx="374.4" cy="1128.7" r="3.5"/><circle cx="416.4" cy="1133.8" r="3.5"/><circle cx="410.4" cy="1113.6" r="3.5"/><circle cx="412.6" cy="1092.4" r="3.5"/><circle cx="390.8" cy="1133.9" r="3.5"/><circle cx="390.9" cy="1129.3" r="3.5"/><circle cx="386.7" cy="1135.1" r="3.5"/><circle cx="389.2" cy="1134.2" r="3.5"/><circle cx="383.2" cy="1132.7" r="3.5"/><circle cx="377.1" cy="1113.2" r="3.5"/><circle cx="385.9" cy="1129.6" r="3.5"/><circle cx="410.7" cy="1134.2" r="3.5"/><circle cx="406.8" cy="1136.1" r="3.5"/><circle cx="387.1" cy="1134.0" r="3.5"/><circle cx="384.7" cy="1126.9" r="3.5"/><circle cx="371.6" cy="1106.2" r="3.5"/><circle cx="414.0" cy="1112.1" r="3.5"/><circle cx="369.4" cy="1128.0" r="3.5"/><circle cx="421.6" cy="1134.5" r="3.5"/><circle cx="369.4" cy="1120.2" r="3.5"/><circle cx="414.9" cy="1128.3" r="3.5"/><circle cx="385.0" cy="1133.7" r="3.5"/><circle cx="423.1" cy="1128.8" r="3.5"/><circle cx="418.5" cy="1119.1" r="3.5"/><circle cx="417.4" cy="1124.3" r="3.5"/><circle cx="422.8" cy="1038.8" r="3.5"/><circle cx="388.2" cy="1135.4" r="3.5"/><circle cx="372.3" cy="1128.9" r="3.5"/><circle cx="373.2" cy="1124.0" r="3.5"/><circle cx="406.4" cy="1107.0" r="3.5"/><circle cx="378.6" cy="1134.0" r="3.5"/><circle cx="388.5" cy="1052.8" r="3.5"/><circle cx="375.0" cy="1130.6" r="3.5"/><circle cx="374.8" cy="1120.5" r="3.5"/><circle cx="389.9" cy="1126.5" r="3.5"/><circle cx="419.4" cy="1106.2" r="3.5"/><circle cx="405.8" cy="1072.4" r="3.5"/><circle cx="380.1" cy="1133.3" r="3.5"/><circle cx="385.7" cy="1127.5" r="3.5"/><circle cx="382.2" cy="1062.4" r="3.5"/><circle cx="421.1" cy="1109.3" r="3.5"/><circle cx="386.1" cy="1105.7" r="3.5"/><circle cx="410.9" cy="1122.3" r="3.5"/><circle cx="386.4" cy="1088.9" r="3.5"/><circle cx="388.6" cy="1126.5" r="3.5"/><circle cx="378.2" cy="1128.7" r="3.5"/><circle cx="375.1" cy="1120.3" r="3.5"/><circle cx="372.0" cy="1125.6" r="3.5"/><circle cx="384.1" cy="1122.3" r="3.5"/><circle cx="410.3" cy="1132.8" r="3.5"/><circle cx="384.1" cy="1134.7" r="3.5"/><circle cx="386.6" cy="1105.8" r="3.5"/><circle cx="380.2" cy="1128.6" r="3.5"/><circle cx="417.0" cy="1091.4" r="3.5"/><circle cx="408.6" cy="1135.9" r="3.5"/><circle cx="424.0" cy="1120.9" r="3.5"/><circle cx="389.6" cy="1119.5" r="3.5"/><circle cx="384.6" cy="1108.4" r="3.5"/><circle cx="417.4" cy="1120.6" r="3.5"/><circle cx="418.5" cy="1135.9" r="3.5"/><circle cx="418.4" cy="1095.6" r="3.5"/><circle cx="370.9" cy="1129.9" r="3.5"/><circle cx="410.7" cy="1128.6" r="3.5"/><circle cx="418.1" cy="1124.0" r="3.5"/><circle cx="382.8" cy="1121.5" r="3.5"/><circle cx="369.9" cy="1133.4" r="3.5"/><circle cx="423.5" cy="1130.2" r="3.5"/><circle cx="419.4" cy="1132.4" r="3.5"/><circle cx="377.9" cy="1132.5" r="3.5"/><circle cx="374.5" cy="1095.4" r="3.5"/><circle cx="375.9" cy="1115.8" r="3.5"/><circle cx="381.4" cy="1129.4" r="3.5"/><circle cx="406.4" cy="1135.4" r="3.5"/><circle cx="422.9" cy="1053.3" r="3.5"/><circle cx="406.6" cy="1118.1" r="3.5"/><circle cx="387.9" cy="1126.9" r="3.5"/><circle cx="414.3" cy="1113.0" r="3.5"/><circle cx="372.5" cy="1135.0" r="3.5"/><circle cx="391.2" cy="1049.5" r="3.5"/><circle cx="406.5" cy="1095.6" r="3.5"/><circle cx="369.6" cy="1122.3" r="3.5"/><circle cx="413.8" cy="1119.3" r="3.5"/><circle cx="389.6" cy="1127.7" r="3.5"/><circle cx="387.6" cy="1125.8" r="3.5"/><circle cx="375.6" cy="1100.0" r="3.5"/><circle cx="385.4" cy="1117.7" r="3.5"/><circle cx="411.6" cy="1132.1" r="3.5"/><circle cx="408.2" cy="1133.4" r="3.5"/><circle cx="376.6" cy="1061.8" r="3.5"/><circle cx="372.1" cy="1052.7" r="3.5"/><circle cx="381.5" cy="1128.1" r="3.5"/><circle cx="420.5" cy="1120.7" r="3.5"/><circle cx="422.6" cy="1126.7" r="3.5"/><circle cx="381.3" cy="1122.0" r="3.5"/><circle cx="410.8" cy="1132.1" r="3.5"/><circle cx="411.3" cy="1126.9" r="3.5"/><circle cx="417.3" cy="1128.1" r="3.5"/><circle cx="385.7" cy="1098.5" r="3.5"/><circle cx="382.8" cy="1132.3" r="3.5"/><circle cx="409.5" cy="1107.0" r="3.5"/><circle cx="381.5" cy="1111.6" r="3.5"/><circle cx="373.5" cy="1133.4" r="3.5"/><circle cx="371.9" cy="1111.0" r="3.5"/><circle cx="376.6" cy="1133.8" r="3.5"/><circle cx="382.1" cy="1133.4" r="3.5"/><circle cx="385.8" cy="1132.3" r="3.5"/><circle cx="378.9" cy="1120.6" r="3.5"/><circle cx="422.6" cy="1128.2" r="3.5"/><circle cx="414.7" cy="1117.1" r="3.5"/><circle cx="409.5" cy="1134.4" r="3.5"/><circle cx="407.5" cy="1134.6" r="3.5"/><circle cx="390.4" cy="1121.9" r="3.5"/><circle cx="376.0" cy="1124.1" r="3.5"/><circle cx="379.2" cy="1099.4" r="3.5"/><circle cx="370.1" cy="1126.2" r="3.5"/><circle cx="391.2" cy="1130.8" r="3.5"/><circle cx="382.1" cy="1086.8" r="3.5"/><circle cx="386.0" cy="1127.1" r="3.5"/><circle cx="373.5" cy="1132.2" r="3.5"/><circle cx="386.1" cy="1066.9" r="3.5"/><circle cx="372.2" cy="1128.4" r="3.5"/><circle cx="371.4" cy="1103.8" r="3.5"/><circle cx="377.6" cy="1122.5" r="3.5"/><circle cx="383.7" cy="1108.7" r="3.5"/><circle cx="419.6" cy="1120.3" r="3.5"/><circle cx="376.6" cy="1131.1" r="3.5"/><circle cx="424.2" cy="1125.1" r="3.5"/><circle cx="422.8" cy="1072.0" r="3.5"/><circle cx="373.9" cy="1104.6" r="3.5"/><circle cx="389.1" cy="1099.7" r="3.5"/><circle cx="390.5" cy="1089.8" r="3.5"/><circle cx="384.8" cy="1127.4" r="3.5"/><circle cx="372.9" cy="1132.0" r="3.5"/><circle cx="370.8" cy="1135.4" r="3.5"/><circle cx="378.9" cy="1103.2" r="3.5"/><circle cx="372.4" cy="1131.9" r="3.5"/><circle cx="406.0" cy="1087.1" r="3.5"/><circle cx="383.3" cy="1135.8" r="3.5"/><circle cx="414.7" cy="1133.9" r="3.5"/><circle cx="381.2" cy="1051.7" r="3.5"/><circle cx="423.0" cy="1133.9" r="3.5"/><circle cx="370.0" cy="1133.7" r="3.5"/><circle cx="378.0" cy="1118.2" r="3.5"/><circle cx="407.5" cy="1123.5" r="3.5"/><circle cx="406.3" cy="1119.1" r="3.5"/><circle cx="378.3" cy="1128.8" r="3.5"/><circle cx="389.6" cy="1100.6" r="3.5"/><circle cx="373.7" cy="1075.0" r="3.5"/><circle cx="376.8" cy="1133.8" r="3.5"/><circle cx="406.9" cy="1126.0" r="3.5"/><circle cx="381.6" cy="1133.9" r="3.5"/><circle cx="381.5" cy="1132.5" r="3.5"/><circle cx="413.4" cy="1106.3" r="3.5"/><circle cx="376.2" cy="1127.7" r="3.5"/><circle cx="407.9" cy="1126.9" r="3.5"/><circle cx="391.4" cy="1131.1" r="3.5"/><circle cx="414.1" cy="1090.9" r="3.5"/><circle cx="383.9" cy="1134.1" r="3.5"/><circle cx="388.4" cy="1127.5" r="3.5"/><circle cx="388.4" cy="1134.9" r="3.5"/><circle cx="388.3" cy="1131.8" r="3.5"/><circle cx="379.0" cy="1133.0" r="3.5"/><circle cx="416.0" cy="1129.7" r="3.5"/><circle cx="416.7" cy="1131.5" r="3.5"/><circle cx="390.5" cy="1133.1" r="3.5"/><circle cx="413.3" cy="1128.8" r="3.5"/><circle cx="381.8" cy="1122.4" r="3.5"/><circle cx="414.6" cy="1095.2" r="3.5"/><circle cx="407.9" cy="1052.4" r="3.5"/><circle cx="378.2" cy="1101.9" r="3.5"/><circle cx="387.2" cy="1123.3" r="3.5"/><circle cx="413.7" cy="1051.0" r="3.5"/><circle cx="413.0" cy="1102.3" r="3.5"/><circle cx="412.3" cy="1102.5" r="3.5"/><circle cx="386.7" cy="1086.8" r="3.5"/><circle cx="410.0" cy="1092.2" r="3.5"/><circle cx="374.5" cy="1121.3" r="3.5"/><circle cx="423.2" cy="1133.9" r="3.5"/><circle cx="414.4" cy="1127.2" r="3.5"/><circle cx="406.1" cy="1117.6" r="3.5"/><circle cx="379.6" cy="1136.0" r="3.5"/><circle cx="390.0" cy="1109.6" r="3.5"/><circle cx="387.0" cy="1136.1" r="3.5"/><circle cx="385.7" cy="1078.7" r="3.5"/><circle cx="386.1" cy="1132.1" r="3.5"/><circle cx="382.3" cy="1131.4" r="3.5"/><circle cx="390.6" cy="1063.4" r="3.5"/><circle cx="415.9" cy="1134.9" r="3.5"/><circle cx="411.4" cy="1118.3" r="3.5"/><circle cx="370.4" cy="1132.2" r="3.5"/><circle cx="375.1" cy="1091.7" r="3.5"/><circle cx="386.9" cy="1128.9" r="3.5"/><circle cx="416.5" cy="1117.9" r="3.5"/><circle cx="374.1" cy="1097.3" r="3.5"/><circle cx="416.3" cy="1111.7" r="3.5"/><circle cx="375.6" cy="1128.9" r="3.5"/><circle cx="419.2" cy="1129.3" r="3.5"/><circle cx="380.2" cy="1021.2" r="3.5"/><circle cx="407.6" cy="1106.6" r="3.5"/><circle cx="412.9" cy="1093.7" r="3.5"/><circle cx="376.6" cy="1127.2" r="3.5"/><circle cx="387.1" cy="1124.9" r="3.5"/><circle cx="371.0" cy="1099.2" r="3.5"/><circle cx="385.7" cy="1133.2" r="3.5"/><circle cx="389.0" cy="1134.9" r="3.5"/><circle cx="384.6" cy="1135.8" r="3.5"/><circle cx="415.6" cy="1119.9" r="3.5"/><circle cx="373.0" cy="1096.6" r="3.5"/><circle cx="386.5" cy="1130.7" r="3.5"/><circle cx="369.8" cy="1126.7" r="3.5"/><circle cx="385.3" cy="1108.3" r="3.5"/><circle cx="424.4" cy="1109.9" r="3.5"/><circle cx="371.8" cy="1085.5" r="3.5"/><circle cx="384.8" cy="1134.3" r="3.5"/><circle cx="386.8" cy="1130.8" r="3.5"/><circle cx="379.9" cy="1123.2" r="3.5"/><circle cx="389.3" cy="1057.1" r="3.5"/><circle cx="370.2" cy="1132.7" r="3.5"/><circle cx="369.4" cy="1102.5" r="3.5"/><circle cx="387.6" cy="1135.2" r="3.5"/><circle cx="412.3" cy="1103.9" r="3.5"/><circle cx="378.4" cy="1091.1" r="3.5"/><circle cx="416.6" cy="1106.2" r="3.5"/><circle cx="382.3" cy="1128.0" r="3.5"/><circle cx="422.6" cy="1072.0" r="3.5"/><circle cx="380.8" cy="1110.5" r="3.5"/><circle cx="377.2" cy="1053.1" r="3.5"/><circle cx="377.1" cy="1117.5" r="3.5"/><circle cx="370.5" cy="1122.6" r="3.5"/><circle cx="424.1" cy="1126.6" r="3.5"/><circle cx="391.3" cy="1129.2" r="3.5"/><circle cx="380.8" cy="1133.9" r="3.5"/><circle cx="416.7" cy="1135.7" r="3.5"/><circle cx="411.4" cy="1115.7" r="3.5"/><circle cx="423.2" cy="1125.3" r="3.5"/><circle cx="371.6" cy="1104.8" r="3.5"/><circle cx="379.5" cy="1135.8" r="3.5"/><circle cx="369.9" cy="1135.3" r="3.5"/><circle cx="372.4" cy="1127.6" r="3.5"/><circle cx="413.0" cy="1132.3" r="3.5"/><circle cx="410.2" cy="1130.1" r="3.5"/><circle cx="390.2" cy="1070.6" r="3.5"/><circle cx="410.9" cy="1133.1" r="3.5"/><circle cx="390.9" cy="1130.7" r="3.5"/><circle cx="372.9" cy="1118.0" r="3.5"/><circle cx="378.1" cy="1098.9" r="3.5"/><circle cx="370.8" cy="1078.3" r="3.5"/><circle cx="387.7" cy="1120.9" r="3.5"/><circle cx="406.1" cy="1107.5" r="3.5"/><circle cx="422.0" cy="1133.1" r="3.5"/><circle cx="378.3" cy="1132.9" r="3.5"/><circle cx="378.7" cy="1118.9" r="3.5"/><circle cx="411.3" cy="1080.2" r="3.5"/><circle cx="384.3" cy="1056.5" r="3.5"/><circle cx="406.6" cy="1124.7" r="3.5"/><circle cx="415.1" cy="1086.8" r="3.5"/><circle cx="421.1" cy="1124.7" r="3.5"/><circle cx="381.5" cy="1117.8" r="3.5"/><circle cx="371.8" cy="1128.8" r="3.5"/><circle cx="413.3" cy="1132.2" r="3.5"/><circle cx="420.5" cy="1111.0" r="3.5"/><circle cx="377.1" cy="1108.3" r="3.5"/><circle cx="408.1" cy="1127.1" r="3.5"/><circle cx="390.8" cy="1134.3" r="3.5"/><circle cx="378.3" cy="1133.9" r="3.5"/><circle cx="388.7" cy="1124.2" r="3.5"/><circle cx="411.2" cy="1135.5" r="3.5"/><circle cx="372.4" cy="1120.5" r="3.5"/><circle cx="374.0" cy="1123.7" r="3.5"/><circle cx="423.5" cy="1122.8" r="3.5"/><circle cx="383.8" cy="1134.6" r="3.5"/><circle cx="383.5" cy="1129.2" r="3.5"/><circle cx="422.2" cy="1109.0" r="3.5"/><circle cx="390.2" cy="1095.5" r="3.5"/><circle cx="406.4" cy="1118.4" r="3.5"/><circle cx="374.2" cy="1124.1" r="3.5"/><circle cx="421.0" cy="1104.5" r="3.5"/><circle cx="422.1" cy="1135.8" r="3.5"/><circle cx="373.1" cy="1128.5" r="3.5"/><circle cx="379.1" cy="1091.0" r="3.5"/><circle cx="415.2" cy="1129.0" r="3.5"/><circle cx="409.5" cy="1098.0" r="3.5"/><circle cx="389.0" cy="1117.7" r="3.5"/><circle cx="371.7" cy="1112.8" r="3.5"/><circle cx="414.8" cy="1086.1" r="3.5"/><circle cx="391.3" cy="1133.2" r="3.5"/><circle cx="406.4" cy="1121.9" r="3.5"/><circle cx="370.0" cy="1073.6" r="3.5"/><circle cx="371.0" cy="1128.7" r="3.5"/><circle cx="371.0" cy="1123.3" r="3.5"/><circle cx="376.9" cy="1059.4" r="3.5"/><circle cx="382.6" cy="1134.2" r="3.5"/><circle cx="471.8" cy="1166.7" r="3.5"/><circle cx="460.2" cy="1158.2" r="3.5"/><circle cx="476.7" cy="1257.0" r="3.5"/><circle cx="475.2" cy="1218.9" r="3.5"/><circle cx="312.8" cy="1239.9" r="3.5"/><circle cx="328.3" cy="1174.9" r="3.5"/><circle cx="483.8" cy="1175.1" r="3.5"/><circle cx="470.9" cy="1212.6" r="3.5"/><circle cx="469.1" cy="1191.2" r="3.5"/><circle cx="339.5" cy="1198.3" r="3.5"/><circle cx="462.2" cy="1150.4" r="3.5"/><circle cx="332.1" cy="1244.2" r="3.5"/><circle cx="456.5" cy="1203.9" r="3.5"/><circle cx="339.2" cy="1237.4" r="3.5"/><circle cx="493.3" cy="1190.0" r="3.5"/><circle cx="299.3" cy="1184.1" r="3.5"/><circle cx="457.2" cy="1189.5" r="3.5"/><circle cx="340.0" cy="1257.8" r="3.5"/><circle cx="488.9" cy="1195.9" r="3.5"/><circle cx="454.2" cy="1182.8" r="3.5"/><circle cx="454.6" cy="1148.7" r="3.5"/><circle cx="455.0" cy="1187.3" r="3.5"/><circle cx="453.9" cy="1178.6" r="3.5"/><circle cx="329.6" cy="1232.5" r="3.5"/><circle cx="320.2" cy="1204.2" r="3.5"/><circle cx="332.1" cy="1157.1" r="3.5"/><circle cx="461.8" cy="1235.1" r="3.5"/><circle cx="337.5" cy="1172.8" r="3.5"/><circle cx="331.9" cy="1166.1" r="3.5"/><circle cx="337.8" cy="1164.6" r="3.5"/><circle cx="327.0" cy="1211.3" r="3.5"/><circle cx="311.7" cy="1263.6" r="3.5"/><circle cx="492.0" cy="1190.1" r="3.5"/><circle cx="335.2" cy="1250.0" r="3.5"/><circle cx="339.9" cy="1168.1" r="3.5"/><circle cx="338.4" cy="1223.0" r="3.5"/><circle cx="460.9" cy="1213.3" r="3.5"/><circle cx="465.7" cy="1188.4" r="3.5"/><circle cx="337.9" cy="1158.2" r="3.5"/><circle cx="334.7" cy="1236.3" r="3.5"/><circle cx="324.8" cy="1236.6" r="3.5"/><circle cx="457.3" cy="1218.9" r="3.5"/><circle cx="310.5" cy="1221.3" r="3.5"/><circle cx="338.2" cy="1230.3" r="3.5"/><circle cx="321.0" cy="1192.5" r="3.5"/><circle cx="466.6" cy="1214.7" r="3.5"/><circle cx="307.9" cy="1145.9" r="3.5"/><circle cx="473.5" cy="1241.2" r="3.5"/><circle cx="331.5" cy="1262.8" r="3.5"/><circle cx="455.9" cy="1245.4" r="3.5"/><circle cx="319.5" cy="1211.0" r="3.5"/><circle cx="466.6" cy="1175.6" r="3.5"/><circle cx="463.1" cy="1187.2" r="3.5"/><circle cx="331.4" cy="1142.9" r="3.5"/><circle cx="330.5" cy="1151.1" r="3.5"/><circle cx="454.4" cy="1172.3" r="3.5"/><circle cx="463.7" cy="1216.8" r="3.5"/><circle cx="317.0" cy="1223.1" r="3.5"/><circle cx="459.6" cy="1259.6" r="3.5"/><circle cx="481.4" cy="1203.1" r="3.5"/><circle cx="337.9" cy="1166.0" r="3.5"/><circle cx="459.6" cy="1152.7" r="3.5"/><circle cx="309.2" cy="1213.4" r="3.5"/><circle cx="477.5" cy="1166.9" r="3.5"/><circle cx="336.8" cy="1161.6" r="3.5"/><circle cx="318.4" cy="1198.6" r="3.5"/><circle cx="490.8" cy="1220.9" r="3.5"/><circle cx="304.2" cy="1235.9" r="3.5"/><circle cx="468.6" cy="1264.0" r="3.5"/><circle cx="459.2" cy="1258.8" r="3.5"/><circle cx="455.5" cy="1219.9" r="3.5"/><circle cx="465.2" cy="1221.2" r="3.5"/><circle cx="455.9" cy="1183.2" r="3.5"/><circle cx="314.7" cy="1246.8" r="3.5"/><circle cx="491.0" cy="1258.3" r="3.5"/><circle cx="323.9" cy="1218.2" r="3.5"/><circle cx="331.0" cy="1191.4" r="3.5"/><circle cx="457.9" cy="1251.0" r="3.5"/><circle cx="465.2" cy="1154.4" r="3.5"/><circle cx="463.5" cy="1216.9" r="3.5"/><circle cx="339.0" cy="1245.8" r="3.5"/><circle cx="454.3" cy="1205.9" r="3.5"/><circle cx="470.3" cy="1224.4" r="3.5"/><circle cx="305.4" cy="1141.1" r="3.5"/><circle cx="466.2" cy="1244.1" r="3.5"/><circle cx="459.9" cy="1188.4" r="3.5"/><circle cx="250.9" cy="1220.7" r="3.5"/><circle cx="284.6" cy="1230.7" r="3.5"/><circle cx="287.4" cy="1237.6" r="3.5"/><circle cx="293.1" cy="1223.7" r="3.5"/><circle cx="297.9" cy="1153.1" r="3.5"/><circle cx="301.6" cy="1153.1" r="3.5"/><circle cx="285.7" cy="1140.1" r="3.5"/><circle cx="312.1" cy="1191.9" r="3.5"/><circle cx="327.7" cy="1181.9" r="3.5"/><circle cx="321.2" cy="1151.1" r="3.5"/><circle cx="512.9" cy="1155.1" r="3.5"/><circle cx="522.3" cy="1173.0" r="3.5"/><circle cx="527.7" cy="1181.9" r="3.5"/><circle cx="531.9" cy="1181.9" r="3.5"/><circle cx="553.7" cy="1168.0" r="3.5"/><circle cx="551.8" cy="1195.8" r="3.5"/><circle cx="541.0" cy="1215.8" r="3.5"/><circle cx="495.6" cy="1175.0" r="3.5"/><circle cx="478.3" cy="1184.9" r="3.5"/><circle cx="489.1" cy="1210.8" r="3.5"/><circle cx="495.6" cy="1219.7" r="3.5"/><circle cx="491.4" cy="1230.7" r="3.5"/><circle cx="463.3" cy="1164.0" r="3.5"/><circle cx="465.3" cy="1151.1" r="3.5"/><circle cx="482.3" cy="1205.8" r="3.5"/><circle cx="479.4" cy="1235.7" r="3.5"/><circle cx="499.3" cy="1245.6" r="3.5"/><circle cx="269.6" cy="1250.6" r="3.5"/><circle cx="624.1" cy="1265.1" r="3.5"/><circle cx="627.1" cy="1265.1" r="3.5"/><circle cx="359.4" cy="1265.4" r="3.5"/><circle cx="584.2" cy="1264.7" r="3.5"/><circle cx="324.1" cy="1265.5" r="3.5"/><circle cx="317.2" cy="1265.5" r="3.5"/><circle cx="338.0" cy="1264.9" r="3.5"/><circle cx="506.9" cy="1265.4" r="3.5"/><circle cx="621.3" cy="1265.3" r="3.5"/><circle cx="591.7" cy="1264.5" r="3.5"/><circle cx="599.5" cy="1264.4" r="3.5"/><circle cx="350.7" cy="1264.5" r="3.5"/><circle cx="282.0" cy="1265.5" r="3.5"/><circle cx="383.7" cy="1265.5" r="3.5"/><circle cx="521.4" cy="1265.0" r="3.5"/><circle cx="280.0" cy="1265.0" r="3.5"/><circle cx="508.2" cy="1265.0" r="3.5"/><circle cx="256.8" cy="1264.8" r="3.5"/><circle cx="524.4" cy="1265.0" r="3.5"/><circle cx="383.6" cy="1265.3" r="3.5"/><circle cx="572.2" cy="1264.6" r="3.5"/><circle cx="275.6" cy="1265.2" r="3.5"/><circle cx="543.6" cy="1265.2" r="3.5"/><circle cx="302.3" cy="1264.6" r="3.5"/><circle cx="409.1" cy="1265.1" r="3.5"/><circle cx="380.3" cy="1264.9" r="3.5"/><circle cx="397.4" cy="1265.4" r="3.5"/><circle cx="600.5" cy="1264.8" r="3.5"/><circle cx="557.1" cy="1265.5" r="3.5"/><circle cx="326.1" cy="1265.0" r="3.5"/><circle cx="249.3" cy="1264.5" r="3.5"/><circle cx="421.8" cy="1265.2" r="3.5"/><circle cx="536.5" cy="1265.1" r="3.5"/><circle cx="446.8" cy="1265.5" r="3.5"/><circle cx="257.2" cy="1265.4" r="3.5"/><circle cx="286.4" cy="1265.2" r="3.5"/><circle cx="391.1" cy="1265.4" r="3.5"/><circle cx="625.4" cy="1264.3" r="3.5"/><circle cx="339.8" cy="1265.2" r="3.5"/><circle cx="320.8" cy="1265.0" r="3.5"/><circle cx="431.5" cy="1264.6" r="3.5"/><circle cx="413.3" cy="1264.8" r="3.5"/><circle cx="300.3" cy="1265.2" r="3.5"/><circle cx="396.9" cy="1265.3" r="3.5"/><circle cx="259.9" cy="1264.9" r="3.5"/><circle cx="336.4" cy="1265.0" r="3.5"/><circle cx="608.7" cy="1264.7" r="3.5"/><circle cx="271.3" cy="1265.0" r="3.5"/><circle cx="474.9" cy="1264.8" r="3.5"/><circle cx="464.2" cy="1265.0" r="3.5"/><circle cx="338.7" cy="1264.5" r="3.5"/><circle cx="534.8" cy="1265.1" r="3.5"/><circle cx="511.8" cy="1265.4" r="3.5"/><circle cx="356.2" cy="1265.3" r="3.5"/><circle cx="544.6" cy="1264.5" r="3.5"/><circle cx="532.6" cy="1265.0" r="3.5"/><circle cx="480.7" cy="1265.3" r="3.5"/><circle cx="606.5" cy="1264.8" r="3.5"/><circle cx="448.3" cy="1264.5" r="3.5"/><circle cx="314.3" cy="1265.2" r="3.5"/><circle cx="287.0" cy="1264.4" r="3.5"/><circle cx="464.2" cy="1265.2" r="3.5"/><circle cx="607.1" cy="1265.4" r="3.5"/><circle cx="577.9" cy="1264.7" r="3.5"/><circle cx="504.0" cy="1265.0" r="3.5"/><circle cx="565.5" cy="1265.5" r="3.5"/><circle cx="437.5" cy="1264.5" r="3.5"/><circle cx="331.2" cy="1264.7" r="3.5"/><circle cx="400.6" cy="1265.2" r="3.5"/><circle cx="617.9" cy="1264.6" r="3.5"/><circle cx="611.4" cy="1265.3" r="3.5"/><circle cx="301.2" cy="1264.7" r="3.5"/><circle cx="359.8" cy="1264.6" r="3.5"/><circle cx="403.4" cy="1265.5" r="3.5"/><circle cx="593.0" cy="1265.4" r="3.5"/><circle cx="340.3" cy="1265.3" r="3.5"/><circle cx="433.1" cy="1265.4" r="3.5"/><circle cx="335.8" cy="1264.9" r="3.5"/><circle cx="604.8" cy="1264.7" r="3.5"/><circle cx="347.7" cy="1265.3" r="3.5"/><circle cx="408.4" cy="1265.3" r="3.5"/><circle cx="382.5" cy="1265.0" r="3.5"/><circle cx="597.1" cy="1264.8" r="3.5"/><circle cx="294.4" cy="1264.8" r="3.5"/><circle cx="453.9" cy="1264.9" r="3.5"/><circle cx="345.3" cy="1264.9" r="3.5"/><circle cx="372.6" cy="1265.0" r="3.5"/><circle cx="628.5" cy="1264.8" r="3.5"/><circle cx="382.6" cy="1265.0" r="3.5"/><circle cx="300.6" cy="1265.4" r="3.5"/><circle cx="461.1" cy="1265.2" r="3.5"/><circle cx="396.3" cy="1264.7" r="3.5"/><circle cx="626.7" cy="1264.5" r="3.5"/><circle cx="573.8" cy="1265.1" r="3.5"/><circle cx="336.7" cy="1264.9" r="3.5"/><circle cx="434.7" cy="1265.3" r="3.5"/><circle cx="394.2" cy="1264.7" r="3.5"/><circle cx="524.3" cy="1264.7" r="3.5"/><circle cx="389.7" cy="1265.4" r="3.5"/><circle cx="557.5" cy="1264.7" r="3.5"/><circle cx="498.5" cy="1265.3" r="3.5"/><circle cx="614.2" cy="1265.1" r="3.5"/><circle cx="622.2" cy="1264.9" r="3.5"/><circle cx="453.1" cy="1264.5" r="3.5"/><circle cx="349.6" cy="1265.1" r="3.5"/><circle cx="286.8" cy="1265.2" r="3.5"/><circle cx="566.3" cy="1264.3" r="3.5"/><circle cx="300.5" cy="1264.7" r="3.5"/><circle cx="446.5" cy="1264.4" r="3.5"/><circle cx="330.6" cy="1264.8" r="3.5"/><circle cx="261.2" cy="1264.4" r="3.5"/><circle cx="411.9" cy="1265.0" r="3.5"/><circle cx="464.5" cy="1264.4" r="3.5"/><circle cx="413.8" cy="1264.8" r="3.5"/><circle cx="255.9" cy="1264.7" r="3.5"/><circle cx="597.2" cy="1264.5" r="3.5"/><circle cx="420.8" cy="1264.9" r="3.5"/><circle cx="467.1" cy="1264.9" r="3.5"/><circle cx="545.4" cy="1264.5" r="3.5"/><circle cx="329.5" cy="1265.1" r="3.5"/></g>
<line x1="397.2" y1="774.4" x2="397.2" y2="1267.6" stroke="#c9c9c9" stroke-width="4" />
<g fill="#2a72b4"><circle cx="178.5" cy="879.2" r="3.5"/><circle cx="320.4" cy="902.5" r="3.5"/><circle cx="273.3" cy="919.1" r="3.5"/><circle cx="290.1" cy="919.1" r="3.5"/><circle cx="354.4" cy="935.8" r="3.5"/><circle cx="346.1" cy="949.6" r="3.5"/><circle cx="363.6" cy="972.5" r="3.5"/><circle cx="347.8" cy="979.5" r="3.5"/><circle cx="317.0" cy="984.5" r="3.5"/><circle cx="360.7" cy="988.0" r="3.5"/><circle cx="360.7" cy="996.0" r="3.5"/><circle cx="360.7" cy="1004.0" r="3.5"/><circle cx="336.1" cy="1006.0" r="3.5"/><circle cx="341.1" cy="1017.7" r="3.5"/><circle cx="362.7" cy="1015.2" r="3.5"/><circle cx="270.5" cy="1022.7" r="3.5"/><circle cx="346.1" cy="1027.7" r="3.5"/><circle cx="356.1" cy="1026.9" r="3.5"/><circle cx="331.2" cy="1034.3" r="3.5"/><circle cx="339.5" cy="1034.3" r="3.5"/><circle cx="317.5" cy="1038.5" r="3.5"/><circle cx="352.8" cy="1040.0" r="3.5"/><circle cx="356.0" cy="1046.0" r="3.5"/><circle cx="360.0" cy="1052.0" r="3.5"/><circle cx="292.9" cy="1054.0" r="3.5"/><circle cx="323.7" cy="1061.0" r="3.5"/><circle cx="284.6" cy="1065.1" r="3.5"/><circle cx="292.9" cy="1071.7" r="3.5"/><circle cx="336.1" cy="1066.8" r="3.5"/><circle cx="344.5" cy="1074.2" r="3.5"/><circle cx="199.5" cy="1078.4" r="3.5"/><circle cx="323.3" cy="1080.0" r="3.5"/><circle cx="311.2" cy="1088.0" r="3.5"/><circle cx="313.0" cy="1094.0" r="3.5"/><circle cx="327.8" cy="1090.0" r="3.5"/><circle cx="321.2" cy="1095.0" r="3.5"/><circle cx="344.0" cy="1084.2" r="3.5"/><circle cx="337.8" cy="1117.5" r="3.5"/><circle cx="344.5" cy="1125.8" r="3.5"/><circle cx="316.2" cy="1130.8" r="3.5"/><circle cx="285.4" cy="1135.0" r="3.5"/><circle cx="366.5" cy="1075.2" r="3.5"/><circle cx="361.3" cy="1104.6" r="3.5"/><circle cx="365.8" cy="1128.7" r="3.5"/><circle cx="360.7" cy="1131.8" r="3.5"/><circle cx="367.4" cy="1118.0" r="3.5"/><circle cx="367.1" cy="1117.8" r="3.5"/><circle cx="348.5" cy="1069.5" r="3.5"/><circle cx="359.1" cy="1129.2" r="3.5"/><circle cx="367.0" cy="1123.0" r="3.5"/><circle cx="339.8" cy="1113.7" r="3.5"/><circle cx="341.7" cy="1108.4" r="3.5"/><circle cx="354.7" cy="1114.5" r="3.5"/><circle cx="367.6" cy="1132.4" r="3.5"/><circle cx="356.0" cy="1131.8" r="3.5"/><circle cx="366.3" cy="1085.6" r="3.5"/><circle cx="350.7" cy="1122.1" r="3.5"/><circle cx="363.5" cy="1110.1" r="3.5"/><circle cx="353.1" cy="1072.6" r="3.5"/><circle cx="360.6" cy="1134.0" r="3.5"/><circle cx="360.3" cy="1119.1" r="3.5"/><circle cx="354.1" cy="1117.3" r="3.5"/><circle cx="367.3" cy="1102.2" r="3.5"/><circle cx="361.9" cy="1084.5" r="3.5"/><circle cx="366.0" cy="1102.6" r="3.5"/><circle cx="363.2" cy="1125.1" r="3.5"/><circle cx="355.5" cy="1071.3" r="3.5"/><circle cx="363.6" cy="1127.0" r="3.5"/><circle cx="354.1" cy="1129.8" r="3.5"/><circle cx="355.3" cy="1113.5" r="3.5"/><circle cx="368.1" cy="1123.7" r="3.5"/><circle cx="365.4" cy="1125.7" r="3.5"/><circle cx="364.9" cy="1124.6" r="3.5"/><circle cx="350.8" cy="1125.9" r="3.5"/><circle cx="364.7" cy="1134.3" r="3.5"/><circle cx="365.1" cy="1117.3" r="3.5"/><circle cx="355.8" cy="1111.7" r="3.5"/><circle cx="357.8" cy="1125.5" r="3.5"/><circle cx="363.4" cy="1127.3" r="3.5"/><circle cx="367.2" cy="1098.7" r="3.5"/><circle cx="362.1" cy="1118.0" r="3.5"/><circle cx="365.9" cy="1103.7" r="3.5"/><circle cx="361.1" cy="1111.7" r="3.5"/><circle cx="347.9" cy="1090.5" r="3.5"/><circle cx="360.9" cy="1098.3" r="3.5"/><circle cx="353.2" cy="1127.9" r="3.5"/><circle cx="364.9" cy="1123.5" r="3.5"/><circle cx="348.9" cy="1126.1" r="3.5"/><circle cx="351.1" cy="1131.9" r="3.5"/><circle cx="354.9" cy="1110.4" r="3.5"/><circle cx="351.4" cy="1112.8" r="3.5"/><circle cx="362.1" cy="1134.3" r="3.5"/><circle cx="365.1" cy="1108.1" r="3.5"/><circle cx="367.0" cy="1081.7" r="3.5"/><circle cx="366.7" cy="1123.0" r="3.5"/><circle cx="353.7" cy="1112.1" r="3.5"/><circle cx="349.8" cy="1131.2" r="3.5"/><circle cx="350.2" cy="1121.8" r="3.5"/><circle cx="356.2" cy="1117.3" r="3.5"/><circle cx="363.7" cy="1127.0" r="3.5"/><circle cx="345.6" cy="1124.4" r="3.5"/><circle cx="356.1" cy="1128.8" r="3.5"/><circle cx="343.2" cy="1109.6" r="3.5"/><circle cx="360.1" cy="1093.7" r="3.5"/><circle cx="341.5" cy="1134.6" r="3.5"/><circle cx="357.7" cy="1089.9" r="3.5"/><circle cx="368.0" cy="1126.2" r="3.5"/><circle cx="344.0" cy="1115.0" r="3.5"/><circle cx="367.0" cy="1130.2" r="3.5"/><circle cx="349.8" cy="1127.7" r="3.5"/><circle cx="340.4" cy="1093.4" r="3.5"/><circle cx="360.2" cy="1110.8" r="3.5"/><circle cx="361.5" cy="1116.9" r="3.5"/><circle cx="350.0" cy="1121.1" r="3.5"/><circle cx="353.4" cy="1132.1" r="3.5"/><circle cx="354.7" cy="1121.1" r="3.5"/><circle cx="366.1" cy="1088.3" r="3.5"/><circle cx="353.2" cy="1133.8" r="3.5"/><circle cx="361.0" cy="1134.8" r="3.5"/><circle cx="363.8" cy="1131.7" r="3.5"/><circle cx="350.2" cy="1111.3" r="3.5"/><circle cx="363.6" cy="1104.5" r="3.5"/><circle cx="358.4" cy="1091.6" r="3.5"/><circle cx="359.2" cy="1099.3" r="3.5"/><circle cx="351.1" cy="1134.7" r="3.5"/><circle cx="361.4" cy="1120.0" r="3.5"/><circle cx="339.4" cy="1104.2" r="3.5"/><circle cx="361.7" cy="1121.9" r="3.5"/><circle cx="364.1" cy="1117.1" r="3.5"/><circle cx="352.7" cy="1132.5" r="3.5"/><circle cx="367.3" cy="1130.3" r="3.5"/><circle cx="356.5" cy="1134.3" r="3.5"/><circle cx="357.5" cy="1121.0" r="3.5"/><circle cx="357.9" cy="1115.7" r="3.5"/><circle cx="368.3" cy="1098.7" r="3.5"/><circle cx="365.6" cy="1128.1" r="3.5"/><circle cx="367.7" cy="1124.4" r="3.5"/><circle cx="364.5" cy="1084.2" r="3.5"/><circle cx="367.5" cy="1113.5" r="3.5"/><circle cx="358.7" cy="1115.3" r="3.5"/><circle cx="367.4" cy="1134.3" r="3.5"/><circle cx="355.9" cy="1122.9" r="3.5"/><circle cx="362.2" cy="1131.7" r="3.5"/><circle cx="361.8" cy="1134.8" r="3.5"/><circle cx="366.5" cy="1069.7" r="3.5"/><circle cx="363.2" cy="1119.4" r="3.5"/><circle cx="367.2" cy="1133.1" r="3.5"/><circle cx="364.0" cy="1113.4" r="3.5"/><circle cx="365.6" cy="1115.7" r="3.5"/><circle cx="366.6" cy="1126.1" r="3.5"/><circle cx="345.6" cy="1105.8" r="3.5"/><circle cx="364.7" cy="1083.1" r="3.5"/><circle cx="337.4" cy="1132.3" r="3.5"/><circle cx="363.0" cy="1061.4" r="3.5"/><circle cx="358.6" cy="1105.8" r="3.5"/><circle cx="356.5" cy="1069.7" r="3.5"/><circle cx="363.4" cy="1133.8" r="3.5"/><circle cx="352.8" cy="1134.8" r="3.5"/><circle cx="367.1" cy="1104.5" r="3.5"/><circle cx="354.4" cy="1121.7" r="3.5"/><circle cx="361.5" cy="1125.7" r="3.5"/><circle cx="361.7" cy="1134.3" r="3.5"/><circle cx="345.1" cy="1134.6" r="3.5"/><circle cx="362.3" cy="1087.8" r="3.5"/><circle cx="322.7" cy="1130.1" r="3.5"/><circle cx="363.0" cy="1112.0" r="3.5"/><circle cx="347.4" cy="1071.5" r="3.5"/><circle cx="365.4" cy="1105.1" r="3.5"/><circle cx="351.2" cy="1133.3" r="3.5"/><circle cx="360.4" cy="1118.8" r="3.5"/><circle cx="359.3" cy="1125.1" r="3.5"/><circle cx="355.4" cy="1128.6" r="3.5"/><circle cx="353.1" cy="1114.2" r="3.5"/><circle cx="359.3" cy="1123.3" r="3.5"/><circle cx="368.0" cy="1127.2" r="3.5"/><circle cx="363.7" cy="1128.0" r="3.5"/><circle cx="362.8" cy="1130.3" r="3.5"/><circle cx="367.8" cy="1122.7" r="3.5"/><circle cx="363.1" cy="1134.8" r="3.5"/><circle cx="367.3" cy="1114.8" r="3.5"/><circle cx="364.9" cy="1130.2" r="3.5"/><circle cx="367.4" cy="1121.1" r="3.5"/><circle cx="365.8" cy="1082.9" r="3.5"/><circle cx="357.5" cy="1103.3" r="3.5"/><circle cx="359.5" cy="1096.0" r="3.5"/><circle cx="361.5" cy="1121.9" r="3.5"/><circle cx="350.3" cy="1130.5" r="3.5"/><circle cx="361.5" cy="1133.2" r="3.5"/><circle cx="353.0" cy="1122.2" r="3.5"/><circle cx="361.3" cy="1122.2" r="3.5"/><circle cx="365.4" cy="1109.3" r="3.5"/><circle cx="366.3" cy="1098.1" r="3.5"/><circle cx="365.9" cy="1110.9" r="3.5"/><circle cx="345.6" cy="1130.3" r="3.5"/><circle cx="365.9" cy="1092.9" r="3.5"/><circle cx="337.7" cy="1129.2" r="3.5"/><circle cx="362.7" cy="1115.3" r="3.5"/><circle cx="366.3" cy="1114.5" r="3.5"/><circle cx="338.3" cy="1116.9" r="3.5"/><circle cx="365.3" cy="1127.0" r="3.5"/><circle cx="357.7" cy="1113.3" r="3.5"/><circle cx="359.5" cy="1108.1" r="3.5"/><circle cx="351.4" cy="1120.1" r="3.5"/><circle cx="366.8" cy="1093.2" r="3.5"/><circle cx="366.4" cy="1131.8" r="3.5"/><circle cx="364.9" cy="1068.7" r="3.5"/><circle cx="365.5" cy="1091.3" r="3.5"/><circle cx="365.0" cy="1129.8" r="3.5"/></g>
<g fill="#dd2222"><circle cx="434.1" cy="840.2" r="3.5"/><circle cx="481.5" cy="903.0" r="3.5"/><circle cx="450.7" cy="913.0" r="3.5"/><circle cx="458.5" cy="948.2" r="3.5"/><circle cx="461.5" cy="972.0" r="3.5"/><circle cx="447.4" cy="976.1" r="3.5"/><circle cx="474.0" cy="985.3" r="3.5"/><circle cx="449.5" cy="993.9" r="3.5"/><circle cx="477.6" cy="1009.7" r="3.5"/><circle cx="519.4" cy="1012.7" r="3.5"/><circle cx="425.8" cy="1016.9" r="3.5"/><circle cx="432.4" cy="1022.7" r="3.5"/><circle cx="442.4" cy="1019.4" r="3.5"/><circle cx="446.6" cy="1021.0" r="3.5"/><circle cx="463.7" cy="1025.2" r="3.5"/><circle cx="430.4" cy="1031.0" r="3.5"/><circle cx="430.4" cy="1042.6" r="3.5"/><circle cx="440.4" cy="1049.3" r="3.5"/><circle cx="459.0" cy="1052.6" r="3.5"/><circle cx="467.3" cy="1057.3" r="3.5"/><circle cx="486.5" cy="1060.1" r="3.5"/><circle cx="493.1" cy="1057.6" r="3.5"/><circle cx="467.8" cy="1068.4" r="3.5"/><circle cx="457.0" cy="1072.6" r="3.5"/><circle cx="526.4" cy="1072.6" r="3.5"/><circle cx="445.7" cy="1075.9" r="3.5"/><circle cx="460.7" cy="1087.5" r="3.5"/><circle cx="469.0" cy="1087.5" r="3.5"/><circle cx="485.3" cy="1087.5" r="3.5"/><circle cx="503.4" cy="1087.5" r="3.5"/><circle cx="523.0" cy="1092.5" r="3.5"/><circle cx="449.9" cy="1102.5" r="3.5"/><circle cx="485.6" cy="1110.8" r="3.5"/><circle cx="540.5" cy="1125.0" r="3.5"/><circle cx="493.9" cy="1130.8" r="3.5"/><circle cx="475.6" cy="1125.8" r="3.5"/><circle cx="466.5" cy="1129.1" r="3.5"/><circle cx="460.7" cy="1114.0" r="3.5"/><circle cx="465.0" cy="1118.0" r="3.5"/><circle cx="470.0" cy="1122.0" r="3.5"/><circle cx="450.0" cy="1098.0" r="3.5"/><circle cx="454.0" cy="1094.0" r="3.5"/><circle cx="436.7" cy="1134.4" r="3.5"/><circle cx="428.1" cy="1115.2" r="3.5"/><circle cx="433.2" cy="1124.8" r="3.5"/><circle cx="434.1" cy="1086.7" r="3.5"/><circle cx="427.0" cy="1119.2" r="3.5"/><circle cx="439.6" cy="1116.5" r="3.5"/><circle cx="428.8" cy="1096.8" r="3.5"/><circle cx="427.7" cy="1133.2" r="3.5"/><circle cx="435.3" cy="1082.6" r="3.5"/><circle cx="434.9" cy="1074.3" r="3.5"/><circle cx="431.8" cy="1129.5" r="3.5"/><circle cx="431.8" cy="1112.3" r="3.5"/><circle cx="428.4" cy="1081.9" r="3.5"/><circle cx="440.8" cy="1125.3" r="3.5"/><circle cx="430.0" cy="1126.1" r="3.5"/><circle cx="428.4" cy="1108.9" r="3.5"/><circle cx="433.1" cy="1106.7" r="3.5"/><circle cx="434.7" cy="1092.4" r="3.5"/><circle cx="446.3" cy="1129.5" r="3.5"/><circle cx="426.4" cy="1121.3" r="3.5"/><circle cx="440.9" cy="1126.1" r="3.5"/><circle cx="426.5" cy="1132.5" r="3.5"/><circle cx="434.4" cy="1119.6" r="3.5"/><circle cx="426.9" cy="1111.7" r="3.5"/><circle cx="445.5" cy="1111.0" r="3.5"/><circle cx="446.3" cy="1127.3" r="3.5"/><circle cx="429.0" cy="1131.0" r="3.5"/><circle cx="437.2" cy="1125.8" r="3.5"/><circle cx="427.6" cy="1117.2" r="3.5"/><circle cx="426.3" cy="1092.1" r="3.5"/><circle cx="431.9" cy="1099.3" r="3.5"/><circle cx="431.3" cy="1106.6" r="3.5"/><circle cx="456.6" cy="1087.9" r="3.5"/><circle cx="437.6" cy="1132.7" r="3.5"/><circle cx="426.4" cy="1117.4" r="3.5"/><circle cx="427.0" cy="1128.0" r="3.5"/><circle cx="427.9" cy="1132.9" r="3.5"/><circle cx="428.4" cy="1133.8" r="3.5"/><circle cx="430.3" cy="1124.8" r="3.5"/><circle cx="431.5" cy="1113.2" r="3.5"/><circle cx="426.8" cy="1087.2" r="3.5"/><circle cx="452.8" cy="1123.1" r="3.5"/><circle cx="426.8" cy="1129.4" r="3.5"/><circle cx="432.4" cy="1120.3" r="3.5"/><circle cx="427.6" cy="1120.6" r="3.5"/><circle cx="434.2" cy="1091.6" r="3.5"/><circle cx="427.3" cy="1115.8" r="3.5"/><circle cx="435.8" cy="1104.8" r="3.5"/><circle cx="429.1" cy="1093.2" r="3.5"/><circle cx="437.6" cy="1132.8" r="3.5"/><circle cx="428.0" cy="1113.0" r="3.5"/><circle cx="428.7" cy="1113.8" r="3.5"/><circle cx="441.9" cy="1131.3" r="3.5"/><circle cx="434.4" cy="1117.4" r="3.5"/><circle cx="426.3" cy="1131.5" r="3.5"/><circle cx="432.8" cy="1103.1" r="3.5"/><circle cx="429.0" cy="1081.2" r="3.5"/><circle cx="427.8" cy="1077.9" r="3.5"/><circle cx="436.0" cy="1124.6" r="3.5"/><circle cx="427.6" cy="1111.9" r="3.5"/><circle cx="433.7" cy="1119.4" r="3.5"/><circle cx="436.0" cy="1132.5" r="3.5"/><circle cx="429.2" cy="1091.3" r="3.5"/><circle cx="426.4" cy="1131.6" r="3.5"/><circle cx="428.0" cy="1117.6" r="3.5"/><circle cx="429.6" cy="1104.7" r="3.5"/><circle cx="431.0" cy="1110.5" r="3.5"/><circle cx="428.6" cy="1116.7" r="3.5"/><circle cx="427.6" cy="1131.8" r="3.5"/><circle cx="428.0" cy="1122.3" r="3.5"/><circle cx="451.9" cy="1098.3" r="3.5"/><circle cx="434.3" cy="1108.9" r="3.5"/><circle cx="431.9" cy="1133.9" r="3.5"/><circle cx="427.3" cy="1133.1" r="3.5"/><circle cx="440.6" cy="1124.9" r="3.5"/><circle cx="426.5" cy="1117.8" r="3.5"/><circle cx="434.2" cy="1121.6" r="3.5"/><circle cx="445.1" cy="1116.0" r="3.5"/><circle cx="426.9" cy="1080.2" r="3.5"/><circle cx="447.3" cy="1098.6" r="3.5"/><circle cx="435.5" cy="1135.0" r="3.5"/><circle cx="442.5" cy="1128.2" r="3.5"/><circle cx="431.1" cy="1132.5" r="3.5"/><circle cx="430.7" cy="1119.5" r="3.5"/><circle cx="430.7" cy="1131.0" r="3.5"/><circle cx="435.7" cy="1096.6" r="3.5"/><circle cx="438.5" cy="1134.1" r="3.5"/><circle cx="439.5" cy="1131.5" r="3.5"/><circle cx="430.1" cy="1088.1" r="3.5"/><circle cx="427.4" cy="1126.6" r="3.5"/><circle cx="441.1" cy="1100.3" r="3.5"/><circle cx="446.4" cy="1110.7" r="3.5"/><circle cx="426.8" cy="1126.1" r="3.5"/><circle cx="432.0" cy="1106.3" r="3.5"/><circle cx="436.5" cy="1126.6" r="3.5"/><circle cx="431.7" cy="1120.5" r="3.5"/><circle cx="427.5" cy="1110.0" r="3.5"/><circle cx="426.6" cy="1110.2" r="3.5"/><circle cx="428.6" cy="1132.7" r="3.5"/><circle cx="430.3" cy="1115.2" r="3.5"/><circle cx="427.3" cy="1112.9" r="3.5"/><circle cx="433.7" cy="1104.4" r="3.5"/><circle cx="428.9" cy="1118.9" r="3.5"/><circle cx="456.0" cy="1127.5" r="3.5"/><circle cx="461.2" cy="1133.1" r="3.5"/><circle cx="428.3" cy="1126.9" r="3.5"/><circle cx="429.8" cy="1105.7" r="3.5"/><circle cx="429.7" cy="1132.8" r="3.5"/><circle cx="429.3" cy="1127.5" r="3.5"/><circle cx="431.4" cy="1126.3" r="3.5"/><circle cx="426.4" cy="1134.6" r="3.5"/><circle cx="448.8" cy="1077.4" r="3.5"/><circle cx="428.8" cy="1124.8" r="3.5"/><circle cx="426.7" cy="1127.7" r="3.5"/><circle cx="438.4" cy="1126.3" r="3.5"/><circle cx="428.3" cy="1076.9" r="3.5"/><circle cx="427.4" cy="1122.3" r="3.5"/><circle cx="430.0" cy="1117.5" r="3.5"/><circle cx="434.1" cy="1123.4" r="3.5"/><circle cx="426.6" cy="1104.2" r="3.5"/><circle cx="446.8" cy="1099.7" r="3.5"/><circle cx="435.9" cy="1107.1" r="3.5"/><circle cx="445.0" cy="1130.4" r="3.5"/><circle cx="432.6" cy="1116.7" r="3.5"/><circle cx="433.3" cy="1130.2" r="3.5"/><circle cx="443.1" cy="1128.7" r="3.5"/><circle cx="434.4" cy="1089.6" r="3.5"/><circle cx="442.8" cy="1109.4" r="3.5"/><circle cx="427.5" cy="1114.0" r="3.5"/><circle cx="427.9" cy="1109.3" r="3.5"/><circle cx="428.7" cy="1099.7" r="3.5"/><circle cx="440.9" cy="1069.9" r="3.5"/><circle cx="444.3" cy="1107.0" r="3.5"/><circle cx="441.2" cy="1130.0" r="3.5"/><circle cx="440.1" cy="1097.2" r="3.5"/><circle cx="438.2" cy="1103.6" r="3.5"/><circle cx="430.9" cy="1103.1" r="3.5"/><circle cx="430.0" cy="1071.2" r="3.5"/><circle cx="437.1" cy="1106.5" r="3.5"/><circle cx="427.4" cy="1131.1" r="3.5"/><circle cx="434.5" cy="1089.1" r="3.5"/><circle cx="436.0" cy="1128.4" r="3.5"/><circle cx="434.5" cy="1121.6" r="3.5"/><circle cx="442.4" cy="1122.9" r="3.5"/><circle cx="427.0" cy="1099.1" r="3.5"/><circle cx="432.0" cy="1105.1" r="3.5"/><circle cx="429.0" cy="1134.0" r="3.5"/><circle cx="430.5" cy="1100.9" r="3.5"/><circle cx="430.9" cy="1131.5" r="3.5"/><circle cx="426.9" cy="1132.9" r="3.5"/><circle cx="426.2" cy="1129.2" r="3.5"/><circle cx="437.7" cy="1123.1" r="3.5"/><circle cx="435.5" cy="1106.9" r="3.5"/><circle cx="475.0" cy="1099.4" r="3.5"/><circle cx="432.0" cy="1127.2" r="3.5"/><circle cx="427.8" cy="1113.9" r="3.5"/><circle cx="429.9" cy="1112.8" r="3.5"/><circle cx="428.9" cy="1130.8" r="3.5"/><circle cx="433.4" cy="1124.7" r="3.5"/><circle cx="428.6" cy="1109.6" r="3.5"/><circle cx="445.1" cy="1131.6" r="3.5"/><circle cx="429.4" cy="1134.9" r="3.5"/><circle cx="431.7" cy="1086.4" r="3.5"/><circle cx="431.5" cy="1111.4" r="3.5"/><circle cx="427.2" cy="1117.1" r="3.5"/><circle cx="428.4" cy="1104.5" r="3.5"/><circle cx="452.8" cy="1110.0" r="3.5"/><circle cx="437.1" cy="1133.4" r="3.5"/><circle cx="427.1" cy="1134.2" r="3.5"/><circle cx="438.1" cy="1115.6" r="3.5"/><circle cx="427.7" cy="1114.4" r="3.5"/><circle cx="428.1" cy="1098.9" r="3.5"/><circle cx="448.5" cy="1123.1" r="3.5"/><circle cx="428.0" cy="1125.1" r="3.5"/><circle cx="427.9" cy="1128.3" r="3.5"/><circle cx="428.9" cy="1090.9" r="3.5"/><circle cx="426.3" cy="1134.4" r="3.5"/><circle cx="432.8" cy="1107.4" r="3.5"/><circle cx="427.8" cy="1121.1" r="3.5"/><circle cx="442.7" cy="1109.5" r="3.5"/><circle cx="434.5" cy="1129.3" r="3.5"/><circle cx="431.0" cy="1125.8" r="3.5"/><circle cx="427.0" cy="1128.9" r="3.5"/><circle cx="428.2" cy="1102.8" r="3.5"/><circle cx="427.7" cy="1135.1" r="3.5"/><circle cx="426.9" cy="1128.8" r="3.5"/><circle cx="428.3" cy="1117.1" r="3.5"/><circle cx="432.3" cy="1125.0" r="3.5"/><circle cx="427.6" cy="1084.6" r="3.5"/><circle cx="429.3" cy="1127.0" r="3.5"/><circle cx="432.6" cy="1120.0" r="3.5"/><circle cx="434.8" cy="1134.2" r="3.5"/><circle cx="444.9" cy="1132.9" r="3.5"/><circle cx="429.4" cy="1122.9" r="3.5"/><circle cx="431.1" cy="1124.4" r="3.5"/><circle cx="431.4" cy="1121.7" r="3.5"/><circle cx="431.6" cy="1128.1" r="3.5"/><circle cx="430.9" cy="1108.5" r="3.5"/><circle cx="437.1" cy="1105.9" r="3.5"/><circle cx="432.3" cy="1124.7" r="3.5"/><circle cx="429.2" cy="1106.0" r="3.5"/><circle cx="441.4" cy="1106.0" r="3.5"/><circle cx="426.5" cy="1124.4" r="3.5"/><circle cx="433.4" cy="1128.9" r="3.5"/><circle cx="434.6" cy="1092.6" r="3.5"/><circle cx="432.9" cy="1111.9" r="3.5"/><circle cx="436.6" cy="1124.9" r="3.5"/><circle cx="449.9" cy="1099.9" r="3.5"/><circle cx="433.3" cy="1095.5" r="3.5"/><circle cx="429.5" cy="1116.9" r="3.5"/><circle cx="434.7" cy="1112.3" r="3.5"/><circle cx="429.5" cy="1124.5" r="3.5"/><circle cx="431.2" cy="1120.8" r="3.5"/><circle cx="434.3" cy="1133.3" r="3.5"/><circle cx="433.2" cy="1124.6" r="3.5"/><circle cx="426.7" cy="1108.5" r="3.5"/><circle cx="443.9" cy="1079.0" r="3.5"/><circle cx="428.7" cy="1088.8" r="3.5"/><circle cx="436.0" cy="1112.9" r="3.5"/><circle cx="427.0" cy="1133.7" r="3.5"/><circle cx="440.2" cy="1084.3" r="3.5"/><circle cx="433.7" cy="1080.1" r="3.5"/><circle cx="432.5" cy="1122.4" r="3.5"/><circle cx="429.5" cy="1077.6" r="3.5"/></g>
<line x1="368.8" y1="784.4" x2="368.8" y2="1267.6" stroke="#222" stroke-width="1.6" stroke-dasharray="4 3"/>
<line x1="425.6" y1="784.4" x2="425.6" y2="1267.6" stroke="#222" stroke-width="1.6" stroke-dasharray="4 3"/>
<line x1="139.5" y1="1136.1" x2="656.0" y2="1136.1" stroke="#8c8c8c" stroke-width="2.6" stroke-dasharray="4 6"/>
</svg>
<rect x="129.5" y="774.4" width="534.5" height="493.19999999999993" fill="none" stroke="#767676" stroke-width="3.6"/>
<text x="212.8" y="799.4" font-size="27" text-anchor="middle" fill="#2f73b5" >Donkey</text>
<text x="217.2" y="835.3" font-size="27.6" text-anchor="middle" fill="#2f73b5" >(DEP n=548)</text>
<text x="577.6" y="799.4" font-size="27" text-anchor="middle" fill="#dd2a2a" >Horse</text>
<text x="577.2" y="835.3" font-size="27.6" text-anchor="middle" fill="#dd2a2a" >(DEP n=814)</text>
<line x1="123.8" y1="1265.5" x2="129.5" y2="1265.5" stroke="#707070" stroke-width="2.4" />
<text x="117.9" y="1274.8" font-size="26.5" text-anchor="end" fill="#222" >0</text>
<line x1="123.8" y1="1166.0" x2="129.5" y2="1166.0" stroke="#707070" stroke-width="2.4" />
<text x="117.9" y="1175.2" font-size="26.5" text-anchor="end" fill="#222" >1</text>
<line x1="123.8" y1="1066.5" x2="129.5" y2="1066.5" stroke="#707070" stroke-width="2.4" />
<text x="117.9" y="1075.8" font-size="26.5" text-anchor="end" fill="#222" >2</text>
<line x1="123.8" y1="967.0" x2="129.5" y2="967.0" stroke="#707070" stroke-width="2.4" />
<text x="117.9" y="976.2" font-size="26.5" text-anchor="end" fill="#222" >3</text>
<line x1="123.8" y1="867.5" x2="129.5" y2="867.5" stroke="#707070" stroke-width="2.4" />
<text x="117.9" y="876.8" font-size="26.5" text-anchor="end" fill="#222" >4</text>
<line x1="255.4" y1="1267.6" x2="255.4" y2="1271.6" stroke="#707070" stroke-width="2.4" />
<line x1="397.2" y1="1267.6" x2="397.2" y2="1271.6" stroke="#707070" stroke-width="2.4" />
<line x1="539.0" y1="1267.6" x2="539.0" y2="1271.6" stroke="#707070" stroke-width="2.4" />
<text x="237.9" y="1299.2" font-size="26.5" text-anchor="start" fill="#222" >−5</text>
<text x="397.7" y="1299.2" font-size="26.5" text-anchor="middle" fill="#222" >0</text>
<text x="539.5" y="1299.2" font-size="26.5" text-anchor="middle" fill="#222" >5</text>
<text x="281.6" y="1332.4" font-size="28" fill="#1a1a1a">Log<tspan font-size="14.5" dy="9.6">2</tspan><tspan dy="-9.6"> (Fold change)</tspan></text>
<text transform="translate(78.6,1119.2) rotate(-90)" font-size="28" fill="#1a1a1a">−Log<tspan font-size="15" dy="10">10</tspan><tspan dy="-10"> (P-value)</tspan></text>
<text x="761.8" y="787.0" font-size="84" text-anchor="start" fill="#000" >e</text>
<line x1="813.9" y1="1176.8" x2="1520.1" y2="1176.8" stroke="#dcdcdc" stroke-width="1.6" stroke-dasharray="9 9"/>
<line x1="813.9" y1="1088.7" x2="1520.1" y2="1088.7" stroke="#dcdcdc" stroke-width="1.6" stroke-dasharray="9 9"/>
<line x1="813.9" y1="1000.5" x2="1520.1" y2="1000.5" stroke="#dcdcdc" stroke-width="1.6" stroke-dasharray="9 9"/>
<line x1="813.9" y1="912.4" x2="1520.1" y2="912.4" stroke="#dcdcdc" stroke-width="1.6" stroke-dasharray="9 9"/>
<rect x="828.9" y="824.2" width="87.5" height="242.3" fill="#edad41" />
<rect x="828.9" y="1066.2" width="87.5" height="103.4" fill="#5fd4f5" />
<rect x="828.9" y="1169.3" width="87.5" height="51.2" fill="#ee3d47" />
<rect x="828.9" y="1220.3" width="87.5" height="38.9" fill="#27c27b" />
<rect x="828.9" y="1258.8" width="87.5" height="6.5" fill="#e6e41b" />
<line x1="872.6" y1="1265.0" x2="872.6" y2="1275.0" stroke="#555" stroke-width="2.2" />
<text x="872.6" y="1300.3" font-size="24.3" text-anchor="middle" fill="#222" >H-SE-1</text>
<rect x="946.7" y="824.2" width="87.5" height="232.2" fill="#edad41" />
<rect x="946.7" y="1056.1" width="87.5" height="106.1" fill="#5fd4f5" />
<rect x="946.7" y="1161.9" width="87.5" height="51.9" fill="#ee3d47" />
<rect x="946.7" y="1213.4" width="87.5" height="40.4" fill="#27c27b" />
<rect x="946.7" y="1253.5" width="87.5" height="11.8" fill="#e6e41b" />
<line x1="990.4" y1="1265.0" x2="990.4" y2="1275.0" stroke="#555" stroke-width="2.2" />
<text x="990.4" y="1300.3" font-size="24.3" text-anchor="middle" fill="#222" >H-SE-2</text>
<rect x="1064.5" y="824.2" width="87.5" height="261.3" fill="#edad41" />
<rect x="1064.5" y="1085.2" width="87.5" height="72.2" fill="#5fd4f5" />
<rect x="1064.5" y="1157.0" width="87.5" height="55.8" fill="#ee3d47" />
<rect x="1064.5" y="1212.5" width="87.5" height="38.6" fill="#27c27b" />
<rect x="1064.5" y="1250.9" width="87.5" height="14.4" fill="#e6e41b" />
<line x1="1108.2" y1="1265.0" x2="1108.2" y2="1275.0" stroke="#555" stroke-width="2.2" />
<text x="1108.2" y="1300.3" font-size="24.3" text-anchor="middle" fill="#222" >H-SE-3</text>
<rect x="1182.3" y="824.2" width="87.5" height="180.6" fill="#edad41" />
<rect x="1182.3" y="1004.5" width="87.5" height="115.3" fill="#5fd4f5" />
<rect x="1182.3" y="1119.5" width="87.5" height="99.0" fill="#ee3d47" />
<rect x="1182.3" y="1218.3" width="87.5" height="47.0" fill="#27c27b" />
<line x1="1226.0" y1="1265.0" x2="1226.0" y2="1275.0" stroke="#555" stroke-width="2.2" />
<text x="1226.0" y="1300.3" font-size="24.3" text-anchor="middle" fill="#222" >D-SE-1</text>
<rect x="1300.1" y="824.2" width="87.5" height="239.2" fill="#edad41" />
<rect x="1300.1" y="1063.1" width="87.5" height="82.7" fill="#5fd4f5" />
<rect x="1300.1" y="1145.5" width="87.5" height="80.1" fill="#ee3d47" />
<rect x="1300.1" y="1225.3" width="87.5" height="40.0" fill="#27c27b" />
<line x1="1343.8" y1="1265.0" x2="1343.8" y2="1275.0" stroke="#555" stroke-width="2.2" />
<text x="1343.8" y="1300.3" font-size="24.3" text-anchor="middle" fill="#222" >D-SE-2</text>
<rect x="1417.9" y="824.2" width="87.5" height="170.9" fill="#edad41" />
<rect x="1417.9" y="994.8" width="87.5" height="136.1" fill="#5fd4f5" />
<rect x="1417.9" y="1130.6" width="87.5" height="87.1" fill="#ee3d47" />
<rect x="1417.9" y="1217.4" width="87.5" height="47.9" fill="#27c27b" />
<line x1="1461.7" y1="1265.0" x2="1461.7" y2="1275.0" stroke="#555" stroke-width="2.2" />
<text x="1461.7" y="1300.3" font-size="24.3" text-anchor="middle" fill="#222" >D-SE-3</text>
<rect x="813.9" y="824.2" width="706.1999999999999" height="440.79999999999995" fill="none" stroke="#555" stroke-width="2.6"/>
<text x="797.5" y="1273.5" font-size="24" text-anchor="end" fill="#222" >0</text>
<line x1="803.0" y1="1176.8" x2="813.9" y2="1176.8" stroke="#555" stroke-width="2.2" />
<text x="797.5" y="1185.3" font-size="24" text-anchor="end" fill="#222" >20</text>
<line x1="803.0" y1="1088.7" x2="813.9" y2="1088.7" stroke="#555" stroke-width="2.2" />
<text x="797.5" y="1097.2" font-size="24" text-anchor="end" fill="#222" >40</text>
<line x1="803.0" y1="1000.5" x2="813.9" y2="1000.5" stroke="#555" stroke-width="2.2" />
<text x="797.5" y="1009.0" font-size="24" text-anchor="end" fill="#222" >60</text>
<line x1="803.0" y1="912.4" x2="813.9" y2="912.4" stroke="#555" stroke-width="2.2" />
<text x="797.5" y="920.9" font-size="24" text-anchor="end" fill="#222" >80</text>
<line x1="803.0" y1="824.2" x2="813.9" y2="824.2" stroke="#555" stroke-width="2.2" />
<text x="797.5" y="832.7" font-size="24" text-anchor="end" fill="#222" >100</text>
<rect x="1563.0" y="823.6" width="19.0" height="18.2" fill="#edad41" />
<text x="1590.6" y="841.0" font-size="23.6" text-anchor="start" fill="#3a3a3a" >B3GAT3</text>
<rect x="1563.0" y="858.1" width="19.0" height="18.2" fill="#5fd4f5" />
<text x="1590.6" y="875.5" font-size="23.6" text-anchor="start" fill="#3a3a3a" >XYLT2</text>
<rect x="1563.0" y="892.5" width="19.0" height="18.2" fill="#ee3d47" />
<text x="1590.6" y="909.9" font-size="23.6" text-anchor="start" fill="#3a3a3a" >CHST14</text>
<rect x="1563.0" y="927.0" width="19.0" height="18.2" fill="#27c27b" />
<text x="1590.6" y="944.4" font-size="23.6" text-anchor="start" fill="#3a3a3a" >GLCE</text>
<rect x="1563.0" y="961.4" width="19.0" height="18.2" fill="#e6e41b" />
<text x="1590.6" y="978.8" font-size="23.6" text-anchor="start" fill="#3a3a3a" >HS2ST1</text>
<text x="43.6" y="1467.7" font-size="84" text-anchor="start" fill="#000" >d</text>
<line x1="1095.2" y1="1455.9" x2="1095.2" y2="2293.6" stroke="#e4e4e4" stroke-width="3.2" stroke-dasharray="9 12.7"/>
<line x1="1259.2" y1="1455.9" x2="1259.2" y2="2293.6" stroke="#e4e4e4" stroke-width="3.2" stroke-dasharray="9 12.7"/>
<line x1="1423.2" y1="1455.9" x2="1423.2" y2="2293.6" stroke="#e4e4e4" stroke-width="3.2" stroke-dasharray="9 12.7"/>
<line x1="948.5" y1="1498.0" x2="1471.3" y2="1498.0" stroke="#dadada" stroke-width="2.3" stroke-dasharray="11 9.6"/>
<line x1="948.5" y1="1582.0" x2="1471.3" y2="1582.0" stroke="#dadada" stroke-width="2.3" stroke-dasharray="11 9.6"/>
<line x1="948.5" y1="1665.5" x2="1471.3" y2="1665.5" stroke="#dadada" stroke-width="2.3" stroke-dasharray="11 9.6"/>
<line x1="948.5" y1="1749.5" x2="1471.3" y2="1749.5" stroke="#dadada" stroke-width="2.3" stroke-dasharray="11 9.6"/>
<line x1="948.5" y1="1833.5" x2="1471.3" y2="1833.5" stroke="#dadada" stroke-width="2.3" stroke-dasharray="11 9.6"/>
<line x1="948.5" y1="1916.7" x2="1471.3" y2="1916.7" stroke="#dadada" stroke-width="2.3" stroke-dasharray="11 9.6"/>
<line x1="948.5" y1="2000.7" x2="1471.3" y2="2000.7" stroke="#dadada" stroke-width="2.3" stroke-dasharray="11 9.6"/>
<line x1="948.5" y1="2084.7" x2="1471.3" y2="2084.7" stroke="#dadada" stroke-width="2.3" stroke-dasharray="11 9.6"/>
<line x1="948.5" y1="2168.3" x2="1471.3" y2="2168.3" stroke="#dadada" stroke-width="2.3" stroke-dasharray="11 9.6"/>
<line x1="948.5" y1="2252.3" x2="1471.3" y2="2252.3" stroke="#dadada" stroke-width="2.3" stroke-dasharray="11 9.6"/>
<text x="933.7" y="1506.6" font-size="27.9" text-anchor="end" fill="#1a1a1a" >cell adhesion molecules</text>
<text x="931.9" y="1593.8" font-size="27.9" text-anchor="end" fill="#1a1a1a" >Glycosaminoglycan biosynthesis - chondroitin sulfate / dermatan sulfate</text>
<text x="929.6" y="1675.6" font-size="27.9" text-anchor="end" fill="#1a1a1a" >Glycosaminoglycan biosynthesis - heparan sulfate / heparin</text>
<text x="929.0" y="1757.9" font-size="27.9" text-anchor="end" fill="#1a1a1a" >Antifolate resistance</text>
<text x="929.5" y="1842.7" font-size="27.9" text-anchor="end" fill="#1a1a1a" >Cell cycle</text>
<text x="929.6" y="1923.9" font-size="27.9" text-anchor="end" fill="#1a1a1a" >Neuroactive ligand - receptor interaction</text>
<text x="927.8" y="2011.7" font-size="27.9" text-anchor="end" fill="#1a1a1a" >Non-small cell lung cancer</text>
<text x="927.5" y="2096.3" font-size="27.9" text-anchor="end" fill="#1a1a1a" >Cell cycle - yeast</text>
<text x="930.6" y="2180.2" font-size="27.9" text-anchor="end" fill="#1a1a1a" >Malaria</text>
<text x="928.3" y="2262.7" font-size="27.9" text-anchor="end" fill="#1a1a1a" >Metabolic pathways</text>
<circle cx="1111.3" cy="1498.0" r="12.6" fill="#d4473d" stroke="#333" stroke-width="1.4"/>
<circle cx="1421.7" cy="1582.0" r="10.9" fill="#a97d8b" stroke="#333" stroke-width="1.4"/>
<circle cx="1257.2" cy="1665.5" r="10.9" fill="#8b89ae" stroke="#333" stroke-width="1.4"/>
<circle cx="1185.2" cy="1749.5" r="10.9" fill="#7d9fd0" stroke="#333" stroke-width="1.4"/>
<circle cx="1133.9" cy="1833.5" r="10.9" fill="#4aa1e2" stroke="#333" stroke-width="1.4"/>
<circle cx="1092.7" cy="1916.7" r="10.9" fill="#3d91df" stroke="#333" stroke-width="1.4"/>
<circle cx="1108.8" cy="2000.7" r="10.9" fill="#3d91df" stroke="#333" stroke-width="1.4"/>
<circle cx="1117.8" cy="2084.7" r="10.9" fill="#3d91df" stroke="#333" stroke-width="1.4"/>
<circle cx="1117.8" cy="2168.3" r="10.9" fill="#3d91df" stroke="#333" stroke-width="1.4"/>
<circle cx="1023.3" cy="2252.3" r="27.5" fill="#3a8fdf" stroke="#333" stroke-width="1.4"/>
<rect x="948.5" y="1455.9" width="522.8" height="837.6999999999998" fill="none" stroke="#7d7d7d" stroke-width="4.4"/>
<text x="1094.7" y="2332.8" font-size="28" text-anchor="middle" fill="#222" >0.2</text>
<text x="1258.7" y="2332.8" font-size="28" text-anchor="middle" fill="#222" >0.4</text>
<text x="1422.7" y="2332.8" font-size="28" text-anchor="middle" fill="#222" >0.6</text>
<text x="1261.0" y="2370.5" font-size="27.6" text-anchor="middle" fill="#1a1a1a" >Rich Factor</text>
<text x="1589.7" y="1486.4" font-size="27.9" text-anchor="middle" fill="#1a1a1a" >Gene Number</text>
<circle cx="1528.8" cy="1544.8" r="10.5" fill="#636363" />
<text x="1589.2" y="1545.8" font-size="27" text-anchor="start" fill="#222" >0</text>
<circle cx="1528.8" cy="1616.2" r="14.5" fill="#636363" />
<text x="1589.2" y="1617.2" font-size="27" text-anchor="start" fill="#222" >0.25</text>
<circle cx="1528.8" cy="1687.6" r="19.3" fill="#636363" />
<text x="1589.2" y="1689.0" font-size="27" text-anchor="start" fill="#222" >0.5</text>
<circle cx="1528.8" cy="1758.0" r="23.4" fill="#636363" />
<text x="1589.2" y="1760.6" font-size="27" text-anchor="start" fill="#222" >0.75</text>
<circle cx="1528.8" cy="1830.0" r="27.2" fill="#636363" />
<text x="1589.2" y="1830.0" font-size="27" text-anchor="start" fill="#222" >1</text>
<text x="1501.3" y="1910" font-size="27.9" fill="#1a1a1a">-log<tspan font-size="16.5" dx="2.6" dy="8.5">10</tspan><tspan dx="0.8" dy="-8.5">(Pvalue)</tspan></text>
<defs><linearGradient id="cb" x1="0" y1="0" x2="0" y2="1"><stop offset="0" stop-color="#db4a44"/><stop offset="0.2" stop-color="#d66068"/><stop offset="0.44" stop-color="#a27a8c"/><stop offset="0.62" stop-color="#8a8ab4"/><stop offset="0.8" stop-color="#6aa6dc"/><stop offset="1" stop-color="#3a92e8"/></linearGradient></defs>
<rect x="1502.0" y="1943.5" width="32.7" height="211.0" fill="url(#cb)" />
<line x1="1502.0" y1="1987.7" x2="1508.5" y2="1987.7" stroke="#fff" stroke-width="1.6" />
<line x1="1528.0" y1="1987.7" x2="1534.7" y2="1987.7" stroke="#fff" stroke-width="1.6" />
<line x1="1502.0" y1="2036.1" x2="1508.5" y2="2036.1" stroke="#fff" stroke-width="1.6" />
<line x1="1528.0" y1="2036.1" x2="1534.7" y2="2036.1" stroke="#fff" stroke-width="1.6" />
<line x1="1502.0" y1="2082.1" x2="1508.5" y2="2082.1" stroke="#fff" stroke-width="1.6" />
<line x1="1528.0" y1="2082.1" x2="1534.7" y2="2082.1" stroke="#fff" stroke-width="1.6" />
<line x1="1502.0" y1="2130.5" x2="1508.5" y2="2130.5" stroke="#fff" stroke-width="1.6" />
<line x1="1528.0" y1="2130.5" x2="1534.7" y2="2130.5" stroke="#fff" stroke-width="1.6" />
<text x="1541.5" y="1991.7" font-size="27.5" text-anchor="start" fill="#222" >2.25</text>
<text x="1541.5" y="2039.8" font-size="27.5" text-anchor="start" fill="#222" >2</text>
<text x="1541.5" y="2086.0" font-size="27.5" text-anchor="start" fill="#222" >1.75</text>
<text x="1541.5" y="2134.4" font-size="27.5" text-anchor="start" fill="#222" >1.5</text>
</svg></body></html>
